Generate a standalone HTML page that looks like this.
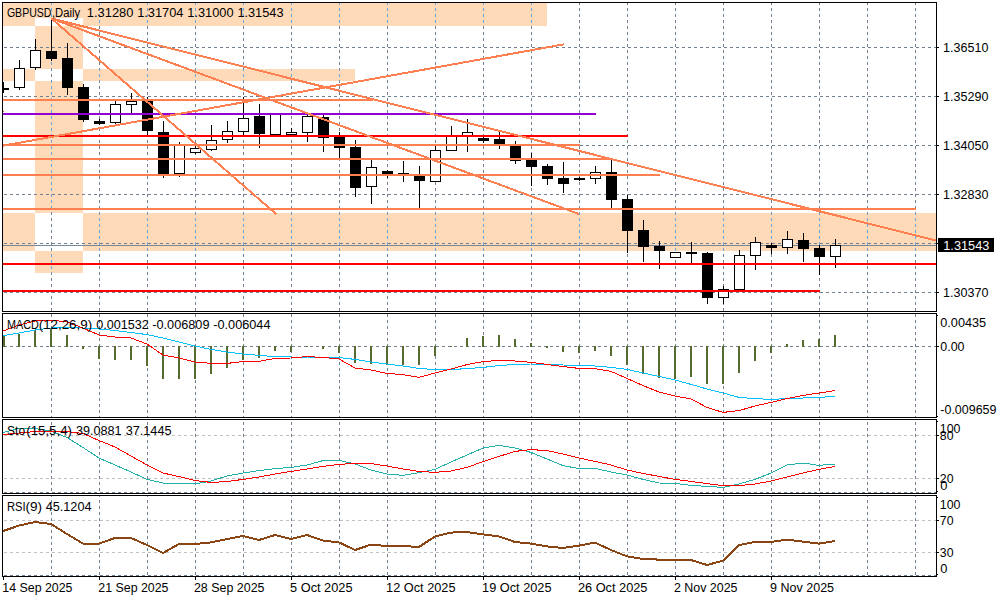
<!DOCTYPE html>
<html><head><meta charset="utf-8"><title>GBPUSD Daily</title>
<style>
html,body{margin:0;padding:0;background:#fff;}
body{width:1000px;height:600px;overflow:hidden;}
svg{display:block;}
text{font-family:"Liberation Sans",sans-serif;font-size:12px;}
</style></head><body>
<svg width="1000" height="600" viewBox="0 0 1000 600">
<defs><clipPath id="mainclip"><rect x="3" y="3" width="933" height="308"/></clipPath></defs>
<rect width="1000" height="600" fill="#fff"/>
<g shape-rendering="crispEdges">
<path d="M51 3v2h1v-2zM51 8v3h1v-3zM51 14v3h1v-3zM51 20v3h1v-3zM51 26v3h1v-3zM51 32v3h1v-3zM51 38v3h1v-3zM51 44v3h1v-3zM51 50v3h1v-3zM51 56v3h1v-3zM51 62v3h1v-3zM51 68v3h1v-3zM51 74v3h1v-3zM51 80v3h1v-3zM51 86v3h1v-3zM51 92v3h1v-3zM51 98v3h1v-3zM51 104v3h1v-3zM51 110v3h1v-3zM51 116v3h1v-3zM51 122v3h1v-3zM51 128v3h1v-3zM51 134v3h1v-3zM51 140v3h1v-3zM51 146v3h1v-3zM51 152v3h1v-3zM51 158v3h1v-3zM51 164v3h1v-3zM51 170v3h1v-3zM51 176v3h1v-3zM51 182v3h1v-3zM51 188v3h1v-3zM51 194v3h1v-3zM51 200v3h1v-3zM51 206v3h1v-3zM51 212v3h1v-3zM51 218v3h1v-3zM51 224v3h1v-3zM51 230v3h1v-3zM51 236v3h1v-3zM51 242v3h1v-3zM51 248v3h1v-3zM51 254v3h1v-3zM51 260v3h1v-3zM51 266v3h1v-3zM51 272v3h1v-3zM51 278v3h1v-3zM51 284v3h1v-3zM51 290v3h1v-3zM51 296v3h1v-3zM51 302v3h1v-3zM51 308v3h1v-3z" fill="#708090"/>
<path d="M99 3v2h1v-2zM99 8v3h1v-3zM99 14v3h1v-3zM99 20v3h1v-3zM99 26v3h1v-3zM99 32v3h1v-3zM99 38v3h1v-3zM99 44v3h1v-3zM99 50v3h1v-3zM99 56v3h1v-3zM99 62v3h1v-3zM99 68v3h1v-3zM99 74v3h1v-3zM99 80v3h1v-3zM99 86v3h1v-3zM99 92v3h1v-3zM99 98v3h1v-3zM99 104v3h1v-3zM99 110v3h1v-3zM99 116v3h1v-3zM99 122v3h1v-3zM99 128v3h1v-3zM99 134v3h1v-3zM99 140v3h1v-3zM99 146v3h1v-3zM99 152v3h1v-3zM99 158v3h1v-3zM99 164v3h1v-3zM99 170v3h1v-3zM99 176v3h1v-3zM99 182v3h1v-3zM99 188v3h1v-3zM99 194v3h1v-3zM99 200v3h1v-3zM99 206v3h1v-3zM99 212v3h1v-3zM99 218v3h1v-3zM99 224v3h1v-3zM99 230v3h1v-3zM99 236v3h1v-3zM99 242v3h1v-3zM99 248v3h1v-3zM99 254v3h1v-3zM99 260v3h1v-3zM99 266v3h1v-3zM99 272v3h1v-3zM99 278v3h1v-3zM99 284v3h1v-3zM99 290v3h1v-3zM99 296v3h1v-3zM99 302v3h1v-3zM99 308v3h1v-3z" fill="#708090"/>
<path d="M147 3v2h1v-2zM147 8v3h1v-3zM147 14v3h1v-3zM147 20v3h1v-3zM147 26v3h1v-3zM147 32v3h1v-3zM147 38v3h1v-3zM147 44v3h1v-3zM147 50v3h1v-3zM147 56v3h1v-3zM147 62v3h1v-3zM147 68v3h1v-3zM147 74v3h1v-3zM147 80v3h1v-3zM147 86v3h1v-3zM147 92v3h1v-3zM147 98v3h1v-3zM147 104v3h1v-3zM147 110v3h1v-3zM147 116v3h1v-3zM147 122v3h1v-3zM147 128v3h1v-3zM147 134v3h1v-3zM147 140v3h1v-3zM147 146v3h1v-3zM147 152v3h1v-3zM147 158v3h1v-3zM147 164v3h1v-3zM147 170v3h1v-3zM147 176v3h1v-3zM147 182v3h1v-3zM147 188v3h1v-3zM147 194v3h1v-3zM147 200v3h1v-3zM147 206v3h1v-3zM147 212v3h1v-3zM147 218v3h1v-3zM147 224v3h1v-3zM147 230v3h1v-3zM147 236v3h1v-3zM147 242v3h1v-3zM147 248v3h1v-3zM147 254v3h1v-3zM147 260v3h1v-3zM147 266v3h1v-3zM147 272v3h1v-3zM147 278v3h1v-3zM147 284v3h1v-3zM147 290v3h1v-3zM147 296v3h1v-3zM147 302v3h1v-3zM147 308v3h1v-3z" fill="#708090"/>
<path d="M195 3v2h1v-2zM195 8v3h1v-3zM195 14v3h1v-3zM195 20v3h1v-3zM195 26v3h1v-3zM195 32v3h1v-3zM195 38v3h1v-3zM195 44v3h1v-3zM195 50v3h1v-3zM195 56v3h1v-3zM195 62v3h1v-3zM195 68v3h1v-3zM195 74v3h1v-3zM195 80v3h1v-3zM195 86v3h1v-3zM195 92v3h1v-3zM195 98v3h1v-3zM195 104v3h1v-3zM195 110v3h1v-3zM195 116v3h1v-3zM195 122v3h1v-3zM195 128v3h1v-3zM195 134v3h1v-3zM195 140v3h1v-3zM195 146v3h1v-3zM195 152v3h1v-3zM195 158v3h1v-3zM195 164v3h1v-3zM195 170v3h1v-3zM195 176v3h1v-3zM195 182v3h1v-3zM195 188v3h1v-3zM195 194v3h1v-3zM195 200v3h1v-3zM195 206v3h1v-3zM195 212v3h1v-3zM195 218v3h1v-3zM195 224v3h1v-3zM195 230v3h1v-3zM195 236v3h1v-3zM195 242v3h1v-3zM195 248v3h1v-3zM195 254v3h1v-3zM195 260v3h1v-3zM195 266v3h1v-3zM195 272v3h1v-3zM195 278v3h1v-3zM195 284v3h1v-3zM195 290v3h1v-3zM195 296v3h1v-3zM195 302v3h1v-3zM195 308v3h1v-3z" fill="#708090"/>
<path d="M243 3v2h1v-2zM243 8v3h1v-3zM243 14v3h1v-3zM243 20v3h1v-3zM243 26v3h1v-3zM243 32v3h1v-3zM243 38v3h1v-3zM243 44v3h1v-3zM243 50v3h1v-3zM243 56v3h1v-3zM243 62v3h1v-3zM243 68v3h1v-3zM243 74v3h1v-3zM243 80v3h1v-3zM243 86v3h1v-3zM243 92v3h1v-3zM243 98v3h1v-3zM243 104v3h1v-3zM243 110v3h1v-3zM243 116v3h1v-3zM243 122v3h1v-3zM243 128v3h1v-3zM243 134v3h1v-3zM243 140v3h1v-3zM243 146v3h1v-3zM243 152v3h1v-3zM243 158v3h1v-3zM243 164v3h1v-3zM243 170v3h1v-3zM243 176v3h1v-3zM243 182v3h1v-3zM243 188v3h1v-3zM243 194v3h1v-3zM243 200v3h1v-3zM243 206v3h1v-3zM243 212v3h1v-3zM243 218v3h1v-3zM243 224v3h1v-3zM243 230v3h1v-3zM243 236v3h1v-3zM243 242v3h1v-3zM243 248v3h1v-3zM243 254v3h1v-3zM243 260v3h1v-3zM243 266v3h1v-3zM243 272v3h1v-3zM243 278v3h1v-3zM243 284v3h1v-3zM243 290v3h1v-3zM243 296v3h1v-3zM243 302v3h1v-3zM243 308v3h1v-3z" fill="#708090"/>
<path d="M291 3v2h1v-2zM291 8v3h1v-3zM291 14v3h1v-3zM291 20v3h1v-3zM291 26v3h1v-3zM291 32v3h1v-3zM291 38v3h1v-3zM291 44v3h1v-3zM291 50v3h1v-3zM291 56v3h1v-3zM291 62v3h1v-3zM291 68v3h1v-3zM291 74v3h1v-3zM291 80v3h1v-3zM291 86v3h1v-3zM291 92v3h1v-3zM291 98v3h1v-3zM291 104v3h1v-3zM291 110v3h1v-3zM291 116v3h1v-3zM291 122v3h1v-3zM291 128v3h1v-3zM291 134v3h1v-3zM291 140v3h1v-3zM291 146v3h1v-3zM291 152v3h1v-3zM291 158v3h1v-3zM291 164v3h1v-3zM291 170v3h1v-3zM291 176v3h1v-3zM291 182v3h1v-3zM291 188v3h1v-3zM291 194v3h1v-3zM291 200v3h1v-3zM291 206v3h1v-3zM291 212v3h1v-3zM291 218v3h1v-3zM291 224v3h1v-3zM291 230v3h1v-3zM291 236v3h1v-3zM291 242v3h1v-3zM291 248v3h1v-3zM291 254v3h1v-3zM291 260v3h1v-3zM291 266v3h1v-3zM291 272v3h1v-3zM291 278v3h1v-3zM291 284v3h1v-3zM291 290v3h1v-3zM291 296v3h1v-3zM291 302v3h1v-3zM291 308v3h1v-3z" fill="#708090"/>
<path d="M339 3v2h1v-2zM339 8v3h1v-3zM339 14v3h1v-3zM339 20v3h1v-3zM339 26v3h1v-3zM339 32v3h1v-3zM339 38v3h1v-3zM339 44v3h1v-3zM339 50v3h1v-3zM339 56v3h1v-3zM339 62v3h1v-3zM339 68v3h1v-3zM339 74v3h1v-3zM339 80v3h1v-3zM339 86v3h1v-3zM339 92v3h1v-3zM339 98v3h1v-3zM339 104v3h1v-3zM339 110v3h1v-3zM339 116v3h1v-3zM339 122v3h1v-3zM339 128v3h1v-3zM339 134v3h1v-3zM339 140v3h1v-3zM339 146v3h1v-3zM339 152v3h1v-3zM339 158v3h1v-3zM339 164v3h1v-3zM339 170v3h1v-3zM339 176v3h1v-3zM339 182v3h1v-3zM339 188v3h1v-3zM339 194v3h1v-3zM339 200v3h1v-3zM339 206v3h1v-3zM339 212v3h1v-3zM339 218v3h1v-3zM339 224v3h1v-3zM339 230v3h1v-3zM339 236v3h1v-3zM339 242v3h1v-3zM339 248v3h1v-3zM339 254v3h1v-3zM339 260v3h1v-3zM339 266v3h1v-3zM339 272v3h1v-3zM339 278v3h1v-3zM339 284v3h1v-3zM339 290v3h1v-3zM339 296v3h1v-3zM339 302v3h1v-3zM339 308v3h1v-3z" fill="#708090"/>
<path d="M387 3v2h1v-2zM387 8v3h1v-3zM387 14v3h1v-3zM387 20v3h1v-3zM387 26v3h1v-3zM387 32v3h1v-3zM387 38v3h1v-3zM387 44v3h1v-3zM387 50v3h1v-3zM387 56v3h1v-3zM387 62v3h1v-3zM387 68v3h1v-3zM387 74v3h1v-3zM387 80v3h1v-3zM387 86v3h1v-3zM387 92v3h1v-3zM387 98v3h1v-3zM387 104v3h1v-3zM387 110v3h1v-3zM387 116v3h1v-3zM387 122v3h1v-3zM387 128v3h1v-3zM387 134v3h1v-3zM387 140v3h1v-3zM387 146v3h1v-3zM387 152v3h1v-3zM387 158v3h1v-3zM387 164v3h1v-3zM387 170v3h1v-3zM387 176v3h1v-3zM387 182v3h1v-3zM387 188v3h1v-3zM387 194v3h1v-3zM387 200v3h1v-3zM387 206v3h1v-3zM387 212v3h1v-3zM387 218v3h1v-3zM387 224v3h1v-3zM387 230v3h1v-3zM387 236v3h1v-3zM387 242v3h1v-3zM387 248v3h1v-3zM387 254v3h1v-3zM387 260v3h1v-3zM387 266v3h1v-3zM387 272v3h1v-3zM387 278v3h1v-3zM387 284v3h1v-3zM387 290v3h1v-3zM387 296v3h1v-3zM387 302v3h1v-3zM387 308v3h1v-3z" fill="#708090"/>
<path d="M435 3v2h1v-2zM435 8v3h1v-3zM435 14v3h1v-3zM435 20v3h1v-3zM435 26v3h1v-3zM435 32v3h1v-3zM435 38v3h1v-3zM435 44v3h1v-3zM435 50v3h1v-3zM435 56v3h1v-3zM435 62v3h1v-3zM435 68v3h1v-3zM435 74v3h1v-3zM435 80v3h1v-3zM435 86v3h1v-3zM435 92v3h1v-3zM435 98v3h1v-3zM435 104v3h1v-3zM435 110v3h1v-3zM435 116v3h1v-3zM435 122v3h1v-3zM435 128v3h1v-3zM435 134v3h1v-3zM435 140v3h1v-3zM435 146v3h1v-3zM435 152v3h1v-3zM435 158v3h1v-3zM435 164v3h1v-3zM435 170v3h1v-3zM435 176v3h1v-3zM435 182v3h1v-3zM435 188v3h1v-3zM435 194v3h1v-3zM435 200v3h1v-3zM435 206v3h1v-3zM435 212v3h1v-3zM435 218v3h1v-3zM435 224v3h1v-3zM435 230v3h1v-3zM435 236v3h1v-3zM435 242v3h1v-3zM435 248v3h1v-3zM435 254v3h1v-3zM435 260v3h1v-3zM435 266v3h1v-3zM435 272v3h1v-3zM435 278v3h1v-3zM435 284v3h1v-3zM435 290v3h1v-3zM435 296v3h1v-3zM435 302v3h1v-3zM435 308v3h1v-3z" fill="#708090"/>
<path d="M483 3v2h1v-2zM483 8v3h1v-3zM483 14v3h1v-3zM483 20v3h1v-3zM483 26v3h1v-3zM483 32v3h1v-3zM483 38v3h1v-3zM483 44v3h1v-3zM483 50v3h1v-3zM483 56v3h1v-3zM483 62v3h1v-3zM483 68v3h1v-3zM483 74v3h1v-3zM483 80v3h1v-3zM483 86v3h1v-3zM483 92v3h1v-3zM483 98v3h1v-3zM483 104v3h1v-3zM483 110v3h1v-3zM483 116v3h1v-3zM483 122v3h1v-3zM483 128v3h1v-3zM483 134v3h1v-3zM483 140v3h1v-3zM483 146v3h1v-3zM483 152v3h1v-3zM483 158v3h1v-3zM483 164v3h1v-3zM483 170v3h1v-3zM483 176v3h1v-3zM483 182v3h1v-3zM483 188v3h1v-3zM483 194v3h1v-3zM483 200v3h1v-3zM483 206v3h1v-3zM483 212v3h1v-3zM483 218v3h1v-3zM483 224v3h1v-3zM483 230v3h1v-3zM483 236v3h1v-3zM483 242v3h1v-3zM483 248v3h1v-3zM483 254v3h1v-3zM483 260v3h1v-3zM483 266v3h1v-3zM483 272v3h1v-3zM483 278v3h1v-3zM483 284v3h1v-3zM483 290v3h1v-3zM483 296v3h1v-3zM483 302v3h1v-3zM483 308v3h1v-3z" fill="#708090"/>
<path d="M531 3v2h1v-2zM531 8v3h1v-3zM531 14v3h1v-3zM531 20v3h1v-3zM531 26v3h1v-3zM531 32v3h1v-3zM531 38v3h1v-3zM531 44v3h1v-3zM531 50v3h1v-3zM531 56v3h1v-3zM531 62v3h1v-3zM531 68v3h1v-3zM531 74v3h1v-3zM531 80v3h1v-3zM531 86v3h1v-3zM531 92v3h1v-3zM531 98v3h1v-3zM531 104v3h1v-3zM531 110v3h1v-3zM531 116v3h1v-3zM531 122v3h1v-3zM531 128v3h1v-3zM531 134v3h1v-3zM531 140v3h1v-3zM531 146v3h1v-3zM531 152v3h1v-3zM531 158v3h1v-3zM531 164v3h1v-3zM531 170v3h1v-3zM531 176v3h1v-3zM531 182v3h1v-3zM531 188v3h1v-3zM531 194v3h1v-3zM531 200v3h1v-3zM531 206v3h1v-3zM531 212v3h1v-3zM531 218v3h1v-3zM531 224v3h1v-3zM531 230v3h1v-3zM531 236v3h1v-3zM531 242v3h1v-3zM531 248v3h1v-3zM531 254v3h1v-3zM531 260v3h1v-3zM531 266v3h1v-3zM531 272v3h1v-3zM531 278v3h1v-3zM531 284v3h1v-3zM531 290v3h1v-3zM531 296v3h1v-3zM531 302v3h1v-3zM531 308v3h1v-3z" fill="#708090"/>
<path d="M579 3v2h1v-2zM579 8v3h1v-3zM579 14v3h1v-3zM579 20v3h1v-3zM579 26v3h1v-3zM579 32v3h1v-3zM579 38v3h1v-3zM579 44v3h1v-3zM579 50v3h1v-3zM579 56v3h1v-3zM579 62v3h1v-3zM579 68v3h1v-3zM579 74v3h1v-3zM579 80v3h1v-3zM579 86v3h1v-3zM579 92v3h1v-3zM579 98v3h1v-3zM579 104v3h1v-3zM579 110v3h1v-3zM579 116v3h1v-3zM579 122v3h1v-3zM579 128v3h1v-3zM579 134v3h1v-3zM579 140v3h1v-3zM579 146v3h1v-3zM579 152v3h1v-3zM579 158v3h1v-3zM579 164v3h1v-3zM579 170v3h1v-3zM579 176v3h1v-3zM579 182v3h1v-3zM579 188v3h1v-3zM579 194v3h1v-3zM579 200v3h1v-3zM579 206v3h1v-3zM579 212v3h1v-3zM579 218v3h1v-3zM579 224v3h1v-3zM579 230v3h1v-3zM579 236v3h1v-3zM579 242v3h1v-3zM579 248v3h1v-3zM579 254v3h1v-3zM579 260v3h1v-3zM579 266v3h1v-3zM579 272v3h1v-3zM579 278v3h1v-3zM579 284v3h1v-3zM579 290v3h1v-3zM579 296v3h1v-3zM579 302v3h1v-3zM579 308v3h1v-3z" fill="#708090"/>
<path d="M627 3v2h1v-2zM627 8v3h1v-3zM627 14v3h1v-3zM627 20v3h1v-3zM627 26v3h1v-3zM627 32v3h1v-3zM627 38v3h1v-3zM627 44v3h1v-3zM627 50v3h1v-3zM627 56v3h1v-3zM627 62v3h1v-3zM627 68v3h1v-3zM627 74v3h1v-3zM627 80v3h1v-3zM627 86v3h1v-3zM627 92v3h1v-3zM627 98v3h1v-3zM627 104v3h1v-3zM627 110v3h1v-3zM627 116v3h1v-3zM627 122v3h1v-3zM627 128v3h1v-3zM627 134v3h1v-3zM627 140v3h1v-3zM627 146v3h1v-3zM627 152v3h1v-3zM627 158v3h1v-3zM627 164v3h1v-3zM627 170v3h1v-3zM627 176v3h1v-3zM627 182v3h1v-3zM627 188v3h1v-3zM627 194v3h1v-3zM627 200v3h1v-3zM627 206v3h1v-3zM627 212v3h1v-3zM627 218v3h1v-3zM627 224v3h1v-3zM627 230v3h1v-3zM627 236v3h1v-3zM627 242v3h1v-3zM627 248v3h1v-3zM627 254v3h1v-3zM627 260v3h1v-3zM627 266v3h1v-3zM627 272v3h1v-3zM627 278v3h1v-3zM627 284v3h1v-3zM627 290v3h1v-3zM627 296v3h1v-3zM627 302v3h1v-3zM627 308v3h1v-3z" fill="#708090"/>
<path d="M675 3v2h1v-2zM675 8v3h1v-3zM675 14v3h1v-3zM675 20v3h1v-3zM675 26v3h1v-3zM675 32v3h1v-3zM675 38v3h1v-3zM675 44v3h1v-3zM675 50v3h1v-3zM675 56v3h1v-3zM675 62v3h1v-3zM675 68v3h1v-3zM675 74v3h1v-3zM675 80v3h1v-3zM675 86v3h1v-3zM675 92v3h1v-3zM675 98v3h1v-3zM675 104v3h1v-3zM675 110v3h1v-3zM675 116v3h1v-3zM675 122v3h1v-3zM675 128v3h1v-3zM675 134v3h1v-3zM675 140v3h1v-3zM675 146v3h1v-3zM675 152v3h1v-3zM675 158v3h1v-3zM675 164v3h1v-3zM675 170v3h1v-3zM675 176v3h1v-3zM675 182v3h1v-3zM675 188v3h1v-3zM675 194v3h1v-3zM675 200v3h1v-3zM675 206v3h1v-3zM675 212v3h1v-3zM675 218v3h1v-3zM675 224v3h1v-3zM675 230v3h1v-3zM675 236v3h1v-3zM675 242v3h1v-3zM675 248v3h1v-3zM675 254v3h1v-3zM675 260v3h1v-3zM675 266v3h1v-3zM675 272v3h1v-3zM675 278v3h1v-3zM675 284v3h1v-3zM675 290v3h1v-3zM675 296v3h1v-3zM675 302v3h1v-3zM675 308v3h1v-3z" fill="#708090"/>
<path d="M723 3v2h1v-2zM723 8v3h1v-3zM723 14v3h1v-3zM723 20v3h1v-3zM723 26v3h1v-3zM723 32v3h1v-3zM723 38v3h1v-3zM723 44v3h1v-3zM723 50v3h1v-3zM723 56v3h1v-3zM723 62v3h1v-3zM723 68v3h1v-3zM723 74v3h1v-3zM723 80v3h1v-3zM723 86v3h1v-3zM723 92v3h1v-3zM723 98v3h1v-3zM723 104v3h1v-3zM723 110v3h1v-3zM723 116v3h1v-3zM723 122v3h1v-3zM723 128v3h1v-3zM723 134v3h1v-3zM723 140v3h1v-3zM723 146v3h1v-3zM723 152v3h1v-3zM723 158v3h1v-3zM723 164v3h1v-3zM723 170v3h1v-3zM723 176v3h1v-3zM723 182v3h1v-3zM723 188v3h1v-3zM723 194v3h1v-3zM723 200v3h1v-3zM723 206v3h1v-3zM723 212v3h1v-3zM723 218v3h1v-3zM723 224v3h1v-3zM723 230v3h1v-3zM723 236v3h1v-3zM723 242v3h1v-3zM723 248v3h1v-3zM723 254v3h1v-3zM723 260v3h1v-3zM723 266v3h1v-3zM723 272v3h1v-3zM723 278v3h1v-3zM723 284v3h1v-3zM723 290v3h1v-3zM723 296v3h1v-3zM723 302v3h1v-3zM723 308v3h1v-3z" fill="#708090"/>
<path d="M771 3v2h1v-2zM771 8v3h1v-3zM771 14v3h1v-3zM771 20v3h1v-3zM771 26v3h1v-3zM771 32v3h1v-3zM771 38v3h1v-3zM771 44v3h1v-3zM771 50v3h1v-3zM771 56v3h1v-3zM771 62v3h1v-3zM771 68v3h1v-3zM771 74v3h1v-3zM771 80v3h1v-3zM771 86v3h1v-3zM771 92v3h1v-3zM771 98v3h1v-3zM771 104v3h1v-3zM771 110v3h1v-3zM771 116v3h1v-3zM771 122v3h1v-3zM771 128v3h1v-3zM771 134v3h1v-3zM771 140v3h1v-3zM771 146v3h1v-3zM771 152v3h1v-3zM771 158v3h1v-3zM771 164v3h1v-3zM771 170v3h1v-3zM771 176v3h1v-3zM771 182v3h1v-3zM771 188v3h1v-3zM771 194v3h1v-3zM771 200v3h1v-3zM771 206v3h1v-3zM771 212v3h1v-3zM771 218v3h1v-3zM771 224v3h1v-3zM771 230v3h1v-3zM771 236v3h1v-3zM771 242v3h1v-3zM771 248v3h1v-3zM771 254v3h1v-3zM771 260v3h1v-3zM771 266v3h1v-3zM771 272v3h1v-3zM771 278v3h1v-3zM771 284v3h1v-3zM771 290v3h1v-3zM771 296v3h1v-3zM771 302v3h1v-3zM771 308v3h1v-3z" fill="#708090"/>
<path d="M819 3v2h1v-2zM819 8v3h1v-3zM819 14v3h1v-3zM819 20v3h1v-3zM819 26v3h1v-3zM819 32v3h1v-3zM819 38v3h1v-3zM819 44v3h1v-3zM819 50v3h1v-3zM819 56v3h1v-3zM819 62v3h1v-3zM819 68v3h1v-3zM819 74v3h1v-3zM819 80v3h1v-3zM819 86v3h1v-3zM819 92v3h1v-3zM819 98v3h1v-3zM819 104v3h1v-3zM819 110v3h1v-3zM819 116v3h1v-3zM819 122v3h1v-3zM819 128v3h1v-3zM819 134v3h1v-3zM819 140v3h1v-3zM819 146v3h1v-3zM819 152v3h1v-3zM819 158v3h1v-3zM819 164v3h1v-3zM819 170v3h1v-3zM819 176v3h1v-3zM819 182v3h1v-3zM819 188v3h1v-3zM819 194v3h1v-3zM819 200v3h1v-3zM819 206v3h1v-3zM819 212v3h1v-3zM819 218v3h1v-3zM819 224v3h1v-3zM819 230v3h1v-3zM819 236v3h1v-3zM819 242v3h1v-3zM819 248v3h1v-3zM819 254v3h1v-3zM819 260v3h1v-3zM819 266v3h1v-3zM819 272v3h1v-3zM819 278v3h1v-3zM819 284v3h1v-3zM819 290v3h1v-3zM819 296v3h1v-3zM819 302v3h1v-3zM819 308v3h1v-3z" fill="#708090"/>
<path d="M867 3v2h1v-2zM867 8v3h1v-3zM867 14v3h1v-3zM867 20v3h1v-3zM867 26v3h1v-3zM867 32v3h1v-3zM867 38v3h1v-3zM867 44v3h1v-3zM867 50v3h1v-3zM867 56v3h1v-3zM867 62v3h1v-3zM867 68v3h1v-3zM867 74v3h1v-3zM867 80v3h1v-3zM867 86v3h1v-3zM867 92v3h1v-3zM867 98v3h1v-3zM867 104v3h1v-3zM867 110v3h1v-3zM867 116v3h1v-3zM867 122v3h1v-3zM867 128v3h1v-3zM867 134v3h1v-3zM867 140v3h1v-3zM867 146v3h1v-3zM867 152v3h1v-3zM867 158v3h1v-3zM867 164v3h1v-3zM867 170v3h1v-3zM867 176v3h1v-3zM867 182v3h1v-3zM867 188v3h1v-3zM867 194v3h1v-3zM867 200v3h1v-3zM867 206v3h1v-3zM867 212v3h1v-3zM867 218v3h1v-3zM867 224v3h1v-3zM867 230v3h1v-3zM867 236v3h1v-3zM867 242v3h1v-3zM867 248v3h1v-3zM867 254v3h1v-3zM867 260v3h1v-3zM867 266v3h1v-3zM867 272v3h1v-3zM867 278v3h1v-3zM867 284v3h1v-3zM867 290v3h1v-3zM867 296v3h1v-3zM867 302v3h1v-3zM867 308v3h1v-3z" fill="#708090"/>
<path d="M915 3v2h1v-2zM915 8v3h1v-3zM915 14v3h1v-3zM915 20v3h1v-3zM915 26v3h1v-3zM915 32v3h1v-3zM915 38v3h1v-3zM915 44v3h1v-3zM915 50v3h1v-3zM915 56v3h1v-3zM915 62v3h1v-3zM915 68v3h1v-3zM915 74v3h1v-3zM915 80v3h1v-3zM915 86v3h1v-3zM915 92v3h1v-3zM915 98v3h1v-3zM915 104v3h1v-3zM915 110v3h1v-3zM915 116v3h1v-3zM915 122v3h1v-3zM915 128v3h1v-3zM915 134v3h1v-3zM915 140v3h1v-3zM915 146v3h1v-3zM915 152v3h1v-3zM915 158v3h1v-3zM915 164v3h1v-3zM915 170v3h1v-3zM915 176v3h1v-3zM915 182v3h1v-3zM915 188v3h1v-3zM915 194v3h1v-3zM915 200v3h1v-3zM915 206v3h1v-3zM915 212v3h1v-3zM915 218v3h1v-3zM915 224v3h1v-3zM915 230v3h1v-3zM915 236v3h1v-3zM915 242v3h1v-3zM915 248v3h1v-3zM915 254v3h1v-3zM915 260v3h1v-3zM915 266v3h1v-3zM915 272v3h1v-3zM915 278v3h1v-3zM915 284v3h1v-3zM915 290v3h1v-3zM915 296v3h1v-3zM915 302v3h1v-3zM915 308v3h1v-3z" fill="#708090"/>
<path d="M51 314v3h1v-3zM51 320v3h1v-3zM51 326v3h1v-3zM51 332v3h1v-3zM51 338v3h1v-3zM51 344v3h1v-3zM51 350v3h1v-3zM51 356v3h1v-3zM51 362v3h1v-3zM51 368v3h1v-3zM51 374v3h1v-3zM51 380v3h1v-3zM51 386v3h1v-3zM51 392v3h1v-3zM51 398v3h1v-3zM51 404v3h1v-3zM51 410v3h1v-3zM51 416v1h1v-1z" fill="#708090"/>
<path d="M99 314v3h1v-3zM99 320v3h1v-3zM99 326v3h1v-3zM99 332v3h1v-3zM99 338v3h1v-3zM99 344v3h1v-3zM99 350v3h1v-3zM99 356v3h1v-3zM99 362v3h1v-3zM99 368v3h1v-3zM99 374v3h1v-3zM99 380v3h1v-3zM99 386v3h1v-3zM99 392v3h1v-3zM99 398v3h1v-3zM99 404v3h1v-3zM99 410v3h1v-3zM99 416v1h1v-1z" fill="#708090"/>
<path d="M147 314v3h1v-3zM147 320v3h1v-3zM147 326v3h1v-3zM147 332v3h1v-3zM147 338v3h1v-3zM147 344v3h1v-3zM147 350v3h1v-3zM147 356v3h1v-3zM147 362v3h1v-3zM147 368v3h1v-3zM147 374v3h1v-3zM147 380v3h1v-3zM147 386v3h1v-3zM147 392v3h1v-3zM147 398v3h1v-3zM147 404v3h1v-3zM147 410v3h1v-3zM147 416v1h1v-1z" fill="#708090"/>
<path d="M195 314v3h1v-3zM195 320v3h1v-3zM195 326v3h1v-3zM195 332v3h1v-3zM195 338v3h1v-3zM195 344v3h1v-3zM195 350v3h1v-3zM195 356v3h1v-3zM195 362v3h1v-3zM195 368v3h1v-3zM195 374v3h1v-3zM195 380v3h1v-3zM195 386v3h1v-3zM195 392v3h1v-3zM195 398v3h1v-3zM195 404v3h1v-3zM195 410v3h1v-3zM195 416v1h1v-1z" fill="#708090"/>
<path d="M243 314v3h1v-3zM243 320v3h1v-3zM243 326v3h1v-3zM243 332v3h1v-3zM243 338v3h1v-3zM243 344v3h1v-3zM243 350v3h1v-3zM243 356v3h1v-3zM243 362v3h1v-3zM243 368v3h1v-3zM243 374v3h1v-3zM243 380v3h1v-3zM243 386v3h1v-3zM243 392v3h1v-3zM243 398v3h1v-3zM243 404v3h1v-3zM243 410v3h1v-3zM243 416v1h1v-1z" fill="#708090"/>
<path d="M291 314v3h1v-3zM291 320v3h1v-3zM291 326v3h1v-3zM291 332v3h1v-3zM291 338v3h1v-3zM291 344v3h1v-3zM291 350v3h1v-3zM291 356v3h1v-3zM291 362v3h1v-3zM291 368v3h1v-3zM291 374v3h1v-3zM291 380v3h1v-3zM291 386v3h1v-3zM291 392v3h1v-3zM291 398v3h1v-3zM291 404v3h1v-3zM291 410v3h1v-3zM291 416v1h1v-1z" fill="#708090"/>
<path d="M339 314v3h1v-3zM339 320v3h1v-3zM339 326v3h1v-3zM339 332v3h1v-3zM339 338v3h1v-3zM339 344v3h1v-3zM339 350v3h1v-3zM339 356v3h1v-3zM339 362v3h1v-3zM339 368v3h1v-3zM339 374v3h1v-3zM339 380v3h1v-3zM339 386v3h1v-3zM339 392v3h1v-3zM339 398v3h1v-3zM339 404v3h1v-3zM339 410v3h1v-3zM339 416v1h1v-1z" fill="#708090"/>
<path d="M387 314v3h1v-3zM387 320v3h1v-3zM387 326v3h1v-3zM387 332v3h1v-3zM387 338v3h1v-3zM387 344v3h1v-3zM387 350v3h1v-3zM387 356v3h1v-3zM387 362v3h1v-3zM387 368v3h1v-3zM387 374v3h1v-3zM387 380v3h1v-3zM387 386v3h1v-3zM387 392v3h1v-3zM387 398v3h1v-3zM387 404v3h1v-3zM387 410v3h1v-3zM387 416v1h1v-1z" fill="#708090"/>
<path d="M435 314v3h1v-3zM435 320v3h1v-3zM435 326v3h1v-3zM435 332v3h1v-3zM435 338v3h1v-3zM435 344v3h1v-3zM435 350v3h1v-3zM435 356v3h1v-3zM435 362v3h1v-3zM435 368v3h1v-3zM435 374v3h1v-3zM435 380v3h1v-3zM435 386v3h1v-3zM435 392v3h1v-3zM435 398v3h1v-3zM435 404v3h1v-3zM435 410v3h1v-3zM435 416v1h1v-1z" fill="#708090"/>
<path d="M483 314v3h1v-3zM483 320v3h1v-3zM483 326v3h1v-3zM483 332v3h1v-3zM483 338v3h1v-3zM483 344v3h1v-3zM483 350v3h1v-3zM483 356v3h1v-3zM483 362v3h1v-3zM483 368v3h1v-3zM483 374v3h1v-3zM483 380v3h1v-3zM483 386v3h1v-3zM483 392v3h1v-3zM483 398v3h1v-3zM483 404v3h1v-3zM483 410v3h1v-3zM483 416v1h1v-1z" fill="#708090"/>
<path d="M531 314v3h1v-3zM531 320v3h1v-3zM531 326v3h1v-3zM531 332v3h1v-3zM531 338v3h1v-3zM531 344v3h1v-3zM531 350v3h1v-3zM531 356v3h1v-3zM531 362v3h1v-3zM531 368v3h1v-3zM531 374v3h1v-3zM531 380v3h1v-3zM531 386v3h1v-3zM531 392v3h1v-3zM531 398v3h1v-3zM531 404v3h1v-3zM531 410v3h1v-3zM531 416v1h1v-1z" fill="#708090"/>
<path d="M579 314v3h1v-3zM579 320v3h1v-3zM579 326v3h1v-3zM579 332v3h1v-3zM579 338v3h1v-3zM579 344v3h1v-3zM579 350v3h1v-3zM579 356v3h1v-3zM579 362v3h1v-3zM579 368v3h1v-3zM579 374v3h1v-3zM579 380v3h1v-3zM579 386v3h1v-3zM579 392v3h1v-3zM579 398v3h1v-3zM579 404v3h1v-3zM579 410v3h1v-3zM579 416v1h1v-1z" fill="#708090"/>
<path d="M627 314v3h1v-3zM627 320v3h1v-3zM627 326v3h1v-3zM627 332v3h1v-3zM627 338v3h1v-3zM627 344v3h1v-3zM627 350v3h1v-3zM627 356v3h1v-3zM627 362v3h1v-3zM627 368v3h1v-3zM627 374v3h1v-3zM627 380v3h1v-3zM627 386v3h1v-3zM627 392v3h1v-3zM627 398v3h1v-3zM627 404v3h1v-3zM627 410v3h1v-3zM627 416v1h1v-1z" fill="#708090"/>
<path d="M675 314v3h1v-3zM675 320v3h1v-3zM675 326v3h1v-3zM675 332v3h1v-3zM675 338v3h1v-3zM675 344v3h1v-3zM675 350v3h1v-3zM675 356v3h1v-3zM675 362v3h1v-3zM675 368v3h1v-3zM675 374v3h1v-3zM675 380v3h1v-3zM675 386v3h1v-3zM675 392v3h1v-3zM675 398v3h1v-3zM675 404v3h1v-3zM675 410v3h1v-3zM675 416v1h1v-1z" fill="#708090"/>
<path d="M723 314v3h1v-3zM723 320v3h1v-3zM723 326v3h1v-3zM723 332v3h1v-3zM723 338v3h1v-3zM723 344v3h1v-3zM723 350v3h1v-3zM723 356v3h1v-3zM723 362v3h1v-3zM723 368v3h1v-3zM723 374v3h1v-3zM723 380v3h1v-3zM723 386v3h1v-3zM723 392v3h1v-3zM723 398v3h1v-3zM723 404v3h1v-3zM723 410v3h1v-3zM723 416v1h1v-1z" fill="#708090"/>
<path d="M771 314v3h1v-3zM771 320v3h1v-3zM771 326v3h1v-3zM771 332v3h1v-3zM771 338v3h1v-3zM771 344v3h1v-3zM771 350v3h1v-3zM771 356v3h1v-3zM771 362v3h1v-3zM771 368v3h1v-3zM771 374v3h1v-3zM771 380v3h1v-3zM771 386v3h1v-3zM771 392v3h1v-3zM771 398v3h1v-3zM771 404v3h1v-3zM771 410v3h1v-3zM771 416v1h1v-1z" fill="#708090"/>
<path d="M819 314v3h1v-3zM819 320v3h1v-3zM819 326v3h1v-3zM819 332v3h1v-3zM819 338v3h1v-3zM819 344v3h1v-3zM819 350v3h1v-3zM819 356v3h1v-3zM819 362v3h1v-3zM819 368v3h1v-3zM819 374v3h1v-3zM819 380v3h1v-3zM819 386v3h1v-3zM819 392v3h1v-3zM819 398v3h1v-3zM819 404v3h1v-3zM819 410v3h1v-3zM819 416v1h1v-1z" fill="#708090"/>
<path d="M867 314v3h1v-3zM867 320v3h1v-3zM867 326v3h1v-3zM867 332v3h1v-3zM867 338v3h1v-3zM867 344v3h1v-3zM867 350v3h1v-3zM867 356v3h1v-3zM867 362v3h1v-3zM867 368v3h1v-3zM867 374v3h1v-3zM867 380v3h1v-3zM867 386v3h1v-3zM867 392v3h1v-3zM867 398v3h1v-3zM867 404v3h1v-3zM867 410v3h1v-3zM867 416v1h1v-1z" fill="#708090"/>
<path d="M915 314v3h1v-3zM915 320v3h1v-3zM915 326v3h1v-3zM915 332v3h1v-3zM915 338v3h1v-3zM915 344v3h1v-3zM915 350v3h1v-3zM915 356v3h1v-3zM915 362v3h1v-3zM915 368v3h1v-3zM915 374v3h1v-3zM915 380v3h1v-3zM915 386v3h1v-3zM915 392v3h1v-3zM915 398v3h1v-3zM915 404v3h1v-3zM915 410v3h1v-3zM915 416v1h1v-1z" fill="#708090"/>
<path d="M51 422v3h1v-3zM51 428v3h1v-3zM51 434v3h1v-3zM51 440v3h1v-3zM51 446v3h1v-3zM51 452v3h1v-3zM51 458v3h1v-3zM51 464v3h1v-3zM51 470v3h1v-3zM51 476v3h1v-3zM51 482v3h1v-3zM51 488v3h1v-3z" fill="#708090"/>
<path d="M99 422v3h1v-3zM99 428v3h1v-3zM99 434v3h1v-3zM99 440v3h1v-3zM99 446v3h1v-3zM99 452v3h1v-3zM99 458v3h1v-3zM99 464v3h1v-3zM99 470v3h1v-3zM99 476v3h1v-3zM99 482v3h1v-3zM99 488v3h1v-3z" fill="#708090"/>
<path d="M147 422v3h1v-3zM147 428v3h1v-3zM147 434v3h1v-3zM147 440v3h1v-3zM147 446v3h1v-3zM147 452v3h1v-3zM147 458v3h1v-3zM147 464v3h1v-3zM147 470v3h1v-3zM147 476v3h1v-3zM147 482v3h1v-3zM147 488v3h1v-3z" fill="#708090"/>
<path d="M195 422v3h1v-3zM195 428v3h1v-3zM195 434v3h1v-3zM195 440v3h1v-3zM195 446v3h1v-3zM195 452v3h1v-3zM195 458v3h1v-3zM195 464v3h1v-3zM195 470v3h1v-3zM195 476v3h1v-3zM195 482v3h1v-3zM195 488v3h1v-3z" fill="#708090"/>
<path d="M243 422v3h1v-3zM243 428v3h1v-3zM243 434v3h1v-3zM243 440v3h1v-3zM243 446v3h1v-3zM243 452v3h1v-3zM243 458v3h1v-3zM243 464v3h1v-3zM243 470v3h1v-3zM243 476v3h1v-3zM243 482v3h1v-3zM243 488v3h1v-3z" fill="#708090"/>
<path d="M291 422v3h1v-3zM291 428v3h1v-3zM291 434v3h1v-3zM291 440v3h1v-3zM291 446v3h1v-3zM291 452v3h1v-3zM291 458v3h1v-3zM291 464v3h1v-3zM291 470v3h1v-3zM291 476v3h1v-3zM291 482v3h1v-3zM291 488v3h1v-3z" fill="#708090"/>
<path d="M339 422v3h1v-3zM339 428v3h1v-3zM339 434v3h1v-3zM339 440v3h1v-3zM339 446v3h1v-3zM339 452v3h1v-3zM339 458v3h1v-3zM339 464v3h1v-3zM339 470v3h1v-3zM339 476v3h1v-3zM339 482v3h1v-3zM339 488v3h1v-3z" fill="#708090"/>
<path d="M387 422v3h1v-3zM387 428v3h1v-3zM387 434v3h1v-3zM387 440v3h1v-3zM387 446v3h1v-3zM387 452v3h1v-3zM387 458v3h1v-3zM387 464v3h1v-3zM387 470v3h1v-3zM387 476v3h1v-3zM387 482v3h1v-3zM387 488v3h1v-3z" fill="#708090"/>
<path d="M435 422v3h1v-3zM435 428v3h1v-3zM435 434v3h1v-3zM435 440v3h1v-3zM435 446v3h1v-3zM435 452v3h1v-3zM435 458v3h1v-3zM435 464v3h1v-3zM435 470v3h1v-3zM435 476v3h1v-3zM435 482v3h1v-3zM435 488v3h1v-3z" fill="#708090"/>
<path d="M483 422v3h1v-3zM483 428v3h1v-3zM483 434v3h1v-3zM483 440v3h1v-3zM483 446v3h1v-3zM483 452v3h1v-3zM483 458v3h1v-3zM483 464v3h1v-3zM483 470v3h1v-3zM483 476v3h1v-3zM483 482v3h1v-3zM483 488v3h1v-3z" fill="#708090"/>
<path d="M531 422v3h1v-3zM531 428v3h1v-3zM531 434v3h1v-3zM531 440v3h1v-3zM531 446v3h1v-3zM531 452v3h1v-3zM531 458v3h1v-3zM531 464v3h1v-3zM531 470v3h1v-3zM531 476v3h1v-3zM531 482v3h1v-3zM531 488v3h1v-3z" fill="#708090"/>
<path d="M579 422v3h1v-3zM579 428v3h1v-3zM579 434v3h1v-3zM579 440v3h1v-3zM579 446v3h1v-3zM579 452v3h1v-3zM579 458v3h1v-3zM579 464v3h1v-3zM579 470v3h1v-3zM579 476v3h1v-3zM579 482v3h1v-3zM579 488v3h1v-3z" fill="#708090"/>
<path d="M627 422v3h1v-3zM627 428v3h1v-3zM627 434v3h1v-3zM627 440v3h1v-3zM627 446v3h1v-3zM627 452v3h1v-3zM627 458v3h1v-3zM627 464v3h1v-3zM627 470v3h1v-3zM627 476v3h1v-3zM627 482v3h1v-3zM627 488v3h1v-3z" fill="#708090"/>
<path d="M675 422v3h1v-3zM675 428v3h1v-3zM675 434v3h1v-3zM675 440v3h1v-3zM675 446v3h1v-3zM675 452v3h1v-3zM675 458v3h1v-3zM675 464v3h1v-3zM675 470v3h1v-3zM675 476v3h1v-3zM675 482v3h1v-3zM675 488v3h1v-3z" fill="#708090"/>
<path d="M723 422v3h1v-3zM723 428v3h1v-3zM723 434v3h1v-3zM723 440v3h1v-3zM723 446v3h1v-3zM723 452v3h1v-3zM723 458v3h1v-3zM723 464v3h1v-3zM723 470v3h1v-3zM723 476v3h1v-3zM723 482v3h1v-3zM723 488v3h1v-3z" fill="#708090"/>
<path d="M771 422v3h1v-3zM771 428v3h1v-3zM771 434v3h1v-3zM771 440v3h1v-3zM771 446v3h1v-3zM771 452v3h1v-3zM771 458v3h1v-3zM771 464v3h1v-3zM771 470v3h1v-3zM771 476v3h1v-3zM771 482v3h1v-3zM771 488v3h1v-3z" fill="#708090"/>
<path d="M819 422v3h1v-3zM819 428v3h1v-3zM819 434v3h1v-3zM819 440v3h1v-3zM819 446v3h1v-3zM819 452v3h1v-3zM819 458v3h1v-3zM819 464v3h1v-3zM819 470v3h1v-3zM819 476v3h1v-3zM819 482v3h1v-3zM819 488v3h1v-3z" fill="#708090"/>
<path d="M867 422v3h1v-3zM867 428v3h1v-3zM867 434v3h1v-3zM867 440v3h1v-3zM867 446v3h1v-3zM867 452v3h1v-3zM867 458v3h1v-3zM867 464v3h1v-3zM867 470v3h1v-3zM867 476v3h1v-3zM867 482v3h1v-3zM867 488v3h1v-3z" fill="#708090"/>
<path d="M915 422v3h1v-3zM915 428v3h1v-3zM915 434v3h1v-3zM915 440v3h1v-3zM915 446v3h1v-3zM915 452v3h1v-3zM915 458v3h1v-3zM915 464v3h1v-3zM915 470v3h1v-3zM915 476v3h1v-3zM915 482v3h1v-3zM915 488v3h1v-3z" fill="#708090"/>
<path d="M51 496v1h1v-1zM51 500v3h1v-3zM51 506v3h1v-3zM51 512v3h1v-3zM51 518v3h1v-3zM51 524v3h1v-3zM51 530v3h1v-3zM51 536v3h1v-3zM51 542v3h1v-3zM51 548v3h1v-3zM51 554v3h1v-3zM51 560v3h1v-3zM51 566v3h1v-3zM51 572v3h1v-3z" fill="#708090"/>
<path d="M99 496v1h1v-1zM99 500v3h1v-3zM99 506v3h1v-3zM99 512v3h1v-3zM99 518v3h1v-3zM99 524v3h1v-3zM99 530v3h1v-3zM99 536v3h1v-3zM99 542v3h1v-3zM99 548v3h1v-3zM99 554v3h1v-3zM99 560v3h1v-3zM99 566v3h1v-3zM99 572v3h1v-3z" fill="#708090"/>
<path d="M147 496v1h1v-1zM147 500v3h1v-3zM147 506v3h1v-3zM147 512v3h1v-3zM147 518v3h1v-3zM147 524v3h1v-3zM147 530v3h1v-3zM147 536v3h1v-3zM147 542v3h1v-3zM147 548v3h1v-3zM147 554v3h1v-3zM147 560v3h1v-3zM147 566v3h1v-3zM147 572v3h1v-3z" fill="#708090"/>
<path d="M195 496v1h1v-1zM195 500v3h1v-3zM195 506v3h1v-3zM195 512v3h1v-3zM195 518v3h1v-3zM195 524v3h1v-3zM195 530v3h1v-3zM195 536v3h1v-3zM195 542v3h1v-3zM195 548v3h1v-3zM195 554v3h1v-3zM195 560v3h1v-3zM195 566v3h1v-3zM195 572v3h1v-3z" fill="#708090"/>
<path d="M243 496v1h1v-1zM243 500v3h1v-3zM243 506v3h1v-3zM243 512v3h1v-3zM243 518v3h1v-3zM243 524v3h1v-3zM243 530v3h1v-3zM243 536v3h1v-3zM243 542v3h1v-3zM243 548v3h1v-3zM243 554v3h1v-3zM243 560v3h1v-3zM243 566v3h1v-3zM243 572v3h1v-3z" fill="#708090"/>
<path d="M291 496v1h1v-1zM291 500v3h1v-3zM291 506v3h1v-3zM291 512v3h1v-3zM291 518v3h1v-3zM291 524v3h1v-3zM291 530v3h1v-3zM291 536v3h1v-3zM291 542v3h1v-3zM291 548v3h1v-3zM291 554v3h1v-3zM291 560v3h1v-3zM291 566v3h1v-3zM291 572v3h1v-3z" fill="#708090"/>
<path d="M339 496v1h1v-1zM339 500v3h1v-3zM339 506v3h1v-3zM339 512v3h1v-3zM339 518v3h1v-3zM339 524v3h1v-3zM339 530v3h1v-3zM339 536v3h1v-3zM339 542v3h1v-3zM339 548v3h1v-3zM339 554v3h1v-3zM339 560v3h1v-3zM339 566v3h1v-3zM339 572v3h1v-3z" fill="#708090"/>
<path d="M387 496v1h1v-1zM387 500v3h1v-3zM387 506v3h1v-3zM387 512v3h1v-3zM387 518v3h1v-3zM387 524v3h1v-3zM387 530v3h1v-3zM387 536v3h1v-3zM387 542v3h1v-3zM387 548v3h1v-3zM387 554v3h1v-3zM387 560v3h1v-3zM387 566v3h1v-3zM387 572v3h1v-3z" fill="#708090"/>
<path d="M435 496v1h1v-1zM435 500v3h1v-3zM435 506v3h1v-3zM435 512v3h1v-3zM435 518v3h1v-3zM435 524v3h1v-3zM435 530v3h1v-3zM435 536v3h1v-3zM435 542v3h1v-3zM435 548v3h1v-3zM435 554v3h1v-3zM435 560v3h1v-3zM435 566v3h1v-3zM435 572v3h1v-3z" fill="#708090"/>
<path d="M483 496v1h1v-1zM483 500v3h1v-3zM483 506v3h1v-3zM483 512v3h1v-3zM483 518v3h1v-3zM483 524v3h1v-3zM483 530v3h1v-3zM483 536v3h1v-3zM483 542v3h1v-3zM483 548v3h1v-3zM483 554v3h1v-3zM483 560v3h1v-3zM483 566v3h1v-3zM483 572v3h1v-3z" fill="#708090"/>
<path d="M531 496v1h1v-1zM531 500v3h1v-3zM531 506v3h1v-3zM531 512v3h1v-3zM531 518v3h1v-3zM531 524v3h1v-3zM531 530v3h1v-3zM531 536v3h1v-3zM531 542v3h1v-3zM531 548v3h1v-3zM531 554v3h1v-3zM531 560v3h1v-3zM531 566v3h1v-3zM531 572v3h1v-3z" fill="#708090"/>
<path d="M579 496v1h1v-1zM579 500v3h1v-3zM579 506v3h1v-3zM579 512v3h1v-3zM579 518v3h1v-3zM579 524v3h1v-3zM579 530v3h1v-3zM579 536v3h1v-3zM579 542v3h1v-3zM579 548v3h1v-3zM579 554v3h1v-3zM579 560v3h1v-3zM579 566v3h1v-3zM579 572v3h1v-3z" fill="#708090"/>
<path d="M627 496v1h1v-1zM627 500v3h1v-3zM627 506v3h1v-3zM627 512v3h1v-3zM627 518v3h1v-3zM627 524v3h1v-3zM627 530v3h1v-3zM627 536v3h1v-3zM627 542v3h1v-3zM627 548v3h1v-3zM627 554v3h1v-3zM627 560v3h1v-3zM627 566v3h1v-3zM627 572v3h1v-3z" fill="#708090"/>
<path d="M675 496v1h1v-1zM675 500v3h1v-3zM675 506v3h1v-3zM675 512v3h1v-3zM675 518v3h1v-3zM675 524v3h1v-3zM675 530v3h1v-3zM675 536v3h1v-3zM675 542v3h1v-3zM675 548v3h1v-3zM675 554v3h1v-3zM675 560v3h1v-3zM675 566v3h1v-3zM675 572v3h1v-3z" fill="#708090"/>
<path d="M723 496v1h1v-1zM723 500v3h1v-3zM723 506v3h1v-3zM723 512v3h1v-3zM723 518v3h1v-3zM723 524v3h1v-3zM723 530v3h1v-3zM723 536v3h1v-3zM723 542v3h1v-3zM723 548v3h1v-3zM723 554v3h1v-3zM723 560v3h1v-3zM723 566v3h1v-3zM723 572v3h1v-3z" fill="#708090"/>
<path d="M771 496v1h1v-1zM771 500v3h1v-3zM771 506v3h1v-3zM771 512v3h1v-3zM771 518v3h1v-3zM771 524v3h1v-3zM771 530v3h1v-3zM771 536v3h1v-3zM771 542v3h1v-3zM771 548v3h1v-3zM771 554v3h1v-3zM771 560v3h1v-3zM771 566v3h1v-3zM771 572v3h1v-3z" fill="#708090"/>
<path d="M819 496v1h1v-1zM819 500v3h1v-3zM819 506v3h1v-3zM819 512v3h1v-3zM819 518v3h1v-3zM819 524v3h1v-3zM819 530v3h1v-3zM819 536v3h1v-3zM819 542v3h1v-3zM819 548v3h1v-3zM819 554v3h1v-3zM819 560v3h1v-3zM819 566v3h1v-3zM819 572v3h1v-3z" fill="#708090"/>
<path d="M867 496v1h1v-1zM867 500v3h1v-3zM867 506v3h1v-3zM867 512v3h1v-3zM867 518v3h1v-3zM867 524v3h1v-3zM867 530v3h1v-3zM867 536v3h1v-3zM867 542v3h1v-3zM867 548v3h1v-3zM867 554v3h1v-3zM867 560v3h1v-3zM867 566v3h1v-3zM867 572v3h1v-3z" fill="#708090"/>
<path d="M915 496v1h1v-1zM915 500v3h1v-3zM915 506v3h1v-3zM915 512v3h1v-3zM915 518v3h1v-3zM915 524v3h1v-3zM915 530v3h1v-3zM915 536v3h1v-3zM915 542v3h1v-3zM915 548v3h1v-3zM915 554v3h1v-3zM915 560v3h1v-3zM915 566v3h1v-3zM915 572v3h1v-3z" fill="#708090"/>
<path d="M4 47h3v1h-3zM10 47h3v1h-3zM16 47h3v1h-3zM22 47h3v1h-3zM28 47h3v1h-3zM34 47h3v1h-3zM40 47h3v1h-3zM46 47h3v1h-3zM52 47h3v1h-3zM58 47h3v1h-3zM64 47h3v1h-3zM70 47h3v1h-3zM76 47h3v1h-3zM82 47h3v1h-3zM88 47h3v1h-3zM94 47h3v1h-3zM100 47h3v1h-3zM106 47h3v1h-3zM112 47h3v1h-3zM118 47h3v1h-3zM124 47h3v1h-3zM130 47h3v1h-3zM136 47h3v1h-3zM142 47h3v1h-3zM148 47h3v1h-3zM154 47h3v1h-3zM160 47h3v1h-3zM166 47h3v1h-3zM172 47h3v1h-3zM178 47h3v1h-3zM184 47h3v1h-3zM190 47h3v1h-3zM196 47h3v1h-3zM202 47h3v1h-3zM208 47h3v1h-3zM214 47h3v1h-3zM220 47h3v1h-3zM226 47h3v1h-3zM232 47h3v1h-3zM238 47h3v1h-3zM244 47h3v1h-3zM250 47h3v1h-3zM256 47h3v1h-3zM262 47h3v1h-3zM268 47h3v1h-3zM274 47h3v1h-3zM280 47h3v1h-3zM286 47h3v1h-3zM292 47h3v1h-3zM298 47h3v1h-3zM304 47h3v1h-3zM310 47h3v1h-3zM316 47h3v1h-3zM322 47h3v1h-3zM328 47h3v1h-3zM334 47h3v1h-3zM340 47h3v1h-3zM346 47h3v1h-3zM352 47h3v1h-3zM358 47h3v1h-3zM364 47h3v1h-3zM370 47h3v1h-3zM376 47h3v1h-3zM382 47h3v1h-3zM388 47h3v1h-3zM394 47h3v1h-3zM400 47h3v1h-3zM406 47h3v1h-3zM412 47h3v1h-3zM418 47h3v1h-3zM424 47h3v1h-3zM430 47h3v1h-3zM436 47h3v1h-3zM442 47h3v1h-3zM448 47h3v1h-3zM454 47h3v1h-3zM460 47h3v1h-3zM466 47h3v1h-3zM472 47h3v1h-3zM478 47h3v1h-3zM484 47h3v1h-3zM490 47h3v1h-3zM496 47h3v1h-3zM502 47h3v1h-3zM508 47h3v1h-3zM514 47h3v1h-3zM520 47h3v1h-3zM526 47h3v1h-3zM532 47h3v1h-3zM538 47h3v1h-3zM544 47h3v1h-3zM550 47h3v1h-3zM556 47h3v1h-3zM562 47h3v1h-3zM568 47h3v1h-3zM574 47h3v1h-3zM580 47h3v1h-3zM586 47h3v1h-3zM592 47h3v1h-3zM598 47h3v1h-3zM604 47h3v1h-3zM610 47h3v1h-3zM616 47h3v1h-3zM622 47h3v1h-3zM628 47h3v1h-3zM634 47h3v1h-3zM640 47h3v1h-3zM646 47h3v1h-3zM652 47h3v1h-3zM658 47h3v1h-3zM664 47h3v1h-3zM670 47h3v1h-3zM676 47h3v1h-3zM682 47h3v1h-3zM688 47h3v1h-3zM694 47h3v1h-3zM700 47h3v1h-3zM706 47h3v1h-3zM712 47h3v1h-3zM718 47h3v1h-3zM724 47h3v1h-3zM730 47h3v1h-3zM736 47h3v1h-3zM742 47h3v1h-3zM748 47h3v1h-3zM754 47h3v1h-3zM760 47h3v1h-3zM766 47h3v1h-3zM772 47h3v1h-3zM778 47h3v1h-3zM784 47h3v1h-3zM790 47h3v1h-3zM796 47h3v1h-3zM802 47h3v1h-3zM808 47h3v1h-3zM814 47h3v1h-3zM820 47h3v1h-3zM826 47h3v1h-3zM832 47h3v1h-3zM838 47h3v1h-3zM844 47h3v1h-3zM850 47h3v1h-3zM856 47h3v1h-3zM862 47h3v1h-3zM868 47h3v1h-3zM874 47h3v1h-3zM880 47h3v1h-3zM886 47h3v1h-3zM892 47h3v1h-3zM898 47h3v1h-3zM904 47h3v1h-3zM910 47h3v1h-3zM916 47h3v1h-3zM922 47h3v1h-3zM928 47h3v1h-3zM934 47h2v1h-2z" fill="#708090"/>
<path d="M4 96h3v1h-3zM10 96h3v1h-3zM16 96h3v1h-3zM22 96h3v1h-3zM28 96h3v1h-3zM34 96h3v1h-3zM40 96h3v1h-3zM46 96h3v1h-3zM52 96h3v1h-3zM58 96h3v1h-3zM64 96h3v1h-3zM70 96h3v1h-3zM76 96h3v1h-3zM82 96h3v1h-3zM88 96h3v1h-3zM94 96h3v1h-3zM100 96h3v1h-3zM106 96h3v1h-3zM112 96h3v1h-3zM118 96h3v1h-3zM124 96h3v1h-3zM130 96h3v1h-3zM136 96h3v1h-3zM142 96h3v1h-3zM148 96h3v1h-3zM154 96h3v1h-3zM160 96h3v1h-3zM166 96h3v1h-3zM172 96h3v1h-3zM178 96h3v1h-3zM184 96h3v1h-3zM190 96h3v1h-3zM196 96h3v1h-3zM202 96h3v1h-3zM208 96h3v1h-3zM214 96h3v1h-3zM220 96h3v1h-3zM226 96h3v1h-3zM232 96h3v1h-3zM238 96h3v1h-3zM244 96h3v1h-3zM250 96h3v1h-3zM256 96h3v1h-3zM262 96h3v1h-3zM268 96h3v1h-3zM274 96h3v1h-3zM280 96h3v1h-3zM286 96h3v1h-3zM292 96h3v1h-3zM298 96h3v1h-3zM304 96h3v1h-3zM310 96h3v1h-3zM316 96h3v1h-3zM322 96h3v1h-3zM328 96h3v1h-3zM334 96h3v1h-3zM340 96h3v1h-3zM346 96h3v1h-3zM352 96h3v1h-3zM358 96h3v1h-3zM364 96h3v1h-3zM370 96h3v1h-3zM376 96h3v1h-3zM382 96h3v1h-3zM388 96h3v1h-3zM394 96h3v1h-3zM400 96h3v1h-3zM406 96h3v1h-3zM412 96h3v1h-3zM418 96h3v1h-3zM424 96h3v1h-3zM430 96h3v1h-3zM436 96h3v1h-3zM442 96h3v1h-3zM448 96h3v1h-3zM454 96h3v1h-3zM460 96h3v1h-3zM466 96h3v1h-3zM472 96h3v1h-3zM478 96h3v1h-3zM484 96h3v1h-3zM490 96h3v1h-3zM496 96h3v1h-3zM502 96h3v1h-3zM508 96h3v1h-3zM514 96h3v1h-3zM520 96h3v1h-3zM526 96h3v1h-3zM532 96h3v1h-3zM538 96h3v1h-3zM544 96h3v1h-3zM550 96h3v1h-3zM556 96h3v1h-3zM562 96h3v1h-3zM568 96h3v1h-3zM574 96h3v1h-3zM580 96h3v1h-3zM586 96h3v1h-3zM592 96h3v1h-3zM598 96h3v1h-3zM604 96h3v1h-3zM610 96h3v1h-3zM616 96h3v1h-3zM622 96h3v1h-3zM628 96h3v1h-3zM634 96h3v1h-3zM640 96h3v1h-3zM646 96h3v1h-3zM652 96h3v1h-3zM658 96h3v1h-3zM664 96h3v1h-3zM670 96h3v1h-3zM676 96h3v1h-3zM682 96h3v1h-3zM688 96h3v1h-3zM694 96h3v1h-3zM700 96h3v1h-3zM706 96h3v1h-3zM712 96h3v1h-3zM718 96h3v1h-3zM724 96h3v1h-3zM730 96h3v1h-3zM736 96h3v1h-3zM742 96h3v1h-3zM748 96h3v1h-3zM754 96h3v1h-3zM760 96h3v1h-3zM766 96h3v1h-3zM772 96h3v1h-3zM778 96h3v1h-3zM784 96h3v1h-3zM790 96h3v1h-3zM796 96h3v1h-3zM802 96h3v1h-3zM808 96h3v1h-3zM814 96h3v1h-3zM820 96h3v1h-3zM826 96h3v1h-3zM832 96h3v1h-3zM838 96h3v1h-3zM844 96h3v1h-3zM850 96h3v1h-3zM856 96h3v1h-3zM862 96h3v1h-3zM868 96h3v1h-3zM874 96h3v1h-3zM880 96h3v1h-3zM886 96h3v1h-3zM892 96h3v1h-3zM898 96h3v1h-3zM904 96h3v1h-3zM910 96h3v1h-3zM916 96h3v1h-3zM922 96h3v1h-3zM928 96h3v1h-3zM934 96h2v1h-2z" fill="#708090"/>
<path d="M4 145h3v1h-3zM10 145h3v1h-3zM16 145h3v1h-3zM22 145h3v1h-3zM28 145h3v1h-3zM34 145h3v1h-3zM40 145h3v1h-3zM46 145h3v1h-3zM52 145h3v1h-3zM58 145h3v1h-3zM64 145h3v1h-3zM70 145h3v1h-3zM76 145h3v1h-3zM82 145h3v1h-3zM88 145h3v1h-3zM94 145h3v1h-3zM100 145h3v1h-3zM106 145h3v1h-3zM112 145h3v1h-3zM118 145h3v1h-3zM124 145h3v1h-3zM130 145h3v1h-3zM136 145h3v1h-3zM142 145h3v1h-3zM148 145h3v1h-3zM154 145h3v1h-3zM160 145h3v1h-3zM166 145h3v1h-3zM172 145h3v1h-3zM178 145h3v1h-3zM184 145h3v1h-3zM190 145h3v1h-3zM196 145h3v1h-3zM202 145h3v1h-3zM208 145h3v1h-3zM214 145h3v1h-3zM220 145h3v1h-3zM226 145h3v1h-3zM232 145h3v1h-3zM238 145h3v1h-3zM244 145h3v1h-3zM250 145h3v1h-3zM256 145h3v1h-3zM262 145h3v1h-3zM268 145h3v1h-3zM274 145h3v1h-3zM280 145h3v1h-3zM286 145h3v1h-3zM292 145h3v1h-3zM298 145h3v1h-3zM304 145h3v1h-3zM310 145h3v1h-3zM316 145h3v1h-3zM322 145h3v1h-3zM328 145h3v1h-3zM334 145h3v1h-3zM340 145h3v1h-3zM346 145h3v1h-3zM352 145h3v1h-3zM358 145h3v1h-3zM364 145h3v1h-3zM370 145h3v1h-3zM376 145h3v1h-3zM382 145h3v1h-3zM388 145h3v1h-3zM394 145h3v1h-3zM400 145h3v1h-3zM406 145h3v1h-3zM412 145h3v1h-3zM418 145h3v1h-3zM424 145h3v1h-3zM430 145h3v1h-3zM436 145h3v1h-3zM442 145h3v1h-3zM448 145h3v1h-3zM454 145h3v1h-3zM460 145h3v1h-3zM466 145h3v1h-3zM472 145h3v1h-3zM478 145h3v1h-3zM484 145h3v1h-3zM490 145h3v1h-3zM496 145h3v1h-3zM502 145h3v1h-3zM508 145h3v1h-3zM514 145h3v1h-3zM520 145h3v1h-3zM526 145h3v1h-3zM532 145h3v1h-3zM538 145h3v1h-3zM544 145h3v1h-3zM550 145h3v1h-3zM556 145h3v1h-3zM562 145h3v1h-3zM568 145h3v1h-3zM574 145h3v1h-3zM580 145h3v1h-3zM586 145h3v1h-3zM592 145h3v1h-3zM598 145h3v1h-3zM604 145h3v1h-3zM610 145h3v1h-3zM616 145h3v1h-3zM622 145h3v1h-3zM628 145h3v1h-3zM634 145h3v1h-3zM640 145h3v1h-3zM646 145h3v1h-3zM652 145h3v1h-3zM658 145h3v1h-3zM664 145h3v1h-3zM670 145h3v1h-3zM676 145h3v1h-3zM682 145h3v1h-3zM688 145h3v1h-3zM694 145h3v1h-3zM700 145h3v1h-3zM706 145h3v1h-3zM712 145h3v1h-3zM718 145h3v1h-3zM724 145h3v1h-3zM730 145h3v1h-3zM736 145h3v1h-3zM742 145h3v1h-3zM748 145h3v1h-3zM754 145h3v1h-3zM760 145h3v1h-3zM766 145h3v1h-3zM772 145h3v1h-3zM778 145h3v1h-3zM784 145h3v1h-3zM790 145h3v1h-3zM796 145h3v1h-3zM802 145h3v1h-3zM808 145h3v1h-3zM814 145h3v1h-3zM820 145h3v1h-3zM826 145h3v1h-3zM832 145h3v1h-3zM838 145h3v1h-3zM844 145h3v1h-3zM850 145h3v1h-3zM856 145h3v1h-3zM862 145h3v1h-3zM868 145h3v1h-3zM874 145h3v1h-3zM880 145h3v1h-3zM886 145h3v1h-3zM892 145h3v1h-3zM898 145h3v1h-3zM904 145h3v1h-3zM910 145h3v1h-3zM916 145h3v1h-3zM922 145h3v1h-3zM928 145h3v1h-3zM934 145h2v1h-2z" fill="#708090"/>
<path d="M4 194h3v1h-3zM10 194h3v1h-3zM16 194h3v1h-3zM22 194h3v1h-3zM28 194h3v1h-3zM34 194h3v1h-3zM40 194h3v1h-3zM46 194h3v1h-3zM52 194h3v1h-3zM58 194h3v1h-3zM64 194h3v1h-3zM70 194h3v1h-3zM76 194h3v1h-3zM82 194h3v1h-3zM88 194h3v1h-3zM94 194h3v1h-3zM100 194h3v1h-3zM106 194h3v1h-3zM112 194h3v1h-3zM118 194h3v1h-3zM124 194h3v1h-3zM130 194h3v1h-3zM136 194h3v1h-3zM142 194h3v1h-3zM148 194h3v1h-3zM154 194h3v1h-3zM160 194h3v1h-3zM166 194h3v1h-3zM172 194h3v1h-3zM178 194h3v1h-3zM184 194h3v1h-3zM190 194h3v1h-3zM196 194h3v1h-3zM202 194h3v1h-3zM208 194h3v1h-3zM214 194h3v1h-3zM220 194h3v1h-3zM226 194h3v1h-3zM232 194h3v1h-3zM238 194h3v1h-3zM244 194h3v1h-3zM250 194h3v1h-3zM256 194h3v1h-3zM262 194h3v1h-3zM268 194h3v1h-3zM274 194h3v1h-3zM280 194h3v1h-3zM286 194h3v1h-3zM292 194h3v1h-3zM298 194h3v1h-3zM304 194h3v1h-3zM310 194h3v1h-3zM316 194h3v1h-3zM322 194h3v1h-3zM328 194h3v1h-3zM334 194h3v1h-3zM340 194h3v1h-3zM346 194h3v1h-3zM352 194h3v1h-3zM358 194h3v1h-3zM364 194h3v1h-3zM370 194h3v1h-3zM376 194h3v1h-3zM382 194h3v1h-3zM388 194h3v1h-3zM394 194h3v1h-3zM400 194h3v1h-3zM406 194h3v1h-3zM412 194h3v1h-3zM418 194h3v1h-3zM424 194h3v1h-3zM430 194h3v1h-3zM436 194h3v1h-3zM442 194h3v1h-3zM448 194h3v1h-3zM454 194h3v1h-3zM460 194h3v1h-3zM466 194h3v1h-3zM472 194h3v1h-3zM478 194h3v1h-3zM484 194h3v1h-3zM490 194h3v1h-3zM496 194h3v1h-3zM502 194h3v1h-3zM508 194h3v1h-3zM514 194h3v1h-3zM520 194h3v1h-3zM526 194h3v1h-3zM532 194h3v1h-3zM538 194h3v1h-3zM544 194h3v1h-3zM550 194h3v1h-3zM556 194h3v1h-3zM562 194h3v1h-3zM568 194h3v1h-3zM574 194h3v1h-3zM580 194h3v1h-3zM586 194h3v1h-3zM592 194h3v1h-3zM598 194h3v1h-3zM604 194h3v1h-3zM610 194h3v1h-3zM616 194h3v1h-3zM622 194h3v1h-3zM628 194h3v1h-3zM634 194h3v1h-3zM640 194h3v1h-3zM646 194h3v1h-3zM652 194h3v1h-3zM658 194h3v1h-3zM664 194h3v1h-3zM670 194h3v1h-3zM676 194h3v1h-3zM682 194h3v1h-3zM688 194h3v1h-3zM694 194h3v1h-3zM700 194h3v1h-3zM706 194h3v1h-3zM712 194h3v1h-3zM718 194h3v1h-3zM724 194h3v1h-3zM730 194h3v1h-3zM736 194h3v1h-3zM742 194h3v1h-3zM748 194h3v1h-3zM754 194h3v1h-3zM760 194h3v1h-3zM766 194h3v1h-3zM772 194h3v1h-3zM778 194h3v1h-3zM784 194h3v1h-3zM790 194h3v1h-3zM796 194h3v1h-3zM802 194h3v1h-3zM808 194h3v1h-3zM814 194h3v1h-3zM820 194h3v1h-3zM826 194h3v1h-3zM832 194h3v1h-3zM838 194h3v1h-3zM844 194h3v1h-3zM850 194h3v1h-3zM856 194h3v1h-3zM862 194h3v1h-3zM868 194h3v1h-3zM874 194h3v1h-3zM880 194h3v1h-3zM886 194h3v1h-3zM892 194h3v1h-3zM898 194h3v1h-3zM904 194h3v1h-3zM910 194h3v1h-3zM916 194h3v1h-3zM922 194h3v1h-3zM928 194h3v1h-3zM934 194h2v1h-2z" fill="#708090"/>
<path d="M4 243h3v1h-3zM10 243h3v1h-3zM16 243h3v1h-3zM22 243h3v1h-3zM28 243h3v1h-3zM34 243h3v1h-3zM40 243h3v1h-3zM46 243h3v1h-3zM52 243h3v1h-3zM58 243h3v1h-3zM64 243h3v1h-3zM70 243h3v1h-3zM76 243h3v1h-3zM82 243h3v1h-3zM88 243h3v1h-3zM94 243h3v1h-3zM100 243h3v1h-3zM106 243h3v1h-3zM112 243h3v1h-3zM118 243h3v1h-3zM124 243h3v1h-3zM130 243h3v1h-3zM136 243h3v1h-3zM142 243h3v1h-3zM148 243h3v1h-3zM154 243h3v1h-3zM160 243h3v1h-3zM166 243h3v1h-3zM172 243h3v1h-3zM178 243h3v1h-3zM184 243h3v1h-3zM190 243h3v1h-3zM196 243h3v1h-3zM202 243h3v1h-3zM208 243h3v1h-3zM214 243h3v1h-3zM220 243h3v1h-3zM226 243h3v1h-3zM232 243h3v1h-3zM238 243h3v1h-3zM244 243h3v1h-3zM250 243h3v1h-3zM256 243h3v1h-3zM262 243h3v1h-3zM268 243h3v1h-3zM274 243h3v1h-3zM280 243h3v1h-3zM286 243h3v1h-3zM292 243h3v1h-3zM298 243h3v1h-3zM304 243h3v1h-3zM310 243h3v1h-3zM316 243h3v1h-3zM322 243h3v1h-3zM328 243h3v1h-3zM334 243h3v1h-3zM340 243h3v1h-3zM346 243h3v1h-3zM352 243h3v1h-3zM358 243h3v1h-3zM364 243h3v1h-3zM370 243h3v1h-3zM376 243h3v1h-3zM382 243h3v1h-3zM388 243h3v1h-3zM394 243h3v1h-3zM400 243h3v1h-3zM406 243h3v1h-3zM412 243h3v1h-3zM418 243h3v1h-3zM424 243h3v1h-3zM430 243h3v1h-3zM436 243h3v1h-3zM442 243h3v1h-3zM448 243h3v1h-3zM454 243h3v1h-3zM460 243h3v1h-3zM466 243h3v1h-3zM472 243h3v1h-3zM478 243h3v1h-3zM484 243h3v1h-3zM490 243h3v1h-3zM496 243h3v1h-3zM502 243h3v1h-3zM508 243h3v1h-3zM514 243h3v1h-3zM520 243h3v1h-3zM526 243h3v1h-3zM532 243h3v1h-3zM538 243h3v1h-3zM544 243h3v1h-3zM550 243h3v1h-3zM556 243h3v1h-3zM562 243h3v1h-3zM568 243h3v1h-3zM574 243h3v1h-3zM580 243h3v1h-3zM586 243h3v1h-3zM592 243h3v1h-3zM598 243h3v1h-3zM604 243h3v1h-3zM610 243h3v1h-3zM616 243h3v1h-3zM622 243h3v1h-3zM628 243h3v1h-3zM634 243h3v1h-3zM640 243h3v1h-3zM646 243h3v1h-3zM652 243h3v1h-3zM658 243h3v1h-3zM664 243h3v1h-3zM670 243h3v1h-3zM676 243h3v1h-3zM682 243h3v1h-3zM688 243h3v1h-3zM694 243h3v1h-3zM700 243h3v1h-3zM706 243h3v1h-3zM712 243h3v1h-3zM718 243h3v1h-3zM724 243h3v1h-3zM730 243h3v1h-3zM736 243h3v1h-3zM742 243h3v1h-3zM748 243h3v1h-3zM754 243h3v1h-3zM760 243h3v1h-3zM766 243h3v1h-3zM772 243h3v1h-3zM778 243h3v1h-3zM784 243h3v1h-3zM790 243h3v1h-3zM796 243h3v1h-3zM802 243h3v1h-3zM808 243h3v1h-3zM814 243h3v1h-3zM820 243h3v1h-3zM826 243h3v1h-3zM832 243h3v1h-3zM838 243h3v1h-3zM844 243h3v1h-3zM850 243h3v1h-3zM856 243h3v1h-3zM862 243h3v1h-3zM868 243h3v1h-3zM874 243h3v1h-3zM880 243h3v1h-3zM886 243h3v1h-3zM892 243h3v1h-3zM898 243h3v1h-3zM904 243h3v1h-3zM910 243h3v1h-3zM916 243h3v1h-3zM922 243h3v1h-3zM928 243h3v1h-3zM934 243h2v1h-2z" fill="#708090"/>
<path d="M4 292h3v1h-3zM10 292h3v1h-3zM16 292h3v1h-3zM22 292h3v1h-3zM28 292h3v1h-3zM34 292h3v1h-3zM40 292h3v1h-3zM46 292h3v1h-3zM52 292h3v1h-3zM58 292h3v1h-3zM64 292h3v1h-3zM70 292h3v1h-3zM76 292h3v1h-3zM82 292h3v1h-3zM88 292h3v1h-3zM94 292h3v1h-3zM100 292h3v1h-3zM106 292h3v1h-3zM112 292h3v1h-3zM118 292h3v1h-3zM124 292h3v1h-3zM130 292h3v1h-3zM136 292h3v1h-3zM142 292h3v1h-3zM148 292h3v1h-3zM154 292h3v1h-3zM160 292h3v1h-3zM166 292h3v1h-3zM172 292h3v1h-3zM178 292h3v1h-3zM184 292h3v1h-3zM190 292h3v1h-3zM196 292h3v1h-3zM202 292h3v1h-3zM208 292h3v1h-3zM214 292h3v1h-3zM220 292h3v1h-3zM226 292h3v1h-3zM232 292h3v1h-3zM238 292h3v1h-3zM244 292h3v1h-3zM250 292h3v1h-3zM256 292h3v1h-3zM262 292h3v1h-3zM268 292h3v1h-3zM274 292h3v1h-3zM280 292h3v1h-3zM286 292h3v1h-3zM292 292h3v1h-3zM298 292h3v1h-3zM304 292h3v1h-3zM310 292h3v1h-3zM316 292h3v1h-3zM322 292h3v1h-3zM328 292h3v1h-3zM334 292h3v1h-3zM340 292h3v1h-3zM346 292h3v1h-3zM352 292h3v1h-3zM358 292h3v1h-3zM364 292h3v1h-3zM370 292h3v1h-3zM376 292h3v1h-3zM382 292h3v1h-3zM388 292h3v1h-3zM394 292h3v1h-3zM400 292h3v1h-3zM406 292h3v1h-3zM412 292h3v1h-3zM418 292h3v1h-3zM424 292h3v1h-3zM430 292h3v1h-3zM436 292h3v1h-3zM442 292h3v1h-3zM448 292h3v1h-3zM454 292h3v1h-3zM460 292h3v1h-3zM466 292h3v1h-3zM472 292h3v1h-3zM478 292h3v1h-3zM484 292h3v1h-3zM490 292h3v1h-3zM496 292h3v1h-3zM502 292h3v1h-3zM508 292h3v1h-3zM514 292h3v1h-3zM520 292h3v1h-3zM526 292h3v1h-3zM532 292h3v1h-3zM538 292h3v1h-3zM544 292h3v1h-3zM550 292h3v1h-3zM556 292h3v1h-3zM562 292h3v1h-3zM568 292h3v1h-3zM574 292h3v1h-3zM580 292h3v1h-3zM586 292h3v1h-3zM592 292h3v1h-3zM598 292h3v1h-3zM604 292h3v1h-3zM610 292h3v1h-3zM616 292h3v1h-3zM622 292h3v1h-3zM628 292h3v1h-3zM634 292h3v1h-3zM640 292h3v1h-3zM646 292h3v1h-3zM652 292h3v1h-3zM658 292h3v1h-3zM664 292h3v1h-3zM670 292h3v1h-3zM676 292h3v1h-3zM682 292h3v1h-3zM688 292h3v1h-3zM694 292h3v1h-3zM700 292h3v1h-3zM706 292h3v1h-3zM712 292h3v1h-3zM718 292h3v1h-3zM724 292h3v1h-3zM730 292h3v1h-3zM736 292h3v1h-3zM742 292h3v1h-3zM748 292h3v1h-3zM754 292h3v1h-3zM760 292h3v1h-3zM766 292h3v1h-3zM772 292h3v1h-3zM778 292h3v1h-3zM784 292h3v1h-3zM790 292h3v1h-3zM796 292h3v1h-3zM802 292h3v1h-3zM808 292h3v1h-3zM814 292h3v1h-3zM820 292h3v1h-3zM826 292h3v1h-3zM832 292h3v1h-3zM838 292h3v1h-3zM844 292h3v1h-3zM850 292h3v1h-3zM856 292h3v1h-3zM862 292h3v1h-3zM868 292h3v1h-3zM874 292h3v1h-3zM880 292h3v1h-3zM886 292h3v1h-3zM892 292h3v1h-3zM898 292h3v1h-3zM904 292h3v1h-3zM910 292h3v1h-3zM916 292h3v1h-3zM922 292h3v1h-3zM928 292h3v1h-3zM934 292h2v1h-2z" fill="#708090"/>
<path d="M4 346h3v1h-3zM10 346h3v1h-3zM16 346h3v1h-3zM22 346h3v1h-3zM28 346h3v1h-3zM34 346h3v1h-3zM40 346h3v1h-3zM46 346h3v1h-3zM52 346h3v1h-3zM58 346h3v1h-3zM64 346h3v1h-3zM70 346h3v1h-3zM76 346h3v1h-3zM82 346h3v1h-3zM88 346h3v1h-3zM94 346h3v1h-3zM100 346h3v1h-3zM106 346h3v1h-3zM112 346h3v1h-3zM118 346h3v1h-3zM124 346h3v1h-3zM130 346h3v1h-3zM136 346h3v1h-3zM142 346h3v1h-3zM148 346h3v1h-3zM154 346h3v1h-3zM160 346h3v1h-3zM166 346h3v1h-3zM172 346h3v1h-3zM178 346h3v1h-3zM184 346h3v1h-3zM190 346h3v1h-3zM196 346h3v1h-3zM202 346h3v1h-3zM208 346h3v1h-3zM214 346h3v1h-3zM220 346h3v1h-3zM226 346h3v1h-3zM232 346h3v1h-3zM238 346h3v1h-3zM244 346h3v1h-3zM250 346h3v1h-3zM256 346h3v1h-3zM262 346h3v1h-3zM268 346h3v1h-3zM274 346h3v1h-3zM280 346h3v1h-3zM286 346h3v1h-3zM292 346h3v1h-3zM298 346h3v1h-3zM304 346h3v1h-3zM310 346h3v1h-3zM316 346h3v1h-3zM322 346h3v1h-3zM328 346h3v1h-3zM334 346h3v1h-3zM340 346h3v1h-3zM346 346h3v1h-3zM352 346h3v1h-3zM358 346h3v1h-3zM364 346h3v1h-3zM370 346h3v1h-3zM376 346h3v1h-3zM382 346h3v1h-3zM388 346h3v1h-3zM394 346h3v1h-3zM400 346h3v1h-3zM406 346h3v1h-3zM412 346h3v1h-3zM418 346h3v1h-3zM424 346h3v1h-3zM430 346h3v1h-3zM436 346h3v1h-3zM442 346h3v1h-3zM448 346h3v1h-3zM454 346h3v1h-3zM460 346h3v1h-3zM466 346h3v1h-3zM472 346h3v1h-3zM478 346h3v1h-3zM484 346h3v1h-3zM490 346h3v1h-3zM496 346h3v1h-3zM502 346h3v1h-3zM508 346h3v1h-3zM514 346h3v1h-3zM520 346h3v1h-3zM526 346h3v1h-3zM532 346h3v1h-3zM538 346h3v1h-3zM544 346h3v1h-3zM550 346h3v1h-3zM556 346h3v1h-3zM562 346h3v1h-3zM568 346h3v1h-3zM574 346h3v1h-3zM580 346h3v1h-3zM586 346h3v1h-3zM592 346h3v1h-3zM598 346h3v1h-3zM604 346h3v1h-3zM610 346h3v1h-3zM616 346h3v1h-3zM622 346h3v1h-3zM628 346h3v1h-3zM634 346h3v1h-3zM640 346h3v1h-3zM646 346h3v1h-3zM652 346h3v1h-3zM658 346h3v1h-3zM664 346h3v1h-3zM670 346h3v1h-3zM676 346h3v1h-3zM682 346h3v1h-3zM688 346h3v1h-3zM694 346h3v1h-3zM700 346h3v1h-3zM706 346h3v1h-3zM712 346h3v1h-3zM718 346h3v1h-3zM724 346h3v1h-3zM730 346h3v1h-3zM736 346h3v1h-3zM742 346h3v1h-3zM748 346h3v1h-3zM754 346h3v1h-3zM760 346h3v1h-3zM766 346h3v1h-3zM772 346h3v1h-3zM778 346h3v1h-3zM784 346h3v1h-3zM790 346h3v1h-3zM796 346h3v1h-3zM802 346h3v1h-3zM808 346h3v1h-3zM814 346h3v1h-3zM820 346h3v1h-3zM826 346h3v1h-3zM832 346h3v1h-3zM838 346h3v1h-3zM844 346h3v1h-3zM850 346h3v1h-3zM856 346h3v1h-3zM862 346h3v1h-3zM868 346h3v1h-3zM874 346h3v1h-3zM880 346h3v1h-3zM886 346h3v1h-3zM892 346h3v1h-3zM898 346h3v1h-3zM904 346h3v1h-3zM910 346h3v1h-3zM916 346h3v1h-3zM922 346h3v1h-3zM928 346h3v1h-3zM934 346h2v1h-2z" fill="#708090"/>
<path d="M4 435h3v1h-3zM10 435h3v1h-3zM16 435h3v1h-3zM22 435h3v1h-3zM28 435h3v1h-3zM34 435h3v1h-3zM40 435h3v1h-3zM46 435h3v1h-3zM52 435h3v1h-3zM58 435h3v1h-3zM64 435h3v1h-3zM70 435h3v1h-3zM76 435h3v1h-3zM82 435h3v1h-3zM88 435h3v1h-3zM94 435h3v1h-3zM100 435h3v1h-3zM106 435h3v1h-3zM112 435h3v1h-3zM118 435h3v1h-3zM124 435h3v1h-3zM130 435h3v1h-3zM136 435h3v1h-3zM142 435h3v1h-3zM148 435h3v1h-3zM154 435h3v1h-3zM160 435h3v1h-3zM166 435h3v1h-3zM172 435h3v1h-3zM178 435h3v1h-3zM184 435h3v1h-3zM190 435h3v1h-3zM196 435h3v1h-3zM202 435h3v1h-3zM208 435h3v1h-3zM214 435h3v1h-3zM220 435h3v1h-3zM226 435h3v1h-3zM232 435h3v1h-3zM238 435h3v1h-3zM244 435h3v1h-3zM250 435h3v1h-3zM256 435h3v1h-3zM262 435h3v1h-3zM268 435h3v1h-3zM274 435h3v1h-3zM280 435h3v1h-3zM286 435h3v1h-3zM292 435h3v1h-3zM298 435h3v1h-3zM304 435h3v1h-3zM310 435h3v1h-3zM316 435h3v1h-3zM322 435h3v1h-3zM328 435h3v1h-3zM334 435h3v1h-3zM340 435h3v1h-3zM346 435h3v1h-3zM352 435h3v1h-3zM358 435h3v1h-3zM364 435h3v1h-3zM370 435h3v1h-3zM376 435h3v1h-3zM382 435h3v1h-3zM388 435h3v1h-3zM394 435h3v1h-3zM400 435h3v1h-3zM406 435h3v1h-3zM412 435h3v1h-3zM418 435h3v1h-3zM424 435h3v1h-3zM430 435h3v1h-3zM436 435h3v1h-3zM442 435h3v1h-3zM448 435h3v1h-3zM454 435h3v1h-3zM460 435h3v1h-3zM466 435h3v1h-3zM472 435h3v1h-3zM478 435h3v1h-3zM484 435h3v1h-3zM490 435h3v1h-3zM496 435h3v1h-3zM502 435h3v1h-3zM508 435h3v1h-3zM514 435h3v1h-3zM520 435h3v1h-3zM526 435h3v1h-3zM532 435h3v1h-3zM538 435h3v1h-3zM544 435h3v1h-3zM550 435h3v1h-3zM556 435h3v1h-3zM562 435h3v1h-3zM568 435h3v1h-3zM574 435h3v1h-3zM580 435h3v1h-3zM586 435h3v1h-3zM592 435h3v1h-3zM598 435h3v1h-3zM604 435h3v1h-3zM610 435h3v1h-3zM616 435h3v1h-3zM622 435h3v1h-3zM628 435h3v1h-3zM634 435h3v1h-3zM640 435h3v1h-3zM646 435h3v1h-3zM652 435h3v1h-3zM658 435h3v1h-3zM664 435h3v1h-3zM670 435h3v1h-3zM676 435h3v1h-3zM682 435h3v1h-3zM688 435h3v1h-3zM694 435h3v1h-3zM700 435h3v1h-3zM706 435h3v1h-3zM712 435h3v1h-3zM718 435h3v1h-3zM724 435h3v1h-3zM730 435h3v1h-3zM736 435h3v1h-3zM742 435h3v1h-3zM748 435h3v1h-3zM754 435h3v1h-3zM760 435h3v1h-3zM766 435h3v1h-3zM772 435h3v1h-3zM778 435h3v1h-3zM784 435h3v1h-3zM790 435h3v1h-3zM796 435h3v1h-3zM802 435h3v1h-3zM808 435h3v1h-3zM814 435h3v1h-3zM820 435h3v1h-3zM826 435h3v1h-3zM832 435h3v1h-3zM838 435h3v1h-3zM844 435h3v1h-3zM850 435h3v1h-3zM856 435h3v1h-3zM862 435h3v1h-3zM868 435h3v1h-3zM874 435h3v1h-3zM880 435h3v1h-3zM886 435h3v1h-3zM892 435h3v1h-3zM898 435h3v1h-3zM904 435h3v1h-3zM910 435h3v1h-3zM916 435h3v1h-3zM922 435h3v1h-3zM928 435h3v1h-3zM934 435h2v1h-2z" fill="#C0C0C0"/>
<path d="M4 478h3v1h-3zM10 478h3v1h-3zM16 478h3v1h-3zM22 478h3v1h-3zM28 478h3v1h-3zM34 478h3v1h-3zM40 478h3v1h-3zM46 478h3v1h-3zM52 478h3v1h-3zM58 478h3v1h-3zM64 478h3v1h-3zM70 478h3v1h-3zM76 478h3v1h-3zM82 478h3v1h-3zM88 478h3v1h-3zM94 478h3v1h-3zM100 478h3v1h-3zM106 478h3v1h-3zM112 478h3v1h-3zM118 478h3v1h-3zM124 478h3v1h-3zM130 478h3v1h-3zM136 478h3v1h-3zM142 478h3v1h-3zM148 478h3v1h-3zM154 478h3v1h-3zM160 478h3v1h-3zM166 478h3v1h-3zM172 478h3v1h-3zM178 478h3v1h-3zM184 478h3v1h-3zM190 478h3v1h-3zM196 478h3v1h-3zM202 478h3v1h-3zM208 478h3v1h-3zM214 478h3v1h-3zM220 478h3v1h-3zM226 478h3v1h-3zM232 478h3v1h-3zM238 478h3v1h-3zM244 478h3v1h-3zM250 478h3v1h-3zM256 478h3v1h-3zM262 478h3v1h-3zM268 478h3v1h-3zM274 478h3v1h-3zM280 478h3v1h-3zM286 478h3v1h-3zM292 478h3v1h-3zM298 478h3v1h-3zM304 478h3v1h-3zM310 478h3v1h-3zM316 478h3v1h-3zM322 478h3v1h-3zM328 478h3v1h-3zM334 478h3v1h-3zM340 478h3v1h-3zM346 478h3v1h-3zM352 478h3v1h-3zM358 478h3v1h-3zM364 478h3v1h-3zM370 478h3v1h-3zM376 478h3v1h-3zM382 478h3v1h-3zM388 478h3v1h-3zM394 478h3v1h-3zM400 478h3v1h-3zM406 478h3v1h-3zM412 478h3v1h-3zM418 478h3v1h-3zM424 478h3v1h-3zM430 478h3v1h-3zM436 478h3v1h-3zM442 478h3v1h-3zM448 478h3v1h-3zM454 478h3v1h-3zM460 478h3v1h-3zM466 478h3v1h-3zM472 478h3v1h-3zM478 478h3v1h-3zM484 478h3v1h-3zM490 478h3v1h-3zM496 478h3v1h-3zM502 478h3v1h-3zM508 478h3v1h-3zM514 478h3v1h-3zM520 478h3v1h-3zM526 478h3v1h-3zM532 478h3v1h-3zM538 478h3v1h-3zM544 478h3v1h-3zM550 478h3v1h-3zM556 478h3v1h-3zM562 478h3v1h-3zM568 478h3v1h-3zM574 478h3v1h-3zM580 478h3v1h-3zM586 478h3v1h-3zM592 478h3v1h-3zM598 478h3v1h-3zM604 478h3v1h-3zM610 478h3v1h-3zM616 478h3v1h-3zM622 478h3v1h-3zM628 478h3v1h-3zM634 478h3v1h-3zM640 478h3v1h-3zM646 478h3v1h-3zM652 478h3v1h-3zM658 478h3v1h-3zM664 478h3v1h-3zM670 478h3v1h-3zM676 478h3v1h-3zM682 478h3v1h-3zM688 478h3v1h-3zM694 478h3v1h-3zM700 478h3v1h-3zM706 478h3v1h-3zM712 478h3v1h-3zM718 478h3v1h-3zM724 478h3v1h-3zM730 478h3v1h-3zM736 478h3v1h-3zM742 478h3v1h-3zM748 478h3v1h-3zM754 478h3v1h-3zM760 478h3v1h-3zM766 478h3v1h-3zM772 478h3v1h-3zM778 478h3v1h-3zM784 478h3v1h-3zM790 478h3v1h-3zM796 478h3v1h-3zM802 478h3v1h-3zM808 478h3v1h-3zM814 478h3v1h-3zM820 478h3v1h-3zM826 478h3v1h-3zM832 478h3v1h-3zM838 478h3v1h-3zM844 478h3v1h-3zM850 478h3v1h-3zM856 478h3v1h-3zM862 478h3v1h-3zM868 478h3v1h-3zM874 478h3v1h-3zM880 478h3v1h-3zM886 478h3v1h-3zM892 478h3v1h-3zM898 478h3v1h-3zM904 478h3v1h-3zM910 478h3v1h-3zM916 478h3v1h-3zM922 478h3v1h-3zM928 478h3v1h-3zM934 478h2v1h-2z" fill="#C0C0C0"/>
<path d="M4 492h3v1h-3zM10 492h3v1h-3zM16 492h3v1h-3zM22 492h3v1h-3zM28 492h3v1h-3zM34 492h3v1h-3zM40 492h3v1h-3zM46 492h3v1h-3zM52 492h3v1h-3zM58 492h3v1h-3zM64 492h3v1h-3zM70 492h3v1h-3zM76 492h3v1h-3zM82 492h3v1h-3zM88 492h3v1h-3zM94 492h3v1h-3zM100 492h3v1h-3zM106 492h3v1h-3zM112 492h3v1h-3zM118 492h3v1h-3zM124 492h3v1h-3zM130 492h3v1h-3zM136 492h3v1h-3zM142 492h3v1h-3zM148 492h3v1h-3zM154 492h3v1h-3zM160 492h3v1h-3zM166 492h3v1h-3zM172 492h3v1h-3zM178 492h3v1h-3zM184 492h3v1h-3zM190 492h3v1h-3zM196 492h3v1h-3zM202 492h3v1h-3zM208 492h3v1h-3zM214 492h3v1h-3zM220 492h3v1h-3zM226 492h3v1h-3zM232 492h3v1h-3zM238 492h3v1h-3zM244 492h3v1h-3zM250 492h3v1h-3zM256 492h3v1h-3zM262 492h3v1h-3zM268 492h3v1h-3zM274 492h3v1h-3zM280 492h3v1h-3zM286 492h3v1h-3zM292 492h3v1h-3zM298 492h3v1h-3zM304 492h3v1h-3zM310 492h3v1h-3zM316 492h3v1h-3zM322 492h3v1h-3zM328 492h3v1h-3zM334 492h3v1h-3zM340 492h3v1h-3zM346 492h3v1h-3zM352 492h3v1h-3zM358 492h3v1h-3zM364 492h3v1h-3zM370 492h3v1h-3zM376 492h3v1h-3zM382 492h3v1h-3zM388 492h3v1h-3zM394 492h3v1h-3zM400 492h3v1h-3zM406 492h3v1h-3zM412 492h3v1h-3zM418 492h3v1h-3zM424 492h3v1h-3zM430 492h3v1h-3zM436 492h3v1h-3zM442 492h3v1h-3zM448 492h3v1h-3zM454 492h3v1h-3zM460 492h3v1h-3zM466 492h3v1h-3zM472 492h3v1h-3zM478 492h3v1h-3zM484 492h3v1h-3zM490 492h3v1h-3zM496 492h3v1h-3zM502 492h3v1h-3zM508 492h3v1h-3zM514 492h3v1h-3zM520 492h3v1h-3zM526 492h3v1h-3zM532 492h3v1h-3zM538 492h3v1h-3zM544 492h3v1h-3zM550 492h3v1h-3zM556 492h3v1h-3zM562 492h3v1h-3zM568 492h3v1h-3zM574 492h3v1h-3zM580 492h3v1h-3zM586 492h3v1h-3zM592 492h3v1h-3zM598 492h3v1h-3zM604 492h3v1h-3zM610 492h3v1h-3zM616 492h3v1h-3zM622 492h3v1h-3zM628 492h3v1h-3zM634 492h3v1h-3zM640 492h3v1h-3zM646 492h3v1h-3zM652 492h3v1h-3zM658 492h3v1h-3zM664 492h3v1h-3zM670 492h3v1h-3zM676 492h3v1h-3zM682 492h3v1h-3zM688 492h3v1h-3zM694 492h3v1h-3zM700 492h3v1h-3zM706 492h3v1h-3zM712 492h3v1h-3zM718 492h3v1h-3zM724 492h3v1h-3zM730 492h3v1h-3zM736 492h3v1h-3zM742 492h3v1h-3zM748 492h3v1h-3zM754 492h3v1h-3zM760 492h3v1h-3zM766 492h3v1h-3zM772 492h3v1h-3zM778 492h3v1h-3zM784 492h3v1h-3zM790 492h3v1h-3zM796 492h3v1h-3zM802 492h3v1h-3zM808 492h3v1h-3zM814 492h3v1h-3zM820 492h3v1h-3zM826 492h3v1h-3zM832 492h3v1h-3zM838 492h3v1h-3zM844 492h3v1h-3zM850 492h3v1h-3zM856 492h3v1h-3zM862 492h3v1h-3zM868 492h3v1h-3zM874 492h3v1h-3zM880 492h3v1h-3zM886 492h3v1h-3zM892 492h3v1h-3zM898 492h3v1h-3zM904 492h3v1h-3zM910 492h3v1h-3zM916 492h3v1h-3zM922 492h3v1h-3zM928 492h3v1h-3zM934 492h2v1h-2z" fill="#708090"/>
<path d="M4 520h3v1h-3zM10 520h3v1h-3zM16 520h3v1h-3zM22 520h3v1h-3zM28 520h3v1h-3zM34 520h3v1h-3zM40 520h3v1h-3zM46 520h3v1h-3zM52 520h3v1h-3zM58 520h3v1h-3zM64 520h3v1h-3zM70 520h3v1h-3zM76 520h3v1h-3zM82 520h3v1h-3zM88 520h3v1h-3zM94 520h3v1h-3zM100 520h3v1h-3zM106 520h3v1h-3zM112 520h3v1h-3zM118 520h3v1h-3zM124 520h3v1h-3zM130 520h3v1h-3zM136 520h3v1h-3zM142 520h3v1h-3zM148 520h3v1h-3zM154 520h3v1h-3zM160 520h3v1h-3zM166 520h3v1h-3zM172 520h3v1h-3zM178 520h3v1h-3zM184 520h3v1h-3zM190 520h3v1h-3zM196 520h3v1h-3zM202 520h3v1h-3zM208 520h3v1h-3zM214 520h3v1h-3zM220 520h3v1h-3zM226 520h3v1h-3zM232 520h3v1h-3zM238 520h3v1h-3zM244 520h3v1h-3zM250 520h3v1h-3zM256 520h3v1h-3zM262 520h3v1h-3zM268 520h3v1h-3zM274 520h3v1h-3zM280 520h3v1h-3zM286 520h3v1h-3zM292 520h3v1h-3zM298 520h3v1h-3zM304 520h3v1h-3zM310 520h3v1h-3zM316 520h3v1h-3zM322 520h3v1h-3zM328 520h3v1h-3zM334 520h3v1h-3zM340 520h3v1h-3zM346 520h3v1h-3zM352 520h3v1h-3zM358 520h3v1h-3zM364 520h3v1h-3zM370 520h3v1h-3zM376 520h3v1h-3zM382 520h3v1h-3zM388 520h3v1h-3zM394 520h3v1h-3zM400 520h3v1h-3zM406 520h3v1h-3zM412 520h3v1h-3zM418 520h3v1h-3zM424 520h3v1h-3zM430 520h3v1h-3zM436 520h3v1h-3zM442 520h3v1h-3zM448 520h3v1h-3zM454 520h3v1h-3zM460 520h3v1h-3zM466 520h3v1h-3zM472 520h3v1h-3zM478 520h3v1h-3zM484 520h3v1h-3zM490 520h3v1h-3zM496 520h3v1h-3zM502 520h3v1h-3zM508 520h3v1h-3zM514 520h3v1h-3zM520 520h3v1h-3zM526 520h3v1h-3zM532 520h3v1h-3zM538 520h3v1h-3zM544 520h3v1h-3zM550 520h3v1h-3zM556 520h3v1h-3zM562 520h3v1h-3zM568 520h3v1h-3zM574 520h3v1h-3zM580 520h3v1h-3zM586 520h3v1h-3zM592 520h3v1h-3zM598 520h3v1h-3zM604 520h3v1h-3zM610 520h3v1h-3zM616 520h3v1h-3zM622 520h3v1h-3zM628 520h3v1h-3zM634 520h3v1h-3zM640 520h3v1h-3zM646 520h3v1h-3zM652 520h3v1h-3zM658 520h3v1h-3zM664 520h3v1h-3zM670 520h3v1h-3zM676 520h3v1h-3zM682 520h3v1h-3zM688 520h3v1h-3zM694 520h3v1h-3zM700 520h3v1h-3zM706 520h3v1h-3zM712 520h3v1h-3zM718 520h3v1h-3zM724 520h3v1h-3zM730 520h3v1h-3zM736 520h3v1h-3zM742 520h3v1h-3zM748 520h3v1h-3zM754 520h3v1h-3zM760 520h3v1h-3zM766 520h3v1h-3zM772 520h3v1h-3zM778 520h3v1h-3zM784 520h3v1h-3zM790 520h3v1h-3zM796 520h3v1h-3zM802 520h3v1h-3zM808 520h3v1h-3zM814 520h3v1h-3zM820 520h3v1h-3zM826 520h3v1h-3zM832 520h3v1h-3zM838 520h3v1h-3zM844 520h3v1h-3zM850 520h3v1h-3zM856 520h3v1h-3zM862 520h3v1h-3zM868 520h3v1h-3zM874 520h3v1h-3zM880 520h3v1h-3zM886 520h3v1h-3zM892 520h3v1h-3zM898 520h3v1h-3zM904 520h3v1h-3zM910 520h3v1h-3zM916 520h3v1h-3zM922 520h3v1h-3zM928 520h3v1h-3zM934 520h2v1h-2z" fill="#C0C0C0"/>
<path d="M4 552h3v1h-3zM10 552h3v1h-3zM16 552h3v1h-3zM22 552h3v1h-3zM28 552h3v1h-3zM34 552h3v1h-3zM40 552h3v1h-3zM46 552h3v1h-3zM52 552h3v1h-3zM58 552h3v1h-3zM64 552h3v1h-3zM70 552h3v1h-3zM76 552h3v1h-3zM82 552h3v1h-3zM88 552h3v1h-3zM94 552h3v1h-3zM100 552h3v1h-3zM106 552h3v1h-3zM112 552h3v1h-3zM118 552h3v1h-3zM124 552h3v1h-3zM130 552h3v1h-3zM136 552h3v1h-3zM142 552h3v1h-3zM148 552h3v1h-3zM154 552h3v1h-3zM160 552h3v1h-3zM166 552h3v1h-3zM172 552h3v1h-3zM178 552h3v1h-3zM184 552h3v1h-3zM190 552h3v1h-3zM196 552h3v1h-3zM202 552h3v1h-3zM208 552h3v1h-3zM214 552h3v1h-3zM220 552h3v1h-3zM226 552h3v1h-3zM232 552h3v1h-3zM238 552h3v1h-3zM244 552h3v1h-3zM250 552h3v1h-3zM256 552h3v1h-3zM262 552h3v1h-3zM268 552h3v1h-3zM274 552h3v1h-3zM280 552h3v1h-3zM286 552h3v1h-3zM292 552h3v1h-3zM298 552h3v1h-3zM304 552h3v1h-3zM310 552h3v1h-3zM316 552h3v1h-3zM322 552h3v1h-3zM328 552h3v1h-3zM334 552h3v1h-3zM340 552h3v1h-3zM346 552h3v1h-3zM352 552h3v1h-3zM358 552h3v1h-3zM364 552h3v1h-3zM370 552h3v1h-3zM376 552h3v1h-3zM382 552h3v1h-3zM388 552h3v1h-3zM394 552h3v1h-3zM400 552h3v1h-3zM406 552h3v1h-3zM412 552h3v1h-3zM418 552h3v1h-3zM424 552h3v1h-3zM430 552h3v1h-3zM436 552h3v1h-3zM442 552h3v1h-3zM448 552h3v1h-3zM454 552h3v1h-3zM460 552h3v1h-3zM466 552h3v1h-3zM472 552h3v1h-3zM478 552h3v1h-3zM484 552h3v1h-3zM490 552h3v1h-3zM496 552h3v1h-3zM502 552h3v1h-3zM508 552h3v1h-3zM514 552h3v1h-3zM520 552h3v1h-3zM526 552h3v1h-3zM532 552h3v1h-3zM538 552h3v1h-3zM544 552h3v1h-3zM550 552h3v1h-3zM556 552h3v1h-3zM562 552h3v1h-3zM568 552h3v1h-3zM574 552h3v1h-3zM580 552h3v1h-3zM586 552h3v1h-3zM592 552h3v1h-3zM598 552h3v1h-3zM604 552h3v1h-3zM610 552h3v1h-3zM616 552h3v1h-3zM622 552h3v1h-3zM628 552h3v1h-3zM634 552h3v1h-3zM640 552h3v1h-3zM646 552h3v1h-3zM652 552h3v1h-3zM658 552h3v1h-3zM664 552h3v1h-3zM670 552h3v1h-3zM676 552h3v1h-3zM682 552h3v1h-3zM688 552h3v1h-3zM694 552h3v1h-3zM700 552h3v1h-3zM706 552h3v1h-3zM712 552h3v1h-3zM718 552h3v1h-3zM724 552h3v1h-3zM730 552h3v1h-3zM736 552h3v1h-3zM742 552h3v1h-3zM748 552h3v1h-3zM754 552h3v1h-3zM760 552h3v1h-3zM766 552h3v1h-3zM772 552h3v1h-3zM778 552h3v1h-3zM784 552h3v1h-3zM790 552h3v1h-3zM796 552h3v1h-3zM802 552h3v1h-3zM808 552h3v1h-3zM814 552h3v1h-3zM820 552h3v1h-3zM826 552h3v1h-3zM832 552h3v1h-3zM838 552h3v1h-3zM844 552h3v1h-3zM850 552h3v1h-3zM856 552h3v1h-3zM862 552h3v1h-3zM868 552h3v1h-3zM874 552h3v1h-3zM880 552h3v1h-3zM886 552h3v1h-3zM892 552h3v1h-3zM898 552h3v1h-3zM904 552h3v1h-3zM910 552h3v1h-3zM916 552h3v1h-3zM922 552h3v1h-3zM928 552h3v1h-3zM934 552h2v1h-2z" fill="#C0C0C0"/>
<path d="M4 575h3v1h-3zM10 575h3v1h-3zM16 575h3v1h-3zM22 575h3v1h-3zM28 575h3v1h-3zM34 575h3v1h-3zM40 575h3v1h-3zM46 575h3v1h-3zM52 575h3v1h-3zM58 575h3v1h-3zM64 575h3v1h-3zM70 575h3v1h-3zM76 575h3v1h-3zM82 575h3v1h-3zM88 575h3v1h-3zM94 575h3v1h-3zM100 575h3v1h-3zM106 575h3v1h-3zM112 575h3v1h-3zM118 575h3v1h-3zM124 575h3v1h-3zM130 575h3v1h-3zM136 575h3v1h-3zM142 575h3v1h-3zM148 575h3v1h-3zM154 575h3v1h-3zM160 575h3v1h-3zM166 575h3v1h-3zM172 575h3v1h-3zM178 575h3v1h-3zM184 575h3v1h-3zM190 575h3v1h-3zM196 575h3v1h-3zM202 575h3v1h-3zM208 575h3v1h-3zM214 575h3v1h-3zM220 575h3v1h-3zM226 575h3v1h-3zM232 575h3v1h-3zM238 575h3v1h-3zM244 575h3v1h-3zM250 575h3v1h-3zM256 575h3v1h-3zM262 575h3v1h-3zM268 575h3v1h-3zM274 575h3v1h-3zM280 575h3v1h-3zM286 575h3v1h-3zM292 575h3v1h-3zM298 575h3v1h-3zM304 575h3v1h-3zM310 575h3v1h-3zM316 575h3v1h-3zM322 575h3v1h-3zM328 575h3v1h-3zM334 575h3v1h-3zM340 575h3v1h-3zM346 575h3v1h-3zM352 575h3v1h-3zM358 575h3v1h-3zM364 575h3v1h-3zM370 575h3v1h-3zM376 575h3v1h-3zM382 575h3v1h-3zM388 575h3v1h-3zM394 575h3v1h-3zM400 575h3v1h-3zM406 575h3v1h-3zM412 575h3v1h-3zM418 575h3v1h-3zM424 575h3v1h-3zM430 575h3v1h-3zM436 575h3v1h-3zM442 575h3v1h-3zM448 575h3v1h-3zM454 575h3v1h-3zM460 575h3v1h-3zM466 575h3v1h-3zM472 575h3v1h-3zM478 575h3v1h-3zM484 575h3v1h-3zM490 575h3v1h-3zM496 575h3v1h-3zM502 575h3v1h-3zM508 575h3v1h-3zM514 575h3v1h-3zM520 575h3v1h-3zM526 575h3v1h-3zM532 575h3v1h-3zM538 575h3v1h-3zM544 575h3v1h-3zM550 575h3v1h-3zM556 575h3v1h-3zM562 575h3v1h-3zM568 575h3v1h-3zM574 575h3v1h-3zM580 575h3v1h-3zM586 575h3v1h-3zM592 575h3v1h-3zM598 575h3v1h-3zM604 575h3v1h-3zM610 575h3v1h-3zM616 575h3v1h-3zM622 575h3v1h-3zM628 575h3v1h-3zM634 575h3v1h-3zM640 575h3v1h-3zM646 575h3v1h-3zM652 575h3v1h-3zM658 575h3v1h-3zM664 575h3v1h-3zM670 575h3v1h-3zM676 575h3v1h-3zM682 575h3v1h-3zM688 575h3v1h-3zM694 575h3v1h-3zM700 575h3v1h-3zM706 575h3v1h-3zM712 575h3v1h-3zM718 575h3v1h-3zM724 575h3v1h-3zM730 575h3v1h-3zM736 575h3v1h-3zM742 575h3v1h-3zM748 575h3v1h-3zM754 575h3v1h-3zM760 575h3v1h-3zM766 575h3v1h-3zM772 575h3v1h-3zM778 575h3v1h-3zM784 575h3v1h-3zM790 575h3v1h-3zM796 575h3v1h-3zM802 575h3v1h-3zM808 575h3v1h-3zM814 575h3v1h-3zM820 575h3v1h-3zM826 575h3v1h-3zM832 575h3v1h-3zM838 575h3v1h-3zM844 575h3v1h-3zM850 575h3v1h-3zM856 575h3v1h-3zM862 575h3v1h-3zM868 575h3v1h-3zM874 575h3v1h-3zM880 575h3v1h-3zM886 575h3v1h-3zM892 575h3v1h-3zM898 575h3v1h-3zM904 575h3v1h-3zM910 575h3v1h-3zM916 575h3v1h-3zM922 575h3v1h-3zM928 575h3v1h-3zM934 575h2v1h-2z" fill="#708090"/>
<clipPath id="cp"><path d="M3 3H547V26H3zM35 18H83V273H35zM3 69H355V81H3zM3 213H936V251H3z" clip-rule="evenodd"/></clipPath>
<path d="M3 3H547V26H3zM35 18H83V273H35zM3 69H355V81H3zM3 213H936V251H3z" fill="#FFDAB9" fill-rule="evenodd"/>
<g clip-path="url(#cp)">
<path d="M51 3v2h1v-2zM51 8v3h1v-3zM51 14v3h1v-3zM51 20v3h1v-3zM51 26v3h1v-3zM51 32v3h1v-3zM51 38v3h1v-3zM51 44v3h1v-3zM51 50v3h1v-3zM51 56v3h1v-3zM51 62v3h1v-3zM51 68v3h1v-3zM51 74v3h1v-3zM51 80v3h1v-3zM51 86v3h1v-3zM51 92v3h1v-3zM51 98v3h1v-3zM51 104v3h1v-3zM51 110v3h1v-3zM51 116v3h1v-3zM51 122v3h1v-3zM51 128v3h1v-3zM51 134v3h1v-3zM51 140v3h1v-3zM51 146v3h1v-3zM51 152v3h1v-3zM51 158v3h1v-3zM51 164v3h1v-3zM51 170v3h1v-3zM51 176v3h1v-3zM51 182v3h1v-3zM51 188v3h1v-3zM51 194v3h1v-3zM51 200v3h1v-3zM51 206v3h1v-3zM51 212v3h1v-3zM51 218v3h1v-3zM51 224v3h1v-3zM51 230v3h1v-3zM51 236v3h1v-3zM51 242v3h1v-3zM51 248v3h1v-3zM51 254v3h1v-3zM51 260v3h1v-3zM51 266v3h1v-3zM51 272v3h1v-3zM51 278v3h1v-3zM51 284v3h1v-3zM51 290v3h1v-3zM51 296v3h1v-3zM51 302v3h1v-3zM51 308v3h1v-3z" fill="#6CA6DC"/>
<path d="M99 3v2h1v-2zM99 8v3h1v-3zM99 14v3h1v-3zM99 20v3h1v-3zM99 26v3h1v-3zM99 32v3h1v-3zM99 38v3h1v-3zM99 44v3h1v-3zM99 50v3h1v-3zM99 56v3h1v-3zM99 62v3h1v-3zM99 68v3h1v-3zM99 74v3h1v-3zM99 80v3h1v-3zM99 86v3h1v-3zM99 92v3h1v-3zM99 98v3h1v-3zM99 104v3h1v-3zM99 110v3h1v-3zM99 116v3h1v-3zM99 122v3h1v-3zM99 128v3h1v-3zM99 134v3h1v-3zM99 140v3h1v-3zM99 146v3h1v-3zM99 152v3h1v-3zM99 158v3h1v-3zM99 164v3h1v-3zM99 170v3h1v-3zM99 176v3h1v-3zM99 182v3h1v-3zM99 188v3h1v-3zM99 194v3h1v-3zM99 200v3h1v-3zM99 206v3h1v-3zM99 212v3h1v-3zM99 218v3h1v-3zM99 224v3h1v-3zM99 230v3h1v-3zM99 236v3h1v-3zM99 242v3h1v-3zM99 248v3h1v-3zM99 254v3h1v-3zM99 260v3h1v-3zM99 266v3h1v-3zM99 272v3h1v-3zM99 278v3h1v-3zM99 284v3h1v-3zM99 290v3h1v-3zM99 296v3h1v-3zM99 302v3h1v-3zM99 308v3h1v-3z" fill="#6CA6DC"/>
<path d="M147 3v2h1v-2zM147 8v3h1v-3zM147 14v3h1v-3zM147 20v3h1v-3zM147 26v3h1v-3zM147 32v3h1v-3zM147 38v3h1v-3zM147 44v3h1v-3zM147 50v3h1v-3zM147 56v3h1v-3zM147 62v3h1v-3zM147 68v3h1v-3zM147 74v3h1v-3zM147 80v3h1v-3zM147 86v3h1v-3zM147 92v3h1v-3zM147 98v3h1v-3zM147 104v3h1v-3zM147 110v3h1v-3zM147 116v3h1v-3zM147 122v3h1v-3zM147 128v3h1v-3zM147 134v3h1v-3zM147 140v3h1v-3zM147 146v3h1v-3zM147 152v3h1v-3zM147 158v3h1v-3zM147 164v3h1v-3zM147 170v3h1v-3zM147 176v3h1v-3zM147 182v3h1v-3zM147 188v3h1v-3zM147 194v3h1v-3zM147 200v3h1v-3zM147 206v3h1v-3zM147 212v3h1v-3zM147 218v3h1v-3zM147 224v3h1v-3zM147 230v3h1v-3zM147 236v3h1v-3zM147 242v3h1v-3zM147 248v3h1v-3zM147 254v3h1v-3zM147 260v3h1v-3zM147 266v3h1v-3zM147 272v3h1v-3zM147 278v3h1v-3zM147 284v3h1v-3zM147 290v3h1v-3zM147 296v3h1v-3zM147 302v3h1v-3zM147 308v3h1v-3z" fill="#6CA6DC"/>
<path d="M195 3v2h1v-2zM195 8v3h1v-3zM195 14v3h1v-3zM195 20v3h1v-3zM195 26v3h1v-3zM195 32v3h1v-3zM195 38v3h1v-3zM195 44v3h1v-3zM195 50v3h1v-3zM195 56v3h1v-3zM195 62v3h1v-3zM195 68v3h1v-3zM195 74v3h1v-3zM195 80v3h1v-3zM195 86v3h1v-3zM195 92v3h1v-3zM195 98v3h1v-3zM195 104v3h1v-3zM195 110v3h1v-3zM195 116v3h1v-3zM195 122v3h1v-3zM195 128v3h1v-3zM195 134v3h1v-3zM195 140v3h1v-3zM195 146v3h1v-3zM195 152v3h1v-3zM195 158v3h1v-3zM195 164v3h1v-3zM195 170v3h1v-3zM195 176v3h1v-3zM195 182v3h1v-3zM195 188v3h1v-3zM195 194v3h1v-3zM195 200v3h1v-3zM195 206v3h1v-3zM195 212v3h1v-3zM195 218v3h1v-3zM195 224v3h1v-3zM195 230v3h1v-3zM195 236v3h1v-3zM195 242v3h1v-3zM195 248v3h1v-3zM195 254v3h1v-3zM195 260v3h1v-3zM195 266v3h1v-3zM195 272v3h1v-3zM195 278v3h1v-3zM195 284v3h1v-3zM195 290v3h1v-3zM195 296v3h1v-3zM195 302v3h1v-3zM195 308v3h1v-3z" fill="#6CA6DC"/>
<path d="M243 3v2h1v-2zM243 8v3h1v-3zM243 14v3h1v-3zM243 20v3h1v-3zM243 26v3h1v-3zM243 32v3h1v-3zM243 38v3h1v-3zM243 44v3h1v-3zM243 50v3h1v-3zM243 56v3h1v-3zM243 62v3h1v-3zM243 68v3h1v-3zM243 74v3h1v-3zM243 80v3h1v-3zM243 86v3h1v-3zM243 92v3h1v-3zM243 98v3h1v-3zM243 104v3h1v-3zM243 110v3h1v-3zM243 116v3h1v-3zM243 122v3h1v-3zM243 128v3h1v-3zM243 134v3h1v-3zM243 140v3h1v-3zM243 146v3h1v-3zM243 152v3h1v-3zM243 158v3h1v-3zM243 164v3h1v-3zM243 170v3h1v-3zM243 176v3h1v-3zM243 182v3h1v-3zM243 188v3h1v-3zM243 194v3h1v-3zM243 200v3h1v-3zM243 206v3h1v-3zM243 212v3h1v-3zM243 218v3h1v-3zM243 224v3h1v-3zM243 230v3h1v-3zM243 236v3h1v-3zM243 242v3h1v-3zM243 248v3h1v-3zM243 254v3h1v-3zM243 260v3h1v-3zM243 266v3h1v-3zM243 272v3h1v-3zM243 278v3h1v-3zM243 284v3h1v-3zM243 290v3h1v-3zM243 296v3h1v-3zM243 302v3h1v-3zM243 308v3h1v-3z" fill="#6CA6DC"/>
<path d="M291 3v2h1v-2zM291 8v3h1v-3zM291 14v3h1v-3zM291 20v3h1v-3zM291 26v3h1v-3zM291 32v3h1v-3zM291 38v3h1v-3zM291 44v3h1v-3zM291 50v3h1v-3zM291 56v3h1v-3zM291 62v3h1v-3zM291 68v3h1v-3zM291 74v3h1v-3zM291 80v3h1v-3zM291 86v3h1v-3zM291 92v3h1v-3zM291 98v3h1v-3zM291 104v3h1v-3zM291 110v3h1v-3zM291 116v3h1v-3zM291 122v3h1v-3zM291 128v3h1v-3zM291 134v3h1v-3zM291 140v3h1v-3zM291 146v3h1v-3zM291 152v3h1v-3zM291 158v3h1v-3zM291 164v3h1v-3zM291 170v3h1v-3zM291 176v3h1v-3zM291 182v3h1v-3zM291 188v3h1v-3zM291 194v3h1v-3zM291 200v3h1v-3zM291 206v3h1v-3zM291 212v3h1v-3zM291 218v3h1v-3zM291 224v3h1v-3zM291 230v3h1v-3zM291 236v3h1v-3zM291 242v3h1v-3zM291 248v3h1v-3zM291 254v3h1v-3zM291 260v3h1v-3zM291 266v3h1v-3zM291 272v3h1v-3zM291 278v3h1v-3zM291 284v3h1v-3zM291 290v3h1v-3zM291 296v3h1v-3zM291 302v3h1v-3zM291 308v3h1v-3z" fill="#6CA6DC"/>
<path d="M339 3v2h1v-2zM339 8v3h1v-3zM339 14v3h1v-3zM339 20v3h1v-3zM339 26v3h1v-3zM339 32v3h1v-3zM339 38v3h1v-3zM339 44v3h1v-3zM339 50v3h1v-3zM339 56v3h1v-3zM339 62v3h1v-3zM339 68v3h1v-3zM339 74v3h1v-3zM339 80v3h1v-3zM339 86v3h1v-3zM339 92v3h1v-3zM339 98v3h1v-3zM339 104v3h1v-3zM339 110v3h1v-3zM339 116v3h1v-3zM339 122v3h1v-3zM339 128v3h1v-3zM339 134v3h1v-3zM339 140v3h1v-3zM339 146v3h1v-3zM339 152v3h1v-3zM339 158v3h1v-3zM339 164v3h1v-3zM339 170v3h1v-3zM339 176v3h1v-3zM339 182v3h1v-3zM339 188v3h1v-3zM339 194v3h1v-3zM339 200v3h1v-3zM339 206v3h1v-3zM339 212v3h1v-3zM339 218v3h1v-3zM339 224v3h1v-3zM339 230v3h1v-3zM339 236v3h1v-3zM339 242v3h1v-3zM339 248v3h1v-3zM339 254v3h1v-3zM339 260v3h1v-3zM339 266v3h1v-3zM339 272v3h1v-3zM339 278v3h1v-3zM339 284v3h1v-3zM339 290v3h1v-3zM339 296v3h1v-3zM339 302v3h1v-3zM339 308v3h1v-3z" fill="#6CA6DC"/>
<path d="M387 3v2h1v-2zM387 8v3h1v-3zM387 14v3h1v-3zM387 20v3h1v-3zM387 26v3h1v-3zM387 32v3h1v-3zM387 38v3h1v-3zM387 44v3h1v-3zM387 50v3h1v-3zM387 56v3h1v-3zM387 62v3h1v-3zM387 68v3h1v-3zM387 74v3h1v-3zM387 80v3h1v-3zM387 86v3h1v-3zM387 92v3h1v-3zM387 98v3h1v-3zM387 104v3h1v-3zM387 110v3h1v-3zM387 116v3h1v-3zM387 122v3h1v-3zM387 128v3h1v-3zM387 134v3h1v-3zM387 140v3h1v-3zM387 146v3h1v-3zM387 152v3h1v-3zM387 158v3h1v-3zM387 164v3h1v-3zM387 170v3h1v-3zM387 176v3h1v-3zM387 182v3h1v-3zM387 188v3h1v-3zM387 194v3h1v-3zM387 200v3h1v-3zM387 206v3h1v-3zM387 212v3h1v-3zM387 218v3h1v-3zM387 224v3h1v-3zM387 230v3h1v-3zM387 236v3h1v-3zM387 242v3h1v-3zM387 248v3h1v-3zM387 254v3h1v-3zM387 260v3h1v-3zM387 266v3h1v-3zM387 272v3h1v-3zM387 278v3h1v-3zM387 284v3h1v-3zM387 290v3h1v-3zM387 296v3h1v-3zM387 302v3h1v-3zM387 308v3h1v-3z" fill="#6CA6DC"/>
<path d="M435 3v2h1v-2zM435 8v3h1v-3zM435 14v3h1v-3zM435 20v3h1v-3zM435 26v3h1v-3zM435 32v3h1v-3zM435 38v3h1v-3zM435 44v3h1v-3zM435 50v3h1v-3zM435 56v3h1v-3zM435 62v3h1v-3zM435 68v3h1v-3zM435 74v3h1v-3zM435 80v3h1v-3zM435 86v3h1v-3zM435 92v3h1v-3zM435 98v3h1v-3zM435 104v3h1v-3zM435 110v3h1v-3zM435 116v3h1v-3zM435 122v3h1v-3zM435 128v3h1v-3zM435 134v3h1v-3zM435 140v3h1v-3zM435 146v3h1v-3zM435 152v3h1v-3zM435 158v3h1v-3zM435 164v3h1v-3zM435 170v3h1v-3zM435 176v3h1v-3zM435 182v3h1v-3zM435 188v3h1v-3zM435 194v3h1v-3zM435 200v3h1v-3zM435 206v3h1v-3zM435 212v3h1v-3zM435 218v3h1v-3zM435 224v3h1v-3zM435 230v3h1v-3zM435 236v3h1v-3zM435 242v3h1v-3zM435 248v3h1v-3zM435 254v3h1v-3zM435 260v3h1v-3zM435 266v3h1v-3zM435 272v3h1v-3zM435 278v3h1v-3zM435 284v3h1v-3zM435 290v3h1v-3zM435 296v3h1v-3zM435 302v3h1v-3zM435 308v3h1v-3z" fill="#6CA6DC"/>
<path d="M483 3v2h1v-2zM483 8v3h1v-3zM483 14v3h1v-3zM483 20v3h1v-3zM483 26v3h1v-3zM483 32v3h1v-3zM483 38v3h1v-3zM483 44v3h1v-3zM483 50v3h1v-3zM483 56v3h1v-3zM483 62v3h1v-3zM483 68v3h1v-3zM483 74v3h1v-3zM483 80v3h1v-3zM483 86v3h1v-3zM483 92v3h1v-3zM483 98v3h1v-3zM483 104v3h1v-3zM483 110v3h1v-3zM483 116v3h1v-3zM483 122v3h1v-3zM483 128v3h1v-3zM483 134v3h1v-3zM483 140v3h1v-3zM483 146v3h1v-3zM483 152v3h1v-3zM483 158v3h1v-3zM483 164v3h1v-3zM483 170v3h1v-3zM483 176v3h1v-3zM483 182v3h1v-3zM483 188v3h1v-3zM483 194v3h1v-3zM483 200v3h1v-3zM483 206v3h1v-3zM483 212v3h1v-3zM483 218v3h1v-3zM483 224v3h1v-3zM483 230v3h1v-3zM483 236v3h1v-3zM483 242v3h1v-3zM483 248v3h1v-3zM483 254v3h1v-3zM483 260v3h1v-3zM483 266v3h1v-3zM483 272v3h1v-3zM483 278v3h1v-3zM483 284v3h1v-3zM483 290v3h1v-3zM483 296v3h1v-3zM483 302v3h1v-3zM483 308v3h1v-3z" fill="#6CA6DC"/>
<path d="M531 3v2h1v-2zM531 8v3h1v-3zM531 14v3h1v-3zM531 20v3h1v-3zM531 26v3h1v-3zM531 32v3h1v-3zM531 38v3h1v-3zM531 44v3h1v-3zM531 50v3h1v-3zM531 56v3h1v-3zM531 62v3h1v-3zM531 68v3h1v-3zM531 74v3h1v-3zM531 80v3h1v-3zM531 86v3h1v-3zM531 92v3h1v-3zM531 98v3h1v-3zM531 104v3h1v-3zM531 110v3h1v-3zM531 116v3h1v-3zM531 122v3h1v-3zM531 128v3h1v-3zM531 134v3h1v-3zM531 140v3h1v-3zM531 146v3h1v-3zM531 152v3h1v-3zM531 158v3h1v-3zM531 164v3h1v-3zM531 170v3h1v-3zM531 176v3h1v-3zM531 182v3h1v-3zM531 188v3h1v-3zM531 194v3h1v-3zM531 200v3h1v-3zM531 206v3h1v-3zM531 212v3h1v-3zM531 218v3h1v-3zM531 224v3h1v-3zM531 230v3h1v-3zM531 236v3h1v-3zM531 242v3h1v-3zM531 248v3h1v-3zM531 254v3h1v-3zM531 260v3h1v-3zM531 266v3h1v-3zM531 272v3h1v-3zM531 278v3h1v-3zM531 284v3h1v-3zM531 290v3h1v-3zM531 296v3h1v-3zM531 302v3h1v-3zM531 308v3h1v-3z" fill="#6CA6DC"/>
<path d="M579 3v2h1v-2zM579 8v3h1v-3zM579 14v3h1v-3zM579 20v3h1v-3zM579 26v3h1v-3zM579 32v3h1v-3zM579 38v3h1v-3zM579 44v3h1v-3zM579 50v3h1v-3zM579 56v3h1v-3zM579 62v3h1v-3zM579 68v3h1v-3zM579 74v3h1v-3zM579 80v3h1v-3zM579 86v3h1v-3zM579 92v3h1v-3zM579 98v3h1v-3zM579 104v3h1v-3zM579 110v3h1v-3zM579 116v3h1v-3zM579 122v3h1v-3zM579 128v3h1v-3zM579 134v3h1v-3zM579 140v3h1v-3zM579 146v3h1v-3zM579 152v3h1v-3zM579 158v3h1v-3zM579 164v3h1v-3zM579 170v3h1v-3zM579 176v3h1v-3zM579 182v3h1v-3zM579 188v3h1v-3zM579 194v3h1v-3zM579 200v3h1v-3zM579 206v3h1v-3zM579 212v3h1v-3zM579 218v3h1v-3zM579 224v3h1v-3zM579 230v3h1v-3zM579 236v3h1v-3zM579 242v3h1v-3zM579 248v3h1v-3zM579 254v3h1v-3zM579 260v3h1v-3zM579 266v3h1v-3zM579 272v3h1v-3zM579 278v3h1v-3zM579 284v3h1v-3zM579 290v3h1v-3zM579 296v3h1v-3zM579 302v3h1v-3zM579 308v3h1v-3z" fill="#6CA6DC"/>
<path d="M627 3v2h1v-2zM627 8v3h1v-3zM627 14v3h1v-3zM627 20v3h1v-3zM627 26v3h1v-3zM627 32v3h1v-3zM627 38v3h1v-3zM627 44v3h1v-3zM627 50v3h1v-3zM627 56v3h1v-3zM627 62v3h1v-3zM627 68v3h1v-3zM627 74v3h1v-3zM627 80v3h1v-3zM627 86v3h1v-3zM627 92v3h1v-3zM627 98v3h1v-3zM627 104v3h1v-3zM627 110v3h1v-3zM627 116v3h1v-3zM627 122v3h1v-3zM627 128v3h1v-3zM627 134v3h1v-3zM627 140v3h1v-3zM627 146v3h1v-3zM627 152v3h1v-3zM627 158v3h1v-3zM627 164v3h1v-3zM627 170v3h1v-3zM627 176v3h1v-3zM627 182v3h1v-3zM627 188v3h1v-3zM627 194v3h1v-3zM627 200v3h1v-3zM627 206v3h1v-3zM627 212v3h1v-3zM627 218v3h1v-3zM627 224v3h1v-3zM627 230v3h1v-3zM627 236v3h1v-3zM627 242v3h1v-3zM627 248v3h1v-3zM627 254v3h1v-3zM627 260v3h1v-3zM627 266v3h1v-3zM627 272v3h1v-3zM627 278v3h1v-3zM627 284v3h1v-3zM627 290v3h1v-3zM627 296v3h1v-3zM627 302v3h1v-3zM627 308v3h1v-3z" fill="#6CA6DC"/>
<path d="M675 3v2h1v-2zM675 8v3h1v-3zM675 14v3h1v-3zM675 20v3h1v-3zM675 26v3h1v-3zM675 32v3h1v-3zM675 38v3h1v-3zM675 44v3h1v-3zM675 50v3h1v-3zM675 56v3h1v-3zM675 62v3h1v-3zM675 68v3h1v-3zM675 74v3h1v-3zM675 80v3h1v-3zM675 86v3h1v-3zM675 92v3h1v-3zM675 98v3h1v-3zM675 104v3h1v-3zM675 110v3h1v-3zM675 116v3h1v-3zM675 122v3h1v-3zM675 128v3h1v-3zM675 134v3h1v-3zM675 140v3h1v-3zM675 146v3h1v-3zM675 152v3h1v-3zM675 158v3h1v-3zM675 164v3h1v-3zM675 170v3h1v-3zM675 176v3h1v-3zM675 182v3h1v-3zM675 188v3h1v-3zM675 194v3h1v-3zM675 200v3h1v-3zM675 206v3h1v-3zM675 212v3h1v-3zM675 218v3h1v-3zM675 224v3h1v-3zM675 230v3h1v-3zM675 236v3h1v-3zM675 242v3h1v-3zM675 248v3h1v-3zM675 254v3h1v-3zM675 260v3h1v-3zM675 266v3h1v-3zM675 272v3h1v-3zM675 278v3h1v-3zM675 284v3h1v-3zM675 290v3h1v-3zM675 296v3h1v-3zM675 302v3h1v-3zM675 308v3h1v-3z" fill="#6CA6DC"/>
<path d="M723 3v2h1v-2zM723 8v3h1v-3zM723 14v3h1v-3zM723 20v3h1v-3zM723 26v3h1v-3zM723 32v3h1v-3zM723 38v3h1v-3zM723 44v3h1v-3zM723 50v3h1v-3zM723 56v3h1v-3zM723 62v3h1v-3zM723 68v3h1v-3zM723 74v3h1v-3zM723 80v3h1v-3zM723 86v3h1v-3zM723 92v3h1v-3zM723 98v3h1v-3zM723 104v3h1v-3zM723 110v3h1v-3zM723 116v3h1v-3zM723 122v3h1v-3zM723 128v3h1v-3zM723 134v3h1v-3zM723 140v3h1v-3zM723 146v3h1v-3zM723 152v3h1v-3zM723 158v3h1v-3zM723 164v3h1v-3zM723 170v3h1v-3zM723 176v3h1v-3zM723 182v3h1v-3zM723 188v3h1v-3zM723 194v3h1v-3zM723 200v3h1v-3zM723 206v3h1v-3zM723 212v3h1v-3zM723 218v3h1v-3zM723 224v3h1v-3zM723 230v3h1v-3zM723 236v3h1v-3zM723 242v3h1v-3zM723 248v3h1v-3zM723 254v3h1v-3zM723 260v3h1v-3zM723 266v3h1v-3zM723 272v3h1v-3zM723 278v3h1v-3zM723 284v3h1v-3zM723 290v3h1v-3zM723 296v3h1v-3zM723 302v3h1v-3zM723 308v3h1v-3z" fill="#6CA6DC"/>
<path d="M771 3v2h1v-2zM771 8v3h1v-3zM771 14v3h1v-3zM771 20v3h1v-3zM771 26v3h1v-3zM771 32v3h1v-3zM771 38v3h1v-3zM771 44v3h1v-3zM771 50v3h1v-3zM771 56v3h1v-3zM771 62v3h1v-3zM771 68v3h1v-3zM771 74v3h1v-3zM771 80v3h1v-3zM771 86v3h1v-3zM771 92v3h1v-3zM771 98v3h1v-3zM771 104v3h1v-3zM771 110v3h1v-3zM771 116v3h1v-3zM771 122v3h1v-3zM771 128v3h1v-3zM771 134v3h1v-3zM771 140v3h1v-3zM771 146v3h1v-3zM771 152v3h1v-3zM771 158v3h1v-3zM771 164v3h1v-3zM771 170v3h1v-3zM771 176v3h1v-3zM771 182v3h1v-3zM771 188v3h1v-3zM771 194v3h1v-3zM771 200v3h1v-3zM771 206v3h1v-3zM771 212v3h1v-3zM771 218v3h1v-3zM771 224v3h1v-3zM771 230v3h1v-3zM771 236v3h1v-3zM771 242v3h1v-3zM771 248v3h1v-3zM771 254v3h1v-3zM771 260v3h1v-3zM771 266v3h1v-3zM771 272v3h1v-3zM771 278v3h1v-3zM771 284v3h1v-3zM771 290v3h1v-3zM771 296v3h1v-3zM771 302v3h1v-3zM771 308v3h1v-3z" fill="#6CA6DC"/>
<path d="M819 3v2h1v-2zM819 8v3h1v-3zM819 14v3h1v-3zM819 20v3h1v-3zM819 26v3h1v-3zM819 32v3h1v-3zM819 38v3h1v-3zM819 44v3h1v-3zM819 50v3h1v-3zM819 56v3h1v-3zM819 62v3h1v-3zM819 68v3h1v-3zM819 74v3h1v-3zM819 80v3h1v-3zM819 86v3h1v-3zM819 92v3h1v-3zM819 98v3h1v-3zM819 104v3h1v-3zM819 110v3h1v-3zM819 116v3h1v-3zM819 122v3h1v-3zM819 128v3h1v-3zM819 134v3h1v-3zM819 140v3h1v-3zM819 146v3h1v-3zM819 152v3h1v-3zM819 158v3h1v-3zM819 164v3h1v-3zM819 170v3h1v-3zM819 176v3h1v-3zM819 182v3h1v-3zM819 188v3h1v-3zM819 194v3h1v-3zM819 200v3h1v-3zM819 206v3h1v-3zM819 212v3h1v-3zM819 218v3h1v-3zM819 224v3h1v-3zM819 230v3h1v-3zM819 236v3h1v-3zM819 242v3h1v-3zM819 248v3h1v-3zM819 254v3h1v-3zM819 260v3h1v-3zM819 266v3h1v-3zM819 272v3h1v-3zM819 278v3h1v-3zM819 284v3h1v-3zM819 290v3h1v-3zM819 296v3h1v-3zM819 302v3h1v-3zM819 308v3h1v-3z" fill="#6CA6DC"/>
<path d="M867 3v2h1v-2zM867 8v3h1v-3zM867 14v3h1v-3zM867 20v3h1v-3zM867 26v3h1v-3zM867 32v3h1v-3zM867 38v3h1v-3zM867 44v3h1v-3zM867 50v3h1v-3zM867 56v3h1v-3zM867 62v3h1v-3zM867 68v3h1v-3zM867 74v3h1v-3zM867 80v3h1v-3zM867 86v3h1v-3zM867 92v3h1v-3zM867 98v3h1v-3zM867 104v3h1v-3zM867 110v3h1v-3zM867 116v3h1v-3zM867 122v3h1v-3zM867 128v3h1v-3zM867 134v3h1v-3zM867 140v3h1v-3zM867 146v3h1v-3zM867 152v3h1v-3zM867 158v3h1v-3zM867 164v3h1v-3zM867 170v3h1v-3zM867 176v3h1v-3zM867 182v3h1v-3zM867 188v3h1v-3zM867 194v3h1v-3zM867 200v3h1v-3zM867 206v3h1v-3zM867 212v3h1v-3zM867 218v3h1v-3zM867 224v3h1v-3zM867 230v3h1v-3zM867 236v3h1v-3zM867 242v3h1v-3zM867 248v3h1v-3zM867 254v3h1v-3zM867 260v3h1v-3zM867 266v3h1v-3zM867 272v3h1v-3zM867 278v3h1v-3zM867 284v3h1v-3zM867 290v3h1v-3zM867 296v3h1v-3zM867 302v3h1v-3zM867 308v3h1v-3z" fill="#6CA6DC"/>
<path d="M915 3v2h1v-2zM915 8v3h1v-3zM915 14v3h1v-3zM915 20v3h1v-3zM915 26v3h1v-3zM915 32v3h1v-3zM915 38v3h1v-3zM915 44v3h1v-3zM915 50v3h1v-3zM915 56v3h1v-3zM915 62v3h1v-3zM915 68v3h1v-3zM915 74v3h1v-3zM915 80v3h1v-3zM915 86v3h1v-3zM915 92v3h1v-3zM915 98v3h1v-3zM915 104v3h1v-3zM915 110v3h1v-3zM915 116v3h1v-3zM915 122v3h1v-3zM915 128v3h1v-3zM915 134v3h1v-3zM915 140v3h1v-3zM915 146v3h1v-3zM915 152v3h1v-3zM915 158v3h1v-3zM915 164v3h1v-3zM915 170v3h1v-3zM915 176v3h1v-3zM915 182v3h1v-3zM915 188v3h1v-3zM915 194v3h1v-3zM915 200v3h1v-3zM915 206v3h1v-3zM915 212v3h1v-3zM915 218v3h1v-3zM915 224v3h1v-3zM915 230v3h1v-3zM915 236v3h1v-3zM915 242v3h1v-3zM915 248v3h1v-3zM915 254v3h1v-3zM915 260v3h1v-3zM915 266v3h1v-3zM915 272v3h1v-3zM915 278v3h1v-3zM915 284v3h1v-3zM915 290v3h1v-3zM915 296v3h1v-3zM915 302v3h1v-3zM915 308v3h1v-3z" fill="#6CA6DC"/>
<path d="M51 314v3h1v-3zM51 320v3h1v-3zM51 326v3h1v-3zM51 332v3h1v-3zM51 338v3h1v-3zM51 344v3h1v-3zM51 350v3h1v-3zM51 356v3h1v-3zM51 362v3h1v-3zM51 368v3h1v-3zM51 374v3h1v-3zM51 380v3h1v-3zM51 386v3h1v-3zM51 392v3h1v-3zM51 398v3h1v-3zM51 404v3h1v-3zM51 410v3h1v-3zM51 416v1h1v-1z" fill="#6CA6DC"/>
<path d="M99 314v3h1v-3zM99 320v3h1v-3zM99 326v3h1v-3zM99 332v3h1v-3zM99 338v3h1v-3zM99 344v3h1v-3zM99 350v3h1v-3zM99 356v3h1v-3zM99 362v3h1v-3zM99 368v3h1v-3zM99 374v3h1v-3zM99 380v3h1v-3zM99 386v3h1v-3zM99 392v3h1v-3zM99 398v3h1v-3zM99 404v3h1v-3zM99 410v3h1v-3zM99 416v1h1v-1z" fill="#6CA6DC"/>
<path d="M147 314v3h1v-3zM147 320v3h1v-3zM147 326v3h1v-3zM147 332v3h1v-3zM147 338v3h1v-3zM147 344v3h1v-3zM147 350v3h1v-3zM147 356v3h1v-3zM147 362v3h1v-3zM147 368v3h1v-3zM147 374v3h1v-3zM147 380v3h1v-3zM147 386v3h1v-3zM147 392v3h1v-3zM147 398v3h1v-3zM147 404v3h1v-3zM147 410v3h1v-3zM147 416v1h1v-1z" fill="#6CA6DC"/>
<path d="M195 314v3h1v-3zM195 320v3h1v-3zM195 326v3h1v-3zM195 332v3h1v-3zM195 338v3h1v-3zM195 344v3h1v-3zM195 350v3h1v-3zM195 356v3h1v-3zM195 362v3h1v-3zM195 368v3h1v-3zM195 374v3h1v-3zM195 380v3h1v-3zM195 386v3h1v-3zM195 392v3h1v-3zM195 398v3h1v-3zM195 404v3h1v-3zM195 410v3h1v-3zM195 416v1h1v-1z" fill="#6CA6DC"/>
<path d="M243 314v3h1v-3zM243 320v3h1v-3zM243 326v3h1v-3zM243 332v3h1v-3zM243 338v3h1v-3zM243 344v3h1v-3zM243 350v3h1v-3zM243 356v3h1v-3zM243 362v3h1v-3zM243 368v3h1v-3zM243 374v3h1v-3zM243 380v3h1v-3zM243 386v3h1v-3zM243 392v3h1v-3zM243 398v3h1v-3zM243 404v3h1v-3zM243 410v3h1v-3zM243 416v1h1v-1z" fill="#6CA6DC"/>
<path d="M291 314v3h1v-3zM291 320v3h1v-3zM291 326v3h1v-3zM291 332v3h1v-3zM291 338v3h1v-3zM291 344v3h1v-3zM291 350v3h1v-3zM291 356v3h1v-3zM291 362v3h1v-3zM291 368v3h1v-3zM291 374v3h1v-3zM291 380v3h1v-3zM291 386v3h1v-3zM291 392v3h1v-3zM291 398v3h1v-3zM291 404v3h1v-3zM291 410v3h1v-3zM291 416v1h1v-1z" fill="#6CA6DC"/>
<path d="M339 314v3h1v-3zM339 320v3h1v-3zM339 326v3h1v-3zM339 332v3h1v-3zM339 338v3h1v-3zM339 344v3h1v-3zM339 350v3h1v-3zM339 356v3h1v-3zM339 362v3h1v-3zM339 368v3h1v-3zM339 374v3h1v-3zM339 380v3h1v-3zM339 386v3h1v-3zM339 392v3h1v-3zM339 398v3h1v-3zM339 404v3h1v-3zM339 410v3h1v-3zM339 416v1h1v-1z" fill="#6CA6DC"/>
<path d="M387 314v3h1v-3zM387 320v3h1v-3zM387 326v3h1v-3zM387 332v3h1v-3zM387 338v3h1v-3zM387 344v3h1v-3zM387 350v3h1v-3zM387 356v3h1v-3zM387 362v3h1v-3zM387 368v3h1v-3zM387 374v3h1v-3zM387 380v3h1v-3zM387 386v3h1v-3zM387 392v3h1v-3zM387 398v3h1v-3zM387 404v3h1v-3zM387 410v3h1v-3zM387 416v1h1v-1z" fill="#6CA6DC"/>
<path d="M435 314v3h1v-3zM435 320v3h1v-3zM435 326v3h1v-3zM435 332v3h1v-3zM435 338v3h1v-3zM435 344v3h1v-3zM435 350v3h1v-3zM435 356v3h1v-3zM435 362v3h1v-3zM435 368v3h1v-3zM435 374v3h1v-3zM435 380v3h1v-3zM435 386v3h1v-3zM435 392v3h1v-3zM435 398v3h1v-3zM435 404v3h1v-3zM435 410v3h1v-3zM435 416v1h1v-1z" fill="#6CA6DC"/>
<path d="M483 314v3h1v-3zM483 320v3h1v-3zM483 326v3h1v-3zM483 332v3h1v-3zM483 338v3h1v-3zM483 344v3h1v-3zM483 350v3h1v-3zM483 356v3h1v-3zM483 362v3h1v-3zM483 368v3h1v-3zM483 374v3h1v-3zM483 380v3h1v-3zM483 386v3h1v-3zM483 392v3h1v-3zM483 398v3h1v-3zM483 404v3h1v-3zM483 410v3h1v-3zM483 416v1h1v-1z" fill="#6CA6DC"/>
<path d="M531 314v3h1v-3zM531 320v3h1v-3zM531 326v3h1v-3zM531 332v3h1v-3zM531 338v3h1v-3zM531 344v3h1v-3zM531 350v3h1v-3zM531 356v3h1v-3zM531 362v3h1v-3zM531 368v3h1v-3zM531 374v3h1v-3zM531 380v3h1v-3zM531 386v3h1v-3zM531 392v3h1v-3zM531 398v3h1v-3zM531 404v3h1v-3zM531 410v3h1v-3zM531 416v1h1v-1z" fill="#6CA6DC"/>
<path d="M579 314v3h1v-3zM579 320v3h1v-3zM579 326v3h1v-3zM579 332v3h1v-3zM579 338v3h1v-3zM579 344v3h1v-3zM579 350v3h1v-3zM579 356v3h1v-3zM579 362v3h1v-3zM579 368v3h1v-3zM579 374v3h1v-3zM579 380v3h1v-3zM579 386v3h1v-3zM579 392v3h1v-3zM579 398v3h1v-3zM579 404v3h1v-3zM579 410v3h1v-3zM579 416v1h1v-1z" fill="#6CA6DC"/>
<path d="M627 314v3h1v-3zM627 320v3h1v-3zM627 326v3h1v-3zM627 332v3h1v-3zM627 338v3h1v-3zM627 344v3h1v-3zM627 350v3h1v-3zM627 356v3h1v-3zM627 362v3h1v-3zM627 368v3h1v-3zM627 374v3h1v-3zM627 380v3h1v-3zM627 386v3h1v-3zM627 392v3h1v-3zM627 398v3h1v-3zM627 404v3h1v-3zM627 410v3h1v-3zM627 416v1h1v-1z" fill="#6CA6DC"/>
<path d="M675 314v3h1v-3zM675 320v3h1v-3zM675 326v3h1v-3zM675 332v3h1v-3zM675 338v3h1v-3zM675 344v3h1v-3zM675 350v3h1v-3zM675 356v3h1v-3zM675 362v3h1v-3zM675 368v3h1v-3zM675 374v3h1v-3zM675 380v3h1v-3zM675 386v3h1v-3zM675 392v3h1v-3zM675 398v3h1v-3zM675 404v3h1v-3zM675 410v3h1v-3zM675 416v1h1v-1z" fill="#6CA6DC"/>
<path d="M723 314v3h1v-3zM723 320v3h1v-3zM723 326v3h1v-3zM723 332v3h1v-3zM723 338v3h1v-3zM723 344v3h1v-3zM723 350v3h1v-3zM723 356v3h1v-3zM723 362v3h1v-3zM723 368v3h1v-3zM723 374v3h1v-3zM723 380v3h1v-3zM723 386v3h1v-3zM723 392v3h1v-3zM723 398v3h1v-3zM723 404v3h1v-3zM723 410v3h1v-3zM723 416v1h1v-1z" fill="#6CA6DC"/>
<path d="M771 314v3h1v-3zM771 320v3h1v-3zM771 326v3h1v-3zM771 332v3h1v-3zM771 338v3h1v-3zM771 344v3h1v-3zM771 350v3h1v-3zM771 356v3h1v-3zM771 362v3h1v-3zM771 368v3h1v-3zM771 374v3h1v-3zM771 380v3h1v-3zM771 386v3h1v-3zM771 392v3h1v-3zM771 398v3h1v-3zM771 404v3h1v-3zM771 410v3h1v-3zM771 416v1h1v-1z" fill="#6CA6DC"/>
<path d="M819 314v3h1v-3zM819 320v3h1v-3zM819 326v3h1v-3zM819 332v3h1v-3zM819 338v3h1v-3zM819 344v3h1v-3zM819 350v3h1v-3zM819 356v3h1v-3zM819 362v3h1v-3zM819 368v3h1v-3zM819 374v3h1v-3zM819 380v3h1v-3zM819 386v3h1v-3zM819 392v3h1v-3zM819 398v3h1v-3zM819 404v3h1v-3zM819 410v3h1v-3zM819 416v1h1v-1z" fill="#6CA6DC"/>
<path d="M867 314v3h1v-3zM867 320v3h1v-3zM867 326v3h1v-3zM867 332v3h1v-3zM867 338v3h1v-3zM867 344v3h1v-3zM867 350v3h1v-3zM867 356v3h1v-3zM867 362v3h1v-3zM867 368v3h1v-3zM867 374v3h1v-3zM867 380v3h1v-3zM867 386v3h1v-3zM867 392v3h1v-3zM867 398v3h1v-3zM867 404v3h1v-3zM867 410v3h1v-3zM867 416v1h1v-1z" fill="#6CA6DC"/>
<path d="M915 314v3h1v-3zM915 320v3h1v-3zM915 326v3h1v-3zM915 332v3h1v-3zM915 338v3h1v-3zM915 344v3h1v-3zM915 350v3h1v-3zM915 356v3h1v-3zM915 362v3h1v-3zM915 368v3h1v-3zM915 374v3h1v-3zM915 380v3h1v-3zM915 386v3h1v-3zM915 392v3h1v-3zM915 398v3h1v-3zM915 404v3h1v-3zM915 410v3h1v-3zM915 416v1h1v-1z" fill="#6CA6DC"/>
<path d="M51 422v3h1v-3zM51 428v3h1v-3zM51 434v3h1v-3zM51 440v3h1v-3zM51 446v3h1v-3zM51 452v3h1v-3zM51 458v3h1v-3zM51 464v3h1v-3zM51 470v3h1v-3zM51 476v3h1v-3zM51 482v3h1v-3zM51 488v3h1v-3z" fill="#6CA6DC"/>
<path d="M99 422v3h1v-3zM99 428v3h1v-3zM99 434v3h1v-3zM99 440v3h1v-3zM99 446v3h1v-3zM99 452v3h1v-3zM99 458v3h1v-3zM99 464v3h1v-3zM99 470v3h1v-3zM99 476v3h1v-3zM99 482v3h1v-3zM99 488v3h1v-3z" fill="#6CA6DC"/>
<path d="M147 422v3h1v-3zM147 428v3h1v-3zM147 434v3h1v-3zM147 440v3h1v-3zM147 446v3h1v-3zM147 452v3h1v-3zM147 458v3h1v-3zM147 464v3h1v-3zM147 470v3h1v-3zM147 476v3h1v-3zM147 482v3h1v-3zM147 488v3h1v-3z" fill="#6CA6DC"/>
<path d="M195 422v3h1v-3zM195 428v3h1v-3zM195 434v3h1v-3zM195 440v3h1v-3zM195 446v3h1v-3zM195 452v3h1v-3zM195 458v3h1v-3zM195 464v3h1v-3zM195 470v3h1v-3zM195 476v3h1v-3zM195 482v3h1v-3zM195 488v3h1v-3z" fill="#6CA6DC"/>
<path d="M243 422v3h1v-3zM243 428v3h1v-3zM243 434v3h1v-3zM243 440v3h1v-3zM243 446v3h1v-3zM243 452v3h1v-3zM243 458v3h1v-3zM243 464v3h1v-3zM243 470v3h1v-3zM243 476v3h1v-3zM243 482v3h1v-3zM243 488v3h1v-3z" fill="#6CA6DC"/>
<path d="M291 422v3h1v-3zM291 428v3h1v-3zM291 434v3h1v-3zM291 440v3h1v-3zM291 446v3h1v-3zM291 452v3h1v-3zM291 458v3h1v-3zM291 464v3h1v-3zM291 470v3h1v-3zM291 476v3h1v-3zM291 482v3h1v-3zM291 488v3h1v-3z" fill="#6CA6DC"/>
<path d="M339 422v3h1v-3zM339 428v3h1v-3zM339 434v3h1v-3zM339 440v3h1v-3zM339 446v3h1v-3zM339 452v3h1v-3zM339 458v3h1v-3zM339 464v3h1v-3zM339 470v3h1v-3zM339 476v3h1v-3zM339 482v3h1v-3zM339 488v3h1v-3z" fill="#6CA6DC"/>
<path d="M387 422v3h1v-3zM387 428v3h1v-3zM387 434v3h1v-3zM387 440v3h1v-3zM387 446v3h1v-3zM387 452v3h1v-3zM387 458v3h1v-3zM387 464v3h1v-3zM387 470v3h1v-3zM387 476v3h1v-3zM387 482v3h1v-3zM387 488v3h1v-3z" fill="#6CA6DC"/>
<path d="M435 422v3h1v-3zM435 428v3h1v-3zM435 434v3h1v-3zM435 440v3h1v-3zM435 446v3h1v-3zM435 452v3h1v-3zM435 458v3h1v-3zM435 464v3h1v-3zM435 470v3h1v-3zM435 476v3h1v-3zM435 482v3h1v-3zM435 488v3h1v-3z" fill="#6CA6DC"/>
<path d="M483 422v3h1v-3zM483 428v3h1v-3zM483 434v3h1v-3zM483 440v3h1v-3zM483 446v3h1v-3zM483 452v3h1v-3zM483 458v3h1v-3zM483 464v3h1v-3zM483 470v3h1v-3zM483 476v3h1v-3zM483 482v3h1v-3zM483 488v3h1v-3z" fill="#6CA6DC"/>
<path d="M531 422v3h1v-3zM531 428v3h1v-3zM531 434v3h1v-3zM531 440v3h1v-3zM531 446v3h1v-3zM531 452v3h1v-3zM531 458v3h1v-3zM531 464v3h1v-3zM531 470v3h1v-3zM531 476v3h1v-3zM531 482v3h1v-3zM531 488v3h1v-3z" fill="#6CA6DC"/>
<path d="M579 422v3h1v-3zM579 428v3h1v-3zM579 434v3h1v-3zM579 440v3h1v-3zM579 446v3h1v-3zM579 452v3h1v-3zM579 458v3h1v-3zM579 464v3h1v-3zM579 470v3h1v-3zM579 476v3h1v-3zM579 482v3h1v-3zM579 488v3h1v-3z" fill="#6CA6DC"/>
<path d="M627 422v3h1v-3zM627 428v3h1v-3zM627 434v3h1v-3zM627 440v3h1v-3zM627 446v3h1v-3zM627 452v3h1v-3zM627 458v3h1v-3zM627 464v3h1v-3zM627 470v3h1v-3zM627 476v3h1v-3zM627 482v3h1v-3zM627 488v3h1v-3z" fill="#6CA6DC"/>
<path d="M675 422v3h1v-3zM675 428v3h1v-3zM675 434v3h1v-3zM675 440v3h1v-3zM675 446v3h1v-3zM675 452v3h1v-3zM675 458v3h1v-3zM675 464v3h1v-3zM675 470v3h1v-3zM675 476v3h1v-3zM675 482v3h1v-3zM675 488v3h1v-3z" fill="#6CA6DC"/>
<path d="M723 422v3h1v-3zM723 428v3h1v-3zM723 434v3h1v-3zM723 440v3h1v-3zM723 446v3h1v-3zM723 452v3h1v-3zM723 458v3h1v-3zM723 464v3h1v-3zM723 470v3h1v-3zM723 476v3h1v-3zM723 482v3h1v-3zM723 488v3h1v-3z" fill="#6CA6DC"/>
<path d="M771 422v3h1v-3zM771 428v3h1v-3zM771 434v3h1v-3zM771 440v3h1v-3zM771 446v3h1v-3zM771 452v3h1v-3zM771 458v3h1v-3zM771 464v3h1v-3zM771 470v3h1v-3zM771 476v3h1v-3zM771 482v3h1v-3zM771 488v3h1v-3z" fill="#6CA6DC"/>
<path d="M819 422v3h1v-3zM819 428v3h1v-3zM819 434v3h1v-3zM819 440v3h1v-3zM819 446v3h1v-3zM819 452v3h1v-3zM819 458v3h1v-3zM819 464v3h1v-3zM819 470v3h1v-3zM819 476v3h1v-3zM819 482v3h1v-3zM819 488v3h1v-3z" fill="#6CA6DC"/>
<path d="M867 422v3h1v-3zM867 428v3h1v-3zM867 434v3h1v-3zM867 440v3h1v-3zM867 446v3h1v-3zM867 452v3h1v-3zM867 458v3h1v-3zM867 464v3h1v-3zM867 470v3h1v-3zM867 476v3h1v-3zM867 482v3h1v-3zM867 488v3h1v-3z" fill="#6CA6DC"/>
<path d="M915 422v3h1v-3zM915 428v3h1v-3zM915 434v3h1v-3zM915 440v3h1v-3zM915 446v3h1v-3zM915 452v3h1v-3zM915 458v3h1v-3zM915 464v3h1v-3zM915 470v3h1v-3zM915 476v3h1v-3zM915 482v3h1v-3zM915 488v3h1v-3z" fill="#6CA6DC"/>
<path d="M51 496v1h1v-1zM51 500v3h1v-3zM51 506v3h1v-3zM51 512v3h1v-3zM51 518v3h1v-3zM51 524v3h1v-3zM51 530v3h1v-3zM51 536v3h1v-3zM51 542v3h1v-3zM51 548v3h1v-3zM51 554v3h1v-3zM51 560v3h1v-3zM51 566v3h1v-3zM51 572v3h1v-3z" fill="#6CA6DC"/>
<path d="M99 496v1h1v-1zM99 500v3h1v-3zM99 506v3h1v-3zM99 512v3h1v-3zM99 518v3h1v-3zM99 524v3h1v-3zM99 530v3h1v-3zM99 536v3h1v-3zM99 542v3h1v-3zM99 548v3h1v-3zM99 554v3h1v-3zM99 560v3h1v-3zM99 566v3h1v-3zM99 572v3h1v-3z" fill="#6CA6DC"/>
<path d="M147 496v1h1v-1zM147 500v3h1v-3zM147 506v3h1v-3zM147 512v3h1v-3zM147 518v3h1v-3zM147 524v3h1v-3zM147 530v3h1v-3zM147 536v3h1v-3zM147 542v3h1v-3zM147 548v3h1v-3zM147 554v3h1v-3zM147 560v3h1v-3zM147 566v3h1v-3zM147 572v3h1v-3z" fill="#6CA6DC"/>
<path d="M195 496v1h1v-1zM195 500v3h1v-3zM195 506v3h1v-3zM195 512v3h1v-3zM195 518v3h1v-3zM195 524v3h1v-3zM195 530v3h1v-3zM195 536v3h1v-3zM195 542v3h1v-3zM195 548v3h1v-3zM195 554v3h1v-3zM195 560v3h1v-3zM195 566v3h1v-3zM195 572v3h1v-3z" fill="#6CA6DC"/>
<path d="M243 496v1h1v-1zM243 500v3h1v-3zM243 506v3h1v-3zM243 512v3h1v-3zM243 518v3h1v-3zM243 524v3h1v-3zM243 530v3h1v-3zM243 536v3h1v-3zM243 542v3h1v-3zM243 548v3h1v-3zM243 554v3h1v-3zM243 560v3h1v-3zM243 566v3h1v-3zM243 572v3h1v-3z" fill="#6CA6DC"/>
<path d="M291 496v1h1v-1zM291 500v3h1v-3zM291 506v3h1v-3zM291 512v3h1v-3zM291 518v3h1v-3zM291 524v3h1v-3zM291 530v3h1v-3zM291 536v3h1v-3zM291 542v3h1v-3zM291 548v3h1v-3zM291 554v3h1v-3zM291 560v3h1v-3zM291 566v3h1v-3zM291 572v3h1v-3z" fill="#6CA6DC"/>
<path d="M339 496v1h1v-1zM339 500v3h1v-3zM339 506v3h1v-3zM339 512v3h1v-3zM339 518v3h1v-3zM339 524v3h1v-3zM339 530v3h1v-3zM339 536v3h1v-3zM339 542v3h1v-3zM339 548v3h1v-3zM339 554v3h1v-3zM339 560v3h1v-3zM339 566v3h1v-3zM339 572v3h1v-3z" fill="#6CA6DC"/>
<path d="M387 496v1h1v-1zM387 500v3h1v-3zM387 506v3h1v-3zM387 512v3h1v-3zM387 518v3h1v-3zM387 524v3h1v-3zM387 530v3h1v-3zM387 536v3h1v-3zM387 542v3h1v-3zM387 548v3h1v-3zM387 554v3h1v-3zM387 560v3h1v-3zM387 566v3h1v-3zM387 572v3h1v-3z" fill="#6CA6DC"/>
<path d="M435 496v1h1v-1zM435 500v3h1v-3zM435 506v3h1v-3zM435 512v3h1v-3zM435 518v3h1v-3zM435 524v3h1v-3zM435 530v3h1v-3zM435 536v3h1v-3zM435 542v3h1v-3zM435 548v3h1v-3zM435 554v3h1v-3zM435 560v3h1v-3zM435 566v3h1v-3zM435 572v3h1v-3z" fill="#6CA6DC"/>
<path d="M483 496v1h1v-1zM483 500v3h1v-3zM483 506v3h1v-3zM483 512v3h1v-3zM483 518v3h1v-3zM483 524v3h1v-3zM483 530v3h1v-3zM483 536v3h1v-3zM483 542v3h1v-3zM483 548v3h1v-3zM483 554v3h1v-3zM483 560v3h1v-3zM483 566v3h1v-3zM483 572v3h1v-3z" fill="#6CA6DC"/>
<path d="M531 496v1h1v-1zM531 500v3h1v-3zM531 506v3h1v-3zM531 512v3h1v-3zM531 518v3h1v-3zM531 524v3h1v-3zM531 530v3h1v-3zM531 536v3h1v-3zM531 542v3h1v-3zM531 548v3h1v-3zM531 554v3h1v-3zM531 560v3h1v-3zM531 566v3h1v-3zM531 572v3h1v-3z" fill="#6CA6DC"/>
<path d="M579 496v1h1v-1zM579 500v3h1v-3zM579 506v3h1v-3zM579 512v3h1v-3zM579 518v3h1v-3zM579 524v3h1v-3zM579 530v3h1v-3zM579 536v3h1v-3zM579 542v3h1v-3zM579 548v3h1v-3zM579 554v3h1v-3zM579 560v3h1v-3zM579 566v3h1v-3zM579 572v3h1v-3z" fill="#6CA6DC"/>
<path d="M627 496v1h1v-1zM627 500v3h1v-3zM627 506v3h1v-3zM627 512v3h1v-3zM627 518v3h1v-3zM627 524v3h1v-3zM627 530v3h1v-3zM627 536v3h1v-3zM627 542v3h1v-3zM627 548v3h1v-3zM627 554v3h1v-3zM627 560v3h1v-3zM627 566v3h1v-3zM627 572v3h1v-3z" fill="#6CA6DC"/>
<path d="M675 496v1h1v-1zM675 500v3h1v-3zM675 506v3h1v-3zM675 512v3h1v-3zM675 518v3h1v-3zM675 524v3h1v-3zM675 530v3h1v-3zM675 536v3h1v-3zM675 542v3h1v-3zM675 548v3h1v-3zM675 554v3h1v-3zM675 560v3h1v-3zM675 566v3h1v-3zM675 572v3h1v-3z" fill="#6CA6DC"/>
<path d="M723 496v1h1v-1zM723 500v3h1v-3zM723 506v3h1v-3zM723 512v3h1v-3zM723 518v3h1v-3zM723 524v3h1v-3zM723 530v3h1v-3zM723 536v3h1v-3zM723 542v3h1v-3zM723 548v3h1v-3zM723 554v3h1v-3zM723 560v3h1v-3zM723 566v3h1v-3zM723 572v3h1v-3z" fill="#6CA6DC"/>
<path d="M771 496v1h1v-1zM771 500v3h1v-3zM771 506v3h1v-3zM771 512v3h1v-3zM771 518v3h1v-3zM771 524v3h1v-3zM771 530v3h1v-3zM771 536v3h1v-3zM771 542v3h1v-3zM771 548v3h1v-3zM771 554v3h1v-3zM771 560v3h1v-3zM771 566v3h1v-3zM771 572v3h1v-3z" fill="#6CA6DC"/>
<path d="M819 496v1h1v-1zM819 500v3h1v-3zM819 506v3h1v-3zM819 512v3h1v-3zM819 518v3h1v-3zM819 524v3h1v-3zM819 530v3h1v-3zM819 536v3h1v-3zM819 542v3h1v-3zM819 548v3h1v-3zM819 554v3h1v-3zM819 560v3h1v-3zM819 566v3h1v-3zM819 572v3h1v-3z" fill="#6CA6DC"/>
<path d="M867 496v1h1v-1zM867 500v3h1v-3zM867 506v3h1v-3zM867 512v3h1v-3zM867 518v3h1v-3zM867 524v3h1v-3zM867 530v3h1v-3zM867 536v3h1v-3zM867 542v3h1v-3zM867 548v3h1v-3zM867 554v3h1v-3zM867 560v3h1v-3zM867 566v3h1v-3zM867 572v3h1v-3z" fill="#6CA6DC"/>
<path d="M915 496v1h1v-1zM915 500v3h1v-3zM915 506v3h1v-3zM915 512v3h1v-3zM915 518v3h1v-3zM915 524v3h1v-3zM915 530v3h1v-3zM915 536v3h1v-3zM915 542v3h1v-3zM915 548v3h1v-3zM915 554v3h1v-3zM915 560v3h1v-3zM915 566v3h1v-3zM915 572v3h1v-3z" fill="#6CA6DC"/>
</g>
<path d="M4 47h3v1h-3zM10 47h3v1h-3zM16 47h3v1h-3zM22 47h3v1h-3zM28 47h3v1h-3zM34 47h3v1h-3zM40 47h3v1h-3zM46 47h3v1h-3zM52 47h3v1h-3zM58 47h3v1h-3zM64 47h3v1h-3zM70 47h3v1h-3zM76 47h3v1h-3zM82 47h3v1h-3zM88 47h3v1h-3zM94 47h3v1h-3zM100 47h3v1h-3zM106 47h3v1h-3zM112 47h3v1h-3zM118 47h3v1h-3zM124 47h3v1h-3zM130 47h3v1h-3zM136 47h3v1h-3zM142 47h3v1h-3zM148 47h3v1h-3zM154 47h3v1h-3zM160 47h3v1h-3zM166 47h3v1h-3zM172 47h3v1h-3zM178 47h3v1h-3zM184 47h3v1h-3zM190 47h3v1h-3zM196 47h3v1h-3zM202 47h3v1h-3zM208 47h3v1h-3zM214 47h3v1h-3zM220 47h3v1h-3zM226 47h3v1h-3zM232 47h3v1h-3zM238 47h3v1h-3zM244 47h3v1h-3zM250 47h3v1h-3zM256 47h3v1h-3zM262 47h3v1h-3zM268 47h3v1h-3zM274 47h3v1h-3zM280 47h3v1h-3zM286 47h3v1h-3zM292 47h3v1h-3zM298 47h3v1h-3zM304 47h3v1h-3zM310 47h3v1h-3zM316 47h3v1h-3zM322 47h3v1h-3zM328 47h3v1h-3zM334 47h3v1h-3zM340 47h3v1h-3zM346 47h3v1h-3zM352 47h3v1h-3zM358 47h3v1h-3zM364 47h3v1h-3zM370 47h3v1h-3zM376 47h3v1h-3zM382 47h3v1h-3zM388 47h3v1h-3zM394 47h3v1h-3zM400 47h3v1h-3zM406 47h3v1h-3zM412 47h3v1h-3zM418 47h3v1h-3zM424 47h3v1h-3zM430 47h3v1h-3zM436 47h3v1h-3zM442 47h3v1h-3zM448 47h3v1h-3zM454 47h3v1h-3zM460 47h3v1h-3zM466 47h3v1h-3zM472 47h3v1h-3zM478 47h3v1h-3zM484 47h3v1h-3zM490 47h3v1h-3zM496 47h3v1h-3zM502 47h3v1h-3zM508 47h3v1h-3zM514 47h3v1h-3zM520 47h3v1h-3zM526 47h3v1h-3zM532 47h3v1h-3zM538 47h3v1h-3zM544 47h3v1h-3zM550 47h3v1h-3zM556 47h3v1h-3zM562 47h3v1h-3zM568 47h3v1h-3zM574 47h3v1h-3zM580 47h3v1h-3zM586 47h3v1h-3zM592 47h3v1h-3zM598 47h3v1h-3zM604 47h3v1h-3zM610 47h3v1h-3zM616 47h3v1h-3zM622 47h3v1h-3zM628 47h3v1h-3zM634 47h3v1h-3zM640 47h3v1h-3zM646 47h3v1h-3zM652 47h3v1h-3zM658 47h3v1h-3zM664 47h3v1h-3zM670 47h3v1h-3zM676 47h3v1h-3zM682 47h3v1h-3zM688 47h3v1h-3zM694 47h3v1h-3zM700 47h3v1h-3zM706 47h3v1h-3zM712 47h3v1h-3zM718 47h3v1h-3zM724 47h3v1h-3zM730 47h3v1h-3zM736 47h3v1h-3zM742 47h3v1h-3zM748 47h3v1h-3zM754 47h3v1h-3zM760 47h3v1h-3zM766 47h3v1h-3zM772 47h3v1h-3zM778 47h3v1h-3zM784 47h3v1h-3zM790 47h3v1h-3zM796 47h3v1h-3zM802 47h3v1h-3zM808 47h3v1h-3zM814 47h3v1h-3zM820 47h3v1h-3zM826 47h3v1h-3zM832 47h3v1h-3zM838 47h3v1h-3zM844 47h3v1h-3zM850 47h3v1h-3zM856 47h3v1h-3zM862 47h3v1h-3zM868 47h3v1h-3zM874 47h3v1h-3zM880 47h3v1h-3zM886 47h3v1h-3zM892 47h3v1h-3zM898 47h3v1h-3zM904 47h3v1h-3zM910 47h3v1h-3zM916 47h3v1h-3zM922 47h3v1h-3zM928 47h3v1h-3zM934 47h2v1h-2z" fill="#708090"/>
<path d="M4 96h3v1h-3zM10 96h3v1h-3zM16 96h3v1h-3zM22 96h3v1h-3zM28 96h3v1h-3zM34 96h3v1h-3zM40 96h3v1h-3zM46 96h3v1h-3zM52 96h3v1h-3zM58 96h3v1h-3zM64 96h3v1h-3zM70 96h3v1h-3zM76 96h3v1h-3zM82 96h3v1h-3zM88 96h3v1h-3zM94 96h3v1h-3zM100 96h3v1h-3zM106 96h3v1h-3zM112 96h3v1h-3zM118 96h3v1h-3zM124 96h3v1h-3zM130 96h3v1h-3zM136 96h3v1h-3zM142 96h3v1h-3zM148 96h3v1h-3zM154 96h3v1h-3zM160 96h3v1h-3zM166 96h3v1h-3zM172 96h3v1h-3zM178 96h3v1h-3zM184 96h3v1h-3zM190 96h3v1h-3zM196 96h3v1h-3zM202 96h3v1h-3zM208 96h3v1h-3zM214 96h3v1h-3zM220 96h3v1h-3zM226 96h3v1h-3zM232 96h3v1h-3zM238 96h3v1h-3zM244 96h3v1h-3zM250 96h3v1h-3zM256 96h3v1h-3zM262 96h3v1h-3zM268 96h3v1h-3zM274 96h3v1h-3zM280 96h3v1h-3zM286 96h3v1h-3zM292 96h3v1h-3zM298 96h3v1h-3zM304 96h3v1h-3zM310 96h3v1h-3zM316 96h3v1h-3zM322 96h3v1h-3zM328 96h3v1h-3zM334 96h3v1h-3zM340 96h3v1h-3zM346 96h3v1h-3zM352 96h3v1h-3zM358 96h3v1h-3zM364 96h3v1h-3zM370 96h3v1h-3zM376 96h3v1h-3zM382 96h3v1h-3zM388 96h3v1h-3zM394 96h3v1h-3zM400 96h3v1h-3zM406 96h3v1h-3zM412 96h3v1h-3zM418 96h3v1h-3zM424 96h3v1h-3zM430 96h3v1h-3zM436 96h3v1h-3zM442 96h3v1h-3zM448 96h3v1h-3zM454 96h3v1h-3zM460 96h3v1h-3zM466 96h3v1h-3zM472 96h3v1h-3zM478 96h3v1h-3zM484 96h3v1h-3zM490 96h3v1h-3zM496 96h3v1h-3zM502 96h3v1h-3zM508 96h3v1h-3zM514 96h3v1h-3zM520 96h3v1h-3zM526 96h3v1h-3zM532 96h3v1h-3zM538 96h3v1h-3zM544 96h3v1h-3zM550 96h3v1h-3zM556 96h3v1h-3zM562 96h3v1h-3zM568 96h3v1h-3zM574 96h3v1h-3zM580 96h3v1h-3zM586 96h3v1h-3zM592 96h3v1h-3zM598 96h3v1h-3zM604 96h3v1h-3zM610 96h3v1h-3zM616 96h3v1h-3zM622 96h3v1h-3zM628 96h3v1h-3zM634 96h3v1h-3zM640 96h3v1h-3zM646 96h3v1h-3zM652 96h3v1h-3zM658 96h3v1h-3zM664 96h3v1h-3zM670 96h3v1h-3zM676 96h3v1h-3zM682 96h3v1h-3zM688 96h3v1h-3zM694 96h3v1h-3zM700 96h3v1h-3zM706 96h3v1h-3zM712 96h3v1h-3zM718 96h3v1h-3zM724 96h3v1h-3zM730 96h3v1h-3zM736 96h3v1h-3zM742 96h3v1h-3zM748 96h3v1h-3zM754 96h3v1h-3zM760 96h3v1h-3zM766 96h3v1h-3zM772 96h3v1h-3zM778 96h3v1h-3zM784 96h3v1h-3zM790 96h3v1h-3zM796 96h3v1h-3zM802 96h3v1h-3zM808 96h3v1h-3zM814 96h3v1h-3zM820 96h3v1h-3zM826 96h3v1h-3zM832 96h3v1h-3zM838 96h3v1h-3zM844 96h3v1h-3zM850 96h3v1h-3zM856 96h3v1h-3zM862 96h3v1h-3zM868 96h3v1h-3zM874 96h3v1h-3zM880 96h3v1h-3zM886 96h3v1h-3zM892 96h3v1h-3zM898 96h3v1h-3zM904 96h3v1h-3zM910 96h3v1h-3zM916 96h3v1h-3zM922 96h3v1h-3zM928 96h3v1h-3zM934 96h2v1h-2z" fill="#708090"/>
<path d="M4 145h3v1h-3zM10 145h3v1h-3zM16 145h3v1h-3zM22 145h3v1h-3zM28 145h3v1h-3zM34 145h3v1h-3zM40 145h3v1h-3zM46 145h3v1h-3zM52 145h3v1h-3zM58 145h3v1h-3zM64 145h3v1h-3zM70 145h3v1h-3zM76 145h3v1h-3zM82 145h3v1h-3zM88 145h3v1h-3zM94 145h3v1h-3zM100 145h3v1h-3zM106 145h3v1h-3zM112 145h3v1h-3zM118 145h3v1h-3zM124 145h3v1h-3zM130 145h3v1h-3zM136 145h3v1h-3zM142 145h3v1h-3zM148 145h3v1h-3zM154 145h3v1h-3zM160 145h3v1h-3zM166 145h3v1h-3zM172 145h3v1h-3zM178 145h3v1h-3zM184 145h3v1h-3zM190 145h3v1h-3zM196 145h3v1h-3zM202 145h3v1h-3zM208 145h3v1h-3zM214 145h3v1h-3zM220 145h3v1h-3zM226 145h3v1h-3zM232 145h3v1h-3zM238 145h3v1h-3zM244 145h3v1h-3zM250 145h3v1h-3zM256 145h3v1h-3zM262 145h3v1h-3zM268 145h3v1h-3zM274 145h3v1h-3zM280 145h3v1h-3zM286 145h3v1h-3zM292 145h3v1h-3zM298 145h3v1h-3zM304 145h3v1h-3zM310 145h3v1h-3zM316 145h3v1h-3zM322 145h3v1h-3zM328 145h3v1h-3zM334 145h3v1h-3zM340 145h3v1h-3zM346 145h3v1h-3zM352 145h3v1h-3zM358 145h3v1h-3zM364 145h3v1h-3zM370 145h3v1h-3zM376 145h3v1h-3zM382 145h3v1h-3zM388 145h3v1h-3zM394 145h3v1h-3zM400 145h3v1h-3zM406 145h3v1h-3zM412 145h3v1h-3zM418 145h3v1h-3zM424 145h3v1h-3zM430 145h3v1h-3zM436 145h3v1h-3zM442 145h3v1h-3zM448 145h3v1h-3zM454 145h3v1h-3zM460 145h3v1h-3zM466 145h3v1h-3zM472 145h3v1h-3zM478 145h3v1h-3zM484 145h3v1h-3zM490 145h3v1h-3zM496 145h3v1h-3zM502 145h3v1h-3zM508 145h3v1h-3zM514 145h3v1h-3zM520 145h3v1h-3zM526 145h3v1h-3zM532 145h3v1h-3zM538 145h3v1h-3zM544 145h3v1h-3zM550 145h3v1h-3zM556 145h3v1h-3zM562 145h3v1h-3zM568 145h3v1h-3zM574 145h3v1h-3zM580 145h3v1h-3zM586 145h3v1h-3zM592 145h3v1h-3zM598 145h3v1h-3zM604 145h3v1h-3zM610 145h3v1h-3zM616 145h3v1h-3zM622 145h3v1h-3zM628 145h3v1h-3zM634 145h3v1h-3zM640 145h3v1h-3zM646 145h3v1h-3zM652 145h3v1h-3zM658 145h3v1h-3zM664 145h3v1h-3zM670 145h3v1h-3zM676 145h3v1h-3zM682 145h3v1h-3zM688 145h3v1h-3zM694 145h3v1h-3zM700 145h3v1h-3zM706 145h3v1h-3zM712 145h3v1h-3zM718 145h3v1h-3zM724 145h3v1h-3zM730 145h3v1h-3zM736 145h3v1h-3zM742 145h3v1h-3zM748 145h3v1h-3zM754 145h3v1h-3zM760 145h3v1h-3zM766 145h3v1h-3zM772 145h3v1h-3zM778 145h3v1h-3zM784 145h3v1h-3zM790 145h3v1h-3zM796 145h3v1h-3zM802 145h3v1h-3zM808 145h3v1h-3zM814 145h3v1h-3zM820 145h3v1h-3zM826 145h3v1h-3zM832 145h3v1h-3zM838 145h3v1h-3zM844 145h3v1h-3zM850 145h3v1h-3zM856 145h3v1h-3zM862 145h3v1h-3zM868 145h3v1h-3zM874 145h3v1h-3zM880 145h3v1h-3zM886 145h3v1h-3zM892 145h3v1h-3zM898 145h3v1h-3zM904 145h3v1h-3zM910 145h3v1h-3zM916 145h3v1h-3zM922 145h3v1h-3zM928 145h3v1h-3zM934 145h2v1h-2z" fill="#708090"/>
<path d="M4 194h3v1h-3zM10 194h3v1h-3zM16 194h3v1h-3zM22 194h3v1h-3zM28 194h3v1h-3zM34 194h3v1h-3zM40 194h3v1h-3zM46 194h3v1h-3zM52 194h3v1h-3zM58 194h3v1h-3zM64 194h3v1h-3zM70 194h3v1h-3zM76 194h3v1h-3zM82 194h3v1h-3zM88 194h3v1h-3zM94 194h3v1h-3zM100 194h3v1h-3zM106 194h3v1h-3zM112 194h3v1h-3zM118 194h3v1h-3zM124 194h3v1h-3zM130 194h3v1h-3zM136 194h3v1h-3zM142 194h3v1h-3zM148 194h3v1h-3zM154 194h3v1h-3zM160 194h3v1h-3zM166 194h3v1h-3zM172 194h3v1h-3zM178 194h3v1h-3zM184 194h3v1h-3zM190 194h3v1h-3zM196 194h3v1h-3zM202 194h3v1h-3zM208 194h3v1h-3zM214 194h3v1h-3zM220 194h3v1h-3zM226 194h3v1h-3zM232 194h3v1h-3zM238 194h3v1h-3zM244 194h3v1h-3zM250 194h3v1h-3zM256 194h3v1h-3zM262 194h3v1h-3zM268 194h3v1h-3zM274 194h3v1h-3zM280 194h3v1h-3zM286 194h3v1h-3zM292 194h3v1h-3zM298 194h3v1h-3zM304 194h3v1h-3zM310 194h3v1h-3zM316 194h3v1h-3zM322 194h3v1h-3zM328 194h3v1h-3zM334 194h3v1h-3zM340 194h3v1h-3zM346 194h3v1h-3zM352 194h3v1h-3zM358 194h3v1h-3zM364 194h3v1h-3zM370 194h3v1h-3zM376 194h3v1h-3zM382 194h3v1h-3zM388 194h3v1h-3zM394 194h3v1h-3zM400 194h3v1h-3zM406 194h3v1h-3zM412 194h3v1h-3zM418 194h3v1h-3zM424 194h3v1h-3zM430 194h3v1h-3zM436 194h3v1h-3zM442 194h3v1h-3zM448 194h3v1h-3zM454 194h3v1h-3zM460 194h3v1h-3zM466 194h3v1h-3zM472 194h3v1h-3zM478 194h3v1h-3zM484 194h3v1h-3zM490 194h3v1h-3zM496 194h3v1h-3zM502 194h3v1h-3zM508 194h3v1h-3zM514 194h3v1h-3zM520 194h3v1h-3zM526 194h3v1h-3zM532 194h3v1h-3zM538 194h3v1h-3zM544 194h3v1h-3zM550 194h3v1h-3zM556 194h3v1h-3zM562 194h3v1h-3zM568 194h3v1h-3zM574 194h3v1h-3zM580 194h3v1h-3zM586 194h3v1h-3zM592 194h3v1h-3zM598 194h3v1h-3zM604 194h3v1h-3zM610 194h3v1h-3zM616 194h3v1h-3zM622 194h3v1h-3zM628 194h3v1h-3zM634 194h3v1h-3zM640 194h3v1h-3zM646 194h3v1h-3zM652 194h3v1h-3zM658 194h3v1h-3zM664 194h3v1h-3zM670 194h3v1h-3zM676 194h3v1h-3zM682 194h3v1h-3zM688 194h3v1h-3zM694 194h3v1h-3zM700 194h3v1h-3zM706 194h3v1h-3zM712 194h3v1h-3zM718 194h3v1h-3zM724 194h3v1h-3zM730 194h3v1h-3zM736 194h3v1h-3zM742 194h3v1h-3zM748 194h3v1h-3zM754 194h3v1h-3zM760 194h3v1h-3zM766 194h3v1h-3zM772 194h3v1h-3zM778 194h3v1h-3zM784 194h3v1h-3zM790 194h3v1h-3zM796 194h3v1h-3zM802 194h3v1h-3zM808 194h3v1h-3zM814 194h3v1h-3zM820 194h3v1h-3zM826 194h3v1h-3zM832 194h3v1h-3zM838 194h3v1h-3zM844 194h3v1h-3zM850 194h3v1h-3zM856 194h3v1h-3zM862 194h3v1h-3zM868 194h3v1h-3zM874 194h3v1h-3zM880 194h3v1h-3zM886 194h3v1h-3zM892 194h3v1h-3zM898 194h3v1h-3zM904 194h3v1h-3zM910 194h3v1h-3zM916 194h3v1h-3zM922 194h3v1h-3zM928 194h3v1h-3zM934 194h2v1h-2z" fill="#708090"/>
<path d="M4 243h3v1h-3zM10 243h3v1h-3zM16 243h3v1h-3zM22 243h3v1h-3zM28 243h3v1h-3zM34 243h3v1h-3zM40 243h3v1h-3zM46 243h3v1h-3zM52 243h3v1h-3zM58 243h3v1h-3zM64 243h3v1h-3zM70 243h3v1h-3zM76 243h3v1h-3zM82 243h3v1h-3zM88 243h3v1h-3zM94 243h3v1h-3zM100 243h3v1h-3zM106 243h3v1h-3zM112 243h3v1h-3zM118 243h3v1h-3zM124 243h3v1h-3zM130 243h3v1h-3zM136 243h3v1h-3zM142 243h3v1h-3zM148 243h3v1h-3zM154 243h3v1h-3zM160 243h3v1h-3zM166 243h3v1h-3zM172 243h3v1h-3zM178 243h3v1h-3zM184 243h3v1h-3zM190 243h3v1h-3zM196 243h3v1h-3zM202 243h3v1h-3zM208 243h3v1h-3zM214 243h3v1h-3zM220 243h3v1h-3zM226 243h3v1h-3zM232 243h3v1h-3zM238 243h3v1h-3zM244 243h3v1h-3zM250 243h3v1h-3zM256 243h3v1h-3zM262 243h3v1h-3zM268 243h3v1h-3zM274 243h3v1h-3zM280 243h3v1h-3zM286 243h3v1h-3zM292 243h3v1h-3zM298 243h3v1h-3zM304 243h3v1h-3zM310 243h3v1h-3zM316 243h3v1h-3zM322 243h3v1h-3zM328 243h3v1h-3zM334 243h3v1h-3zM340 243h3v1h-3zM346 243h3v1h-3zM352 243h3v1h-3zM358 243h3v1h-3zM364 243h3v1h-3zM370 243h3v1h-3zM376 243h3v1h-3zM382 243h3v1h-3zM388 243h3v1h-3zM394 243h3v1h-3zM400 243h3v1h-3zM406 243h3v1h-3zM412 243h3v1h-3zM418 243h3v1h-3zM424 243h3v1h-3zM430 243h3v1h-3zM436 243h3v1h-3zM442 243h3v1h-3zM448 243h3v1h-3zM454 243h3v1h-3zM460 243h3v1h-3zM466 243h3v1h-3zM472 243h3v1h-3zM478 243h3v1h-3zM484 243h3v1h-3zM490 243h3v1h-3zM496 243h3v1h-3zM502 243h3v1h-3zM508 243h3v1h-3zM514 243h3v1h-3zM520 243h3v1h-3zM526 243h3v1h-3zM532 243h3v1h-3zM538 243h3v1h-3zM544 243h3v1h-3zM550 243h3v1h-3zM556 243h3v1h-3zM562 243h3v1h-3zM568 243h3v1h-3zM574 243h3v1h-3zM580 243h3v1h-3zM586 243h3v1h-3zM592 243h3v1h-3zM598 243h3v1h-3zM604 243h3v1h-3zM610 243h3v1h-3zM616 243h3v1h-3zM622 243h3v1h-3zM628 243h3v1h-3zM634 243h3v1h-3zM640 243h3v1h-3zM646 243h3v1h-3zM652 243h3v1h-3zM658 243h3v1h-3zM664 243h3v1h-3zM670 243h3v1h-3zM676 243h3v1h-3zM682 243h3v1h-3zM688 243h3v1h-3zM694 243h3v1h-3zM700 243h3v1h-3zM706 243h3v1h-3zM712 243h3v1h-3zM718 243h3v1h-3zM724 243h3v1h-3zM730 243h3v1h-3zM736 243h3v1h-3zM742 243h3v1h-3zM748 243h3v1h-3zM754 243h3v1h-3zM760 243h3v1h-3zM766 243h3v1h-3zM772 243h3v1h-3zM778 243h3v1h-3zM784 243h3v1h-3zM790 243h3v1h-3zM796 243h3v1h-3zM802 243h3v1h-3zM808 243h3v1h-3zM814 243h3v1h-3zM820 243h3v1h-3zM826 243h3v1h-3zM832 243h3v1h-3zM838 243h3v1h-3zM844 243h3v1h-3zM850 243h3v1h-3zM856 243h3v1h-3zM862 243h3v1h-3zM868 243h3v1h-3zM874 243h3v1h-3zM880 243h3v1h-3zM886 243h3v1h-3zM892 243h3v1h-3zM898 243h3v1h-3zM904 243h3v1h-3zM910 243h3v1h-3zM916 243h3v1h-3zM922 243h3v1h-3zM928 243h3v1h-3zM934 243h2v1h-2z" fill="#708090"/>
<path d="M4 292h3v1h-3zM10 292h3v1h-3zM16 292h3v1h-3zM22 292h3v1h-3zM28 292h3v1h-3zM34 292h3v1h-3zM40 292h3v1h-3zM46 292h3v1h-3zM52 292h3v1h-3zM58 292h3v1h-3zM64 292h3v1h-3zM70 292h3v1h-3zM76 292h3v1h-3zM82 292h3v1h-3zM88 292h3v1h-3zM94 292h3v1h-3zM100 292h3v1h-3zM106 292h3v1h-3zM112 292h3v1h-3zM118 292h3v1h-3zM124 292h3v1h-3zM130 292h3v1h-3zM136 292h3v1h-3zM142 292h3v1h-3zM148 292h3v1h-3zM154 292h3v1h-3zM160 292h3v1h-3zM166 292h3v1h-3zM172 292h3v1h-3zM178 292h3v1h-3zM184 292h3v1h-3zM190 292h3v1h-3zM196 292h3v1h-3zM202 292h3v1h-3zM208 292h3v1h-3zM214 292h3v1h-3zM220 292h3v1h-3zM226 292h3v1h-3zM232 292h3v1h-3zM238 292h3v1h-3zM244 292h3v1h-3zM250 292h3v1h-3zM256 292h3v1h-3zM262 292h3v1h-3zM268 292h3v1h-3zM274 292h3v1h-3zM280 292h3v1h-3zM286 292h3v1h-3zM292 292h3v1h-3zM298 292h3v1h-3zM304 292h3v1h-3zM310 292h3v1h-3zM316 292h3v1h-3zM322 292h3v1h-3zM328 292h3v1h-3zM334 292h3v1h-3zM340 292h3v1h-3zM346 292h3v1h-3zM352 292h3v1h-3zM358 292h3v1h-3zM364 292h3v1h-3zM370 292h3v1h-3zM376 292h3v1h-3zM382 292h3v1h-3zM388 292h3v1h-3zM394 292h3v1h-3zM400 292h3v1h-3zM406 292h3v1h-3zM412 292h3v1h-3zM418 292h3v1h-3zM424 292h3v1h-3zM430 292h3v1h-3zM436 292h3v1h-3zM442 292h3v1h-3zM448 292h3v1h-3zM454 292h3v1h-3zM460 292h3v1h-3zM466 292h3v1h-3zM472 292h3v1h-3zM478 292h3v1h-3zM484 292h3v1h-3zM490 292h3v1h-3zM496 292h3v1h-3zM502 292h3v1h-3zM508 292h3v1h-3zM514 292h3v1h-3zM520 292h3v1h-3zM526 292h3v1h-3zM532 292h3v1h-3zM538 292h3v1h-3zM544 292h3v1h-3zM550 292h3v1h-3zM556 292h3v1h-3zM562 292h3v1h-3zM568 292h3v1h-3zM574 292h3v1h-3zM580 292h3v1h-3zM586 292h3v1h-3zM592 292h3v1h-3zM598 292h3v1h-3zM604 292h3v1h-3zM610 292h3v1h-3zM616 292h3v1h-3zM622 292h3v1h-3zM628 292h3v1h-3zM634 292h3v1h-3zM640 292h3v1h-3zM646 292h3v1h-3zM652 292h3v1h-3zM658 292h3v1h-3zM664 292h3v1h-3zM670 292h3v1h-3zM676 292h3v1h-3zM682 292h3v1h-3zM688 292h3v1h-3zM694 292h3v1h-3zM700 292h3v1h-3zM706 292h3v1h-3zM712 292h3v1h-3zM718 292h3v1h-3zM724 292h3v1h-3zM730 292h3v1h-3zM736 292h3v1h-3zM742 292h3v1h-3zM748 292h3v1h-3zM754 292h3v1h-3zM760 292h3v1h-3zM766 292h3v1h-3zM772 292h3v1h-3zM778 292h3v1h-3zM784 292h3v1h-3zM790 292h3v1h-3zM796 292h3v1h-3zM802 292h3v1h-3zM808 292h3v1h-3zM814 292h3v1h-3zM820 292h3v1h-3zM826 292h3v1h-3zM832 292h3v1h-3zM838 292h3v1h-3zM844 292h3v1h-3zM850 292h3v1h-3zM856 292h3v1h-3zM862 292h3v1h-3zM868 292h3v1h-3zM874 292h3v1h-3zM880 292h3v1h-3zM886 292h3v1h-3zM892 292h3v1h-3zM898 292h3v1h-3zM904 292h3v1h-3zM910 292h3v1h-3zM916 292h3v1h-3zM922 292h3v1h-3zM928 292h3v1h-3zM934 292h2v1h-2z" fill="#708090"/>
<rect x="3" y="245" width="933" height="1" fill="#778899"/>
<rect x="3" y="111" width="1" height="1" fill="#B5651D"/>
<rect x="3" y="82" width="1" height="11" fill="#000"/>
<rect x="3" y="88" width="6" height="2" fill="#000"/>
<rect x="19" y="60" width="1" height="30" fill="#000"/>
<rect x="14" y="68" width="11" height="20" fill="#000"/>
<rect x="15" y="69" width="9" height="18" fill="#fff"/>
<rect x="35" y="39" width="1" height="31" fill="#000"/>
<rect x="30" y="50" width="11" height="18" fill="#000"/>
<rect x="31" y="51" width="9" height="16" fill="#fff"/>
<rect x="51" y="18" width="1" height="43" fill="#000"/>
<rect x="46" y="51" width="11" height="8" fill="#000"/>
<rect x="67" y="43" width="1" height="52" fill="#000"/>
<rect x="62" y="58" width="11" height="30" fill="#000"/>
<rect x="83" y="84" width="1" height="38" fill="#000"/>
<rect x="78" y="87" width="11" height="33" fill="#000"/>
<rect x="99" y="119" width="1" height="6" fill="#000"/>
<rect x="94" y="121" width="11" height="3" fill="#000"/>
<rect x="115" y="101" width="1" height="25" fill="#000"/>
<rect x="110" y="104" width="11" height="19" fill="#000"/>
<rect x="111" y="105" width="9" height="17" fill="#fff"/>
<rect x="131" y="93" width="1" height="20" fill="#000"/>
<rect x="126" y="101" width="11" height="4" fill="#000"/>
<rect x="127" y="102" width="9" height="2" fill="#fff"/>
<rect x="147" y="97" width="1" height="40" fill="#000"/>
<rect x="142" y="100" width="11" height="31" fill="#000"/>
<rect x="163" y="121" width="1" height="57" fill="#000"/>
<rect x="158" y="132" width="11" height="43" fill="#000"/>
<rect x="179" y="142" width="1" height="35" fill="#000"/>
<rect x="174" y="144" width="11" height="30" fill="#000"/>
<rect x="175" y="145" width="9" height="28" fill="#fff"/>
<rect x="195" y="146" width="1" height="8" fill="#000"/>
<rect x="190" y="148" width="11" height="5" fill="#000"/>
<rect x="191" y="149" width="9" height="3" fill="#fff"/>
<rect x="211" y="125" width="1" height="26" fill="#000"/>
<rect x="206" y="140" width="11" height="10" fill="#000"/>
<rect x="207" y="141" width="9" height="8" fill="#fff"/>
<rect x="227" y="121" width="1" height="22" fill="#000"/>
<rect x="222" y="131" width="11" height="9" fill="#000"/>
<rect x="223" y="132" width="9" height="7" fill="#fff"/>
<rect x="243" y="97" width="1" height="38" fill="#000"/>
<rect x="238" y="118" width="11" height="14" fill="#000"/>
<rect x="239" y="119" width="9" height="12" fill="#fff"/>
<rect x="259" y="104" width="1" height="44" fill="#000"/>
<rect x="254" y="116" width="11" height="18" fill="#000"/>
<rect x="275" y="114" width="1" height="21" fill="#000"/>
<rect x="270" y="114" width="11" height="21" fill="#000"/>
<rect x="271" y="115" width="9" height="19" fill="#fff"/>
<rect x="291" y="128" width="1" height="7" fill="#000"/>
<rect x="286" y="132" width="11" height="3" fill="#000"/>
<rect x="287" y="133" width="9" height="1" fill="#fff"/>
<rect x="307" y="113" width="1" height="29" fill="#000"/>
<rect x="302" y="116" width="11" height="17" fill="#000"/>
<rect x="303" y="117" width="9" height="15" fill="#fff"/>
<rect x="323" y="115" width="1" height="37" fill="#000"/>
<rect x="318" y="117" width="11" height="21" fill="#000"/>
<rect x="339" y="132" width="1" height="26" fill="#000"/>
<rect x="334" y="137" width="11" height="11" fill="#000"/>
<rect x="355" y="140" width="1" height="57" fill="#000"/>
<rect x="350" y="147" width="11" height="41" fill="#000"/>
<rect x="371" y="160" width="1" height="44" fill="#000"/>
<rect x="366" y="167" width="11" height="20" fill="#000"/>
<rect x="367" y="168" width="9" height="18" fill="#fff"/>
<rect x="387" y="170" width="1" height="8" fill="#000"/>
<rect x="382" y="171" width="11" height="3" fill="#000"/>
<rect x="403" y="161" width="1" height="21" fill="#000"/>
<rect x="398" y="173" width="11" height="1" fill="#000"/>
<rect x="419" y="166" width="1" height="42" fill="#000"/>
<rect x="414" y="176" width="11" height="5" fill="#000"/>
<rect x="435" y="146" width="1" height="36" fill="#000"/>
<rect x="430" y="150" width="11" height="32" fill="#000"/>
<rect x="431" y="151" width="9" height="30" fill="#fff"/>
<rect x="451" y="126" width="1" height="25" fill="#000"/>
<rect x="446" y="136" width="11" height="15" fill="#000"/>
<rect x="447" y="137" width="9" height="13" fill="#fff"/>
<rect x="467" y="119" width="1" height="33" fill="#000"/>
<rect x="462" y="132" width="11" height="5" fill="#000"/>
<rect x="463" y="133" width="9" height="3" fill="#fff"/>
<rect x="483" y="137" width="1" height="6" fill="#000"/>
<rect x="478" y="138" width="11" height="3" fill="#000"/>
<rect x="499" y="132" width="1" height="17" fill="#000"/>
<rect x="494" y="139" width="11" height="6" fill="#000"/>
<rect x="515" y="141" width="1" height="23" fill="#000"/>
<rect x="510" y="146" width="11" height="15" fill="#000"/>
<rect x="531" y="153" width="1" height="33" fill="#000"/>
<rect x="526" y="160" width="11" height="7" fill="#000"/>
<rect x="547" y="164" width="1" height="21" fill="#000"/>
<rect x="542" y="166" width="11" height="13" fill="#000"/>
<rect x="563" y="162" width="1" height="31" fill="#000"/>
<rect x="558" y="178" width="11" height="6" fill="#000"/>
<rect x="579" y="177" width="1" height="4" fill="#000"/>
<rect x="574" y="178" width="11" height="2" fill="#000"/>
<rect x="595" y="166" width="1" height="18" fill="#000"/>
<rect x="590" y="172" width="11" height="7" fill="#000"/>
<rect x="591" y="173" width="9" height="5" fill="#fff"/>
<rect x="611" y="160" width="1" height="48" fill="#000"/>
<rect x="606" y="172" width="11" height="28" fill="#000"/>
<rect x="627" y="195" width="1" height="58" fill="#000"/>
<rect x="622" y="199" width="11" height="32" fill="#000"/>
<rect x="643" y="220" width="1" height="42" fill="#000"/>
<rect x="638" y="230" width="11" height="17" fill="#000"/>
<rect x="659" y="241" width="1" height="28" fill="#000"/>
<rect x="654" y="246" width="11" height="5" fill="#000"/>
<rect x="675" y="252" width="1" height="6" fill="#000"/>
<rect x="670" y="252" width="11" height="6" fill="#000"/>
<rect x="671" y="253" width="9" height="4" fill="#fff"/>
<rect x="691" y="242" width="1" height="22" fill="#000"/>
<rect x="686" y="252" width="11" height="2" fill="#000"/>
<rect x="707" y="252" width="1" height="52" fill="#000"/>
<rect x="702" y="253" width="11" height="45" fill="#000"/>
<rect x="723" y="286" width="1" height="18" fill="#000"/>
<rect x="718" y="289" width="11" height="9" fill="#000"/>
<rect x="719" y="290" width="9" height="7" fill="#fff"/>
<rect x="739" y="250" width="1" height="40" fill="#000"/>
<rect x="734" y="255" width="11" height="35" fill="#000"/>
<rect x="735" y="256" width="9" height="33" fill="#fff"/>
<rect x="755" y="237" width="1" height="33" fill="#000"/>
<rect x="750" y="242" width="11" height="14" fill="#000"/>
<rect x="751" y="243" width="9" height="12" fill="#fff"/>
<rect x="771" y="243" width="1" height="11" fill="#000"/>
<rect x="766" y="245" width="11" height="3" fill="#000"/>
<rect x="787" y="231" width="1" height="23" fill="#000"/>
<rect x="782" y="239" width="11" height="9" fill="#000"/>
<rect x="783" y="240" width="9" height="7" fill="#fff"/>
<rect x="803" y="233" width="1" height="29" fill="#000"/>
<rect x="798" y="240" width="11" height="9" fill="#000"/>
<rect x="819" y="245" width="1" height="30" fill="#000"/>
<rect x="814" y="248" width="11" height="9" fill="#000"/>
<rect x="835" y="239" width="1" height="29" fill="#000"/>
<rect x="830" y="245" width="11" height="12" fill="#000"/>
<rect x="831" y="246" width="9" height="10" fill="#fff"/>
<rect x="3" y="99" width="370" height="2" fill="#FF7F50"/>
<rect x="3" y="144" width="577" height="2" fill="#FF7F50"/>
<rect x="3" y="158" width="609" height="2" fill="#FF7F50"/>
<rect x="3" y="174" width="657" height="2" fill="#FF7F50"/>
<rect x="3" y="208" width="913" height="2" fill="#FF7F50"/>
<rect x="3" y="113" width="593" height="2" fill="#9400D3"/>
<rect x="3" y="135" width="625" height="2" fill="#FF0000"/>
<rect x="3" y="263" width="933" height="2" fill="#FF0000"/>
<rect x="3" y="290" width="817" height="2" fill="#FF0000"/>
<g clip-path="url(#mainclip)">
<line x1="51.5" y1="18.5" x2="936" y2="240.5" stroke="#FF7F50" stroke-width="2"/>
<line x1="51.5" y1="18.5" x2="579" y2="214" stroke="#FF7F50" stroke-width="2"/>
<line x1="51.5" y1="18.5" x2="276.5" y2="214.4" stroke="#FF7F50" stroke-width="2"/>
<line x1="3" y1="145.7" x2="564" y2="44.3" stroke="#FF7F50" stroke-width="2"/>
</g>
<rect x="3" y="335" width="2" height="12" fill="#556B2F"/>
<rect x="18" y="334" width="2" height="13" fill="#556B2F"/>
<rect x="34" y="330" width="2" height="17" fill="#556B2F"/>
<rect x="50" y="329" width="2" height="18" fill="#556B2F"/>
<rect x="66" y="335" width="2" height="12" fill="#556B2F"/>
<rect x="82" y="346" width="2" height="3" fill="#556B2F"/>
<rect x="98" y="346" width="2" height="13" fill="#556B2F"/>
<rect x="114" y="346" width="2" height="14" fill="#556B2F"/>
<rect x="130" y="346" width="2" height="14" fill="#556B2F"/>
<rect x="146" y="346" width="2" height="20" fill="#556B2F"/>
<rect x="162" y="346" width="2" height="33" fill="#556B2F"/>
<rect x="178" y="346" width="2" height="33" fill="#556B2F"/>
<rect x="194" y="346" width="2" height="33" fill="#556B2F"/>
<rect x="210" y="346" width="2" height="28" fill="#556B2F"/>
<rect x="226" y="346" width="2" height="22" fill="#556B2F"/>
<rect x="242" y="346" width="2" height="14" fill="#556B2F"/>
<rect x="258" y="346" width="2" height="12" fill="#556B2F"/>
<rect x="274" y="346" width="2" height="5" fill="#556B2F"/>
<rect x="290" y="346" width="2" height="6" fill="#556B2F"/>
<rect x="306" y="346" width="2" height="1" fill="#556B2F"/>
<rect x="322" y="346" width="2" height="3" fill="#556B2F"/>
<rect x="338" y="346" width="2" height="7" fill="#556B2F"/>
<rect x="354" y="346" width="2" height="17" fill="#556B2F"/>
<rect x="370" y="346" width="2" height="18" fill="#556B2F"/>
<rect x="386" y="346" width="2" height="19" fill="#556B2F"/>
<rect x="402" y="346" width="2" height="19" fill="#556B2F"/>
<rect x="418" y="346" width="2" height="19" fill="#556B2F"/>
<rect x="434" y="346" width="2" height="10" fill="#556B2F"/>
<rect x="450" y="346" width="2" height="1" fill="#556B2F"/>
<rect x="466" y="338" width="2" height="9" fill="#556B2F"/>
<rect x="482" y="336" width="2" height="11" fill="#556B2F"/>
<rect x="498" y="335" width="2" height="12" fill="#556B2F"/>
<rect x="514" y="339" width="2" height="8" fill="#556B2F"/>
<rect x="530" y="343" width="2" height="4" fill="#556B2F"/>
<rect x="546" y="346" width="2" height="2" fill="#556B2F"/>
<rect x="562" y="346" width="2" height="6" fill="#556B2F"/>
<rect x="578" y="346" width="2" height="7" fill="#556B2F"/>
<rect x="594" y="346" width="2" height="5" fill="#556B2F"/>
<rect x="610" y="346" width="2" height="10" fill="#556B2F"/>
<rect x="626" y="346" width="2" height="19" fill="#556B2F"/>
<rect x="642" y="346" width="2" height="28" fill="#556B2F"/>
<rect x="658" y="346" width="2" height="32" fill="#556B2F"/>
<rect x="674" y="346" width="2" height="33" fill="#556B2F"/>
<rect x="690" y="346" width="2" height="31" fill="#556B2F"/>
<rect x="706" y="346" width="2" height="38" fill="#556B2F"/>
<rect x="722" y="346" width="2" height="38" fill="#556B2F"/>
<rect x="738" y="346" width="2" height="27" fill="#556B2F"/>
<rect x="754" y="346" width="2" height="15" fill="#556B2F"/>
<rect x="770" y="346" width="2" height="7" fill="#556B2F"/>
<rect x="786" y="344" width="2" height="3" fill="#556B2F"/>
<rect x="802" y="340" width="2" height="7" fill="#556B2F"/>
<rect x="818" y="339" width="2" height="8" fill="#556B2F"/>
<rect x="834" y="335" width="2" height="12" fill="#556B2F"/>
<polyline points="3,335.6 19,333 35,330 51,328 67,327 83,328 99,329 115,330.5 131,332.5 147,334.6 163,338 179,342 195,346 211,349.4 227,352 243,354 259,355.4 275,356.6 291,357 307,357 323,357.4 339,357.6 355,359.4 371,362 387,364 403,366 419,368.4 435,369.6 451,369.6 467,368.6 483,367.4 499,365.6 515,364.4 531,364 547,364.4 563,365 579,365.4 595,366 611,367.4 627,369.4 643,373 659,376.4 675,380 691,384.4 707,389 723,393 739,397.4 755,398.6 771,399.4 787,398.6 803,398 819,397.4 835,396.4" fill="none" stroke="#00BFFF" stroke-width="1" stroke-linejoin="round"/>
<polyline points="3,331 19,325 35,321 51,320 67,322 83,328 99,335 115,337 131,338 147,344 163,355 179,358 195,362 211,363.4 227,363.4 243,361.6 259,361.4 275,358.4 291,358 307,356.6 323,357.4 339,359 355,368 371,370 387,373.4 403,374.6 419,377.4 435,373 451,369 467,364.6 483,361.6 499,360.4 515,361 531,362.4 547,364.4 563,366.6 579,368.4 595,368.6 611,371.4 627,378.4 643,385.6 659,392 675,396 691,399 707,407.4 723,412.4 739,410.6 755,406 771,402.4 787,398.6 803,395.4 819,393 835,390.6" fill="none" stroke="#FF0000" stroke-width="1" stroke-linejoin="round"/>
<polyline points="3,432.5 19,428.5 35,428.5 51,431 67,437.5 83,447.5 99,458 115,465 131,472 147,479.4 163,483 179,483 195,484 211,481 227,476 243,473 259,470.6 275,468.6 291,467.4 307,465 323,460.6 339,460.4 355,464 371,470 387,474 403,475.4 419,472.6 435,469.4 451,462 467,455 483,448 499,445.4 515,448 531,452.4 547,459 563,465.6 579,468.6 595,468.4 611,472 627,475 643,479.4 659,483 675,483.4 691,485.4 707,486.4 723,487.4 739,484 755,479.4 771,473 787,465 803,463 819,465.4 835,464" fill="none" stroke="#20B2AA" stroke-width="1" stroke-linejoin="round"/>
<polyline points="3,434.8 19,433 35,431.5 51,431.5 67,431.5 83,433.5 99,440.5 115,447 131,456 147,465 163,473 179,476.6 195,480.6 211,482.4 227,481.6 243,479.4 259,477 275,474 291,471.4 307,469 323,466.4 339,464.4 355,463.4 371,463.6 387,466 403,469 419,471.4 435,472.4 451,471 467,467.4 483,461.6 499,456.4 515,451.4 531,449.6 547,450.6 563,454 579,458 595,461.4 611,465 627,470 643,473.4 659,476.4 675,479.4 691,481.4 707,483.6 723,485.6 739,485.6 755,484 771,481 787,477 803,473 819,469.4 835,466.4" fill="none" stroke="#FF0000" stroke-width="1" stroke-linejoin="round"/>
<polyline points="3,531 19,525.6 35,522 51,524 67,534 83,543.6 99,543.6 115,538 131,538 147,545 163,553 179,544 195,544 211,542.4 227,539 243,536 259,540 275,535 291,539 307,535 323,540.6 339,542.4 355,550 371,544.6 387,546 403,546 419,547 435,536.4 451,532.6 467,532 483,534.4 499,536.4 515,542 531,543.6 547,546.4 563,548 579,545.6 595,542.6 611,550 627,556.4 643,559 659,559.6 675,560 691,560 707,565 723,560.6 739,545 755,542 771,542 787,539.6 803,541.6 819,543.6 835,541" fill="none" stroke="#8B4513" stroke-width="2" stroke-linejoin="round"/>
<rect x="2.5" y="2.5" width="934" height="309" fill="none" stroke="#000" stroke-width="1"/>
<rect x="2.5" y="313.5" width="934" height="104" fill="none" stroke="#000" stroke-width="1"/>
<rect x="2.5" y="419.5" width="934" height="74" fill="none" stroke="#000" stroke-width="1"/>
<rect x="2.5" y="495.5" width="934" height="81" fill="none" stroke="#000" stroke-width="1"/>
<rect x="937" y="47" width="2" height="1" fill="#000"/>
<rect x="937" y="96" width="2" height="1" fill="#000"/>
<rect x="937" y="145" width="2" height="1" fill="#000"/>
<rect x="937" y="194" width="2" height="1" fill="#000"/>
<rect x="937" y="243" width="2" height="1" fill="#000"/>
<rect x="937" y="292" width="2" height="1" fill="#000"/>
<rect x="937" y="346" width="2" height="1" fill="#000"/>
<rect x="937" y="435" width="2" height="1" fill="#000"/>
<rect x="937" y="478" width="2" height="1" fill="#000"/>
<rect x="937" y="520" width="2" height="1" fill="#000"/>
<rect x="937" y="552" width="2" height="1" fill="#000"/>
<rect x="937" y="315" width="1" height="1" fill="#000"/>
<rect x="937" y="416" width="1" height="1" fill="#000"/>
<rect x="937" y="421" width="1" height="1" fill="#000"/>
<rect x="937" y="491" width="1" height="1" fill="#000"/>
<rect x="937" y="497" width="1" height="1" fill="#000"/>
<rect x="937" y="574" width="1" height="1" fill="#000"/>
<rect x="3" y="577" width="1" height="3" fill="#000"/>
<rect x="99" y="577" width="1" height="3" fill="#000"/>
<rect x="195" y="577" width="1" height="3" fill="#000"/>
<rect x="291" y="577" width="1" height="3" fill="#000"/>
<rect x="387" y="577" width="1" height="3" fill="#000"/>
<rect x="483" y="577" width="1" height="3" fill="#000"/>
<rect x="579" y="577" width="1" height="3" fill="#000"/>
<rect x="675" y="577" width="1" height="3" fill="#000"/>
<rect x="771" y="577" width="1" height="3" fill="#000"/>
<rect x="938" y="238" width="56" height="14" fill="#000"/>
</g>
<g>
<text x="6.9" y="17" fill="#000" textLength="44.6" lengthAdjust="spacingAndGlyphs">GBPUSD</text><text x="51.9" y="17" fill="#000" textLength="28.2" lengthAdjust="spacingAndGlyphs">,Daily</text><text x="86.8" y="17" fill="#000" textLength="46.7" lengthAdjust="spacingAndGlyphs">1.31280</text><text x="137.2" y="17" fill="#000" textLength="46.3" lengthAdjust="spacingAndGlyphs">1.31704</text><text x="187.3" y="17" fill="#000" textLength="46.2" lengthAdjust="spacingAndGlyphs">1.31000</text><text x="237.4" y="17" fill="#000" textLength="46.1" lengthAdjust="spacingAndGlyphs">1.31543</text><text x="7.1" y="329" fill="#000" textLength="31.8" lengthAdjust="spacingAndGlyphs">MACD</text><text x="38.7" y="329" fill="#000" textLength="53.4" lengthAdjust="spacingAndGlyphs">(12,26,9)</text><text x="96.3" y="329" fill="#000" textLength="52.6" lengthAdjust="spacingAndGlyphs">0.001532</text><text x="152.3" y="329" fill="#000" textLength="57.2" lengthAdjust="spacingAndGlyphs">-0.006809</text><text x="213.3" y="329" fill="#000" textLength="57.2" lengthAdjust="spacingAndGlyphs">-0.006044</text><text x="7.1" y="435" fill="#000" textLength="18.0" lengthAdjust="spacingAndGlyphs">Sto</text><text x="26.3" y="435" fill="#000" textLength="45.6" lengthAdjust="spacingAndGlyphs">(15,5,4)</text><text x="75.9" y="435" fill="#000" textLength="45.6" lengthAdjust="spacingAndGlyphs">39.0881</text><text x="125.7" y="435" fill="#000" textLength="45.8" lengthAdjust="spacingAndGlyphs">37.1445</text><text x="6.9" y="511" fill="#000" textLength="18.6" lengthAdjust="spacingAndGlyphs">RSI</text><text x="25.5" y="511" fill="#000" textLength="16.6" lengthAdjust="spacingAndGlyphs">(9)</text><text x="45.7" y="511" fill="#000" textLength="45.8" lengthAdjust="spacingAndGlyphs">45.1204</text><text x="943.1" y="52" fill="#000" textLength="45.4" lengthAdjust="spacingAndGlyphs">1.36510</text><text x="943.1" y="101" fill="#000" textLength="45.4" lengthAdjust="spacingAndGlyphs">1.35290</text><text x="943.1" y="150" fill="#000" textLength="45.4" lengthAdjust="spacingAndGlyphs">1.34050</text><text x="943.1" y="199" fill="#000" textLength="45.4" lengthAdjust="spacingAndGlyphs">1.32830</text><text x="943.1" y="297" fill="#000" textLength="45.4" lengthAdjust="spacingAndGlyphs">1.30370</text><text x="943.3" y="250" fill="#fff" textLength="46.0" lengthAdjust="spacingAndGlyphs">1.31543</text><text x="940.3" y="327" fill="#000" textLength="45.8" lengthAdjust="spacingAndGlyphs">0.00435</text><text x="940.3" y="351" fill="#000" textLength="24.2" lengthAdjust="spacingAndGlyphs">0.00</text><text x="940.3" y="414" fill="#000" textLength="56.2" lengthAdjust="spacingAndGlyphs">-0.009659</text><text x="939.8" y="433" fill="#000" textLength="20.7" lengthAdjust="spacingAndGlyphs">100</text><text x="939.8" y="440" fill="#000" textLength="13.7" lengthAdjust="spacingAndGlyphs">80</text><text x="939.8" y="483" fill="#000" textLength="13.7" lengthAdjust="spacingAndGlyphs">20</text><text x="940.3" y="490" fill="#000" textLength="7.2" lengthAdjust="spacingAndGlyphs">0</text><text x="939.8" y="509" fill="#000" textLength="20.7" lengthAdjust="spacingAndGlyphs">100</text><text x="939.8" y="525" fill="#000" textLength="13.7" lengthAdjust="spacingAndGlyphs">70</text><text x="939.8" y="557" fill="#000" textLength="13.7" lengthAdjust="spacingAndGlyphs">30</text><text x="940.3" y="573" fill="#000" textLength="7.2" lengthAdjust="spacingAndGlyphs">0</text><text x="2.3" y="592" fill="#000" textLength="70.2" lengthAdjust="spacingAndGlyphs">14 Sep 2025</text><text x="98.3" y="592" fill="#000" textLength="70.2" lengthAdjust="spacingAndGlyphs">21 Sep 2025</text><text x="193.9" y="592" fill="#000" textLength="70.6" lengthAdjust="spacingAndGlyphs">28 Sep 2025</text><text x="290.1" y="592" fill="#000" textLength="62.4" lengthAdjust="spacingAndGlyphs">5 Oct 2025</text><text x="386.1" y="592" fill="#000" textLength="69.4" lengthAdjust="spacingAndGlyphs">12 Oct 2025</text><text x="482.1" y="592" fill="#000" textLength="69.4" lengthAdjust="spacingAndGlyphs">19 Oct 2025</text><text x="577.9" y="592" fill="#000" textLength="69.6" lengthAdjust="spacingAndGlyphs">26 Oct 2025</text><text x="673.9" y="592" fill="#000" textLength="63.6" lengthAdjust="spacingAndGlyphs">2 Nov 2025</text><text x="770.1" y="592" fill="#000" textLength="64.0" lengthAdjust="spacingAndGlyphs">9 Nov 2025</text>
</g>
</svg>
</body></html>
